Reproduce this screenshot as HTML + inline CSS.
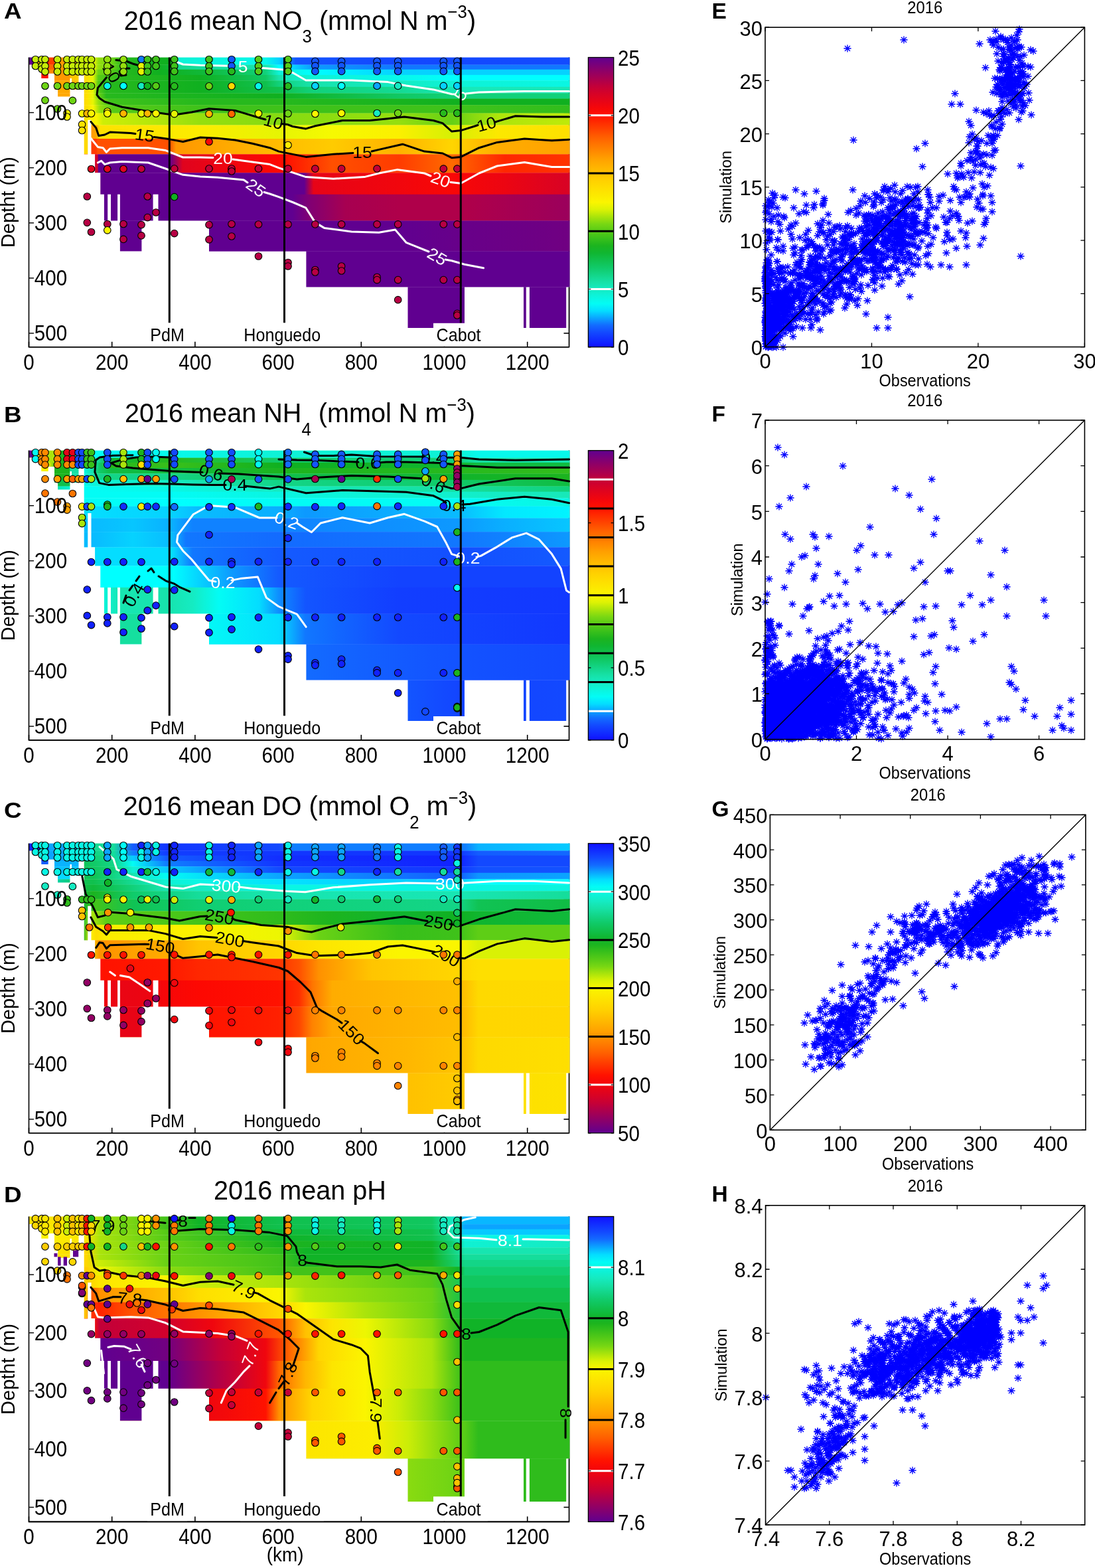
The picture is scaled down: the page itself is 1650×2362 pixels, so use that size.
<!DOCTYPE html>
<html><head><meta charset="utf-8"><style>html,body{margin:0;padding:0;background:#fff;} svg{display:block}</style></head>
<body><svg width="1650" height="2362" viewBox="0 0 1650 2362" font-family="'Liberation Sans', Arial, Helvetica, sans-serif">
<defs><linearGradient id="gA0" x1="0" x2="1" y1="0" y2="0"><stop offset="0.0000" stop-color="#600090"/><stop offset="0.0077" stop-color="#600090"/><stop offset="0.0079" stop-color="#ffa800"/><stop offset="0.0230" stop-color="#ffa800"/><stop offset="0.0231" stop-color="#f90706"/><stop offset="0.0359" stop-color="#f90706"/><stop offset="0.0360" stop-color="#ff3b00"/><stop offset="0.0473" stop-color="#ff3b00"/><stop offset="0.0474" stop-color="#ff9700"/><stop offset="0.1014" stop-color="#ffa800"/><stop offset="0.1087" stop-color="#fcec00"/><stop offset="0.1186" stop-color="#fbf500"/><stop offset="0.1284" stop-color="#96df0e"/><stop offset="0.1529" stop-color="#6ed414"/><stop offset="0.1738" stop-color="#27b91d"/><stop offset="0.2414" stop-color="#10b020"/><stop offset="0.2635" stop-color="#10b020"/><stop offset="0.2758" stop-color="#0ef2d6"/><stop offset="0.4380" stop-color="#07f8eb"/><stop offset="0.4625" stop-color="#06d2ff"/><stop offset="0.4932" stop-color="#1355ff"/><stop offset="0.6837" stop-color="#1347ff"/><stop offset="0.9994" stop-color="#134bff"/><stop offset="1.0000" stop-color="#134bff"/></linearGradient><linearGradient id="gA1" x1="0" x2="1" y1="0" y2="0"><stop offset="0.0000" stop-color="#ff1200"/><stop offset="0.0230" stop-color="#ff1200"/><stop offset="0.0231" stop-color="#f90706"/><stop offset="0.0359" stop-color="#f90706"/><stop offset="0.0360" stop-color="#ff6400"/><stop offset="0.0473" stop-color="#ff6400"/><stop offset="0.0474" stop-color="#ff9700"/><stop offset="0.0756" stop-color="#ff9700"/><stop offset="0.0768" stop-color="#ffc100"/><stop offset="0.1014" stop-color="#ffc100"/><stop offset="0.1087" stop-color="#fcec00"/><stop offset="0.1186" stop-color="#fbf500"/><stop offset="0.1284" stop-color="#96df0e"/><stop offset="0.1529" stop-color="#6ed414"/><stop offset="0.1738" stop-color="#27b91d"/><stop offset="0.2414" stop-color="#10b020"/><stop offset="0.2635" stop-color="#10b836"/><stop offset="0.2758" stop-color="#14da93"/><stop offset="0.4380" stop-color="#17e3ac"/><stop offset="0.4625" stop-color="#00ffff"/><stop offset="0.5240" stop-color="#0d9bff"/><stop offset="0.6837" stop-color="#1177ff"/><stop offset="0.9994" stop-color="#1177ff"/><stop offset="1.0000" stop-color="#1177ff"/></linearGradient><linearGradient id="gA2" x1="0" x2="1" y1="0" y2="0"><stop offset="0.0000" stop-color="#ff1200"/><stop offset="0.0359" stop-color="#ff1200"/><stop offset="0.0360" stop-color="#ff8600"/><stop offset="0.0473" stop-color="#ff8600"/><stop offset="0.0474" stop-color="#ff9700"/><stop offset="0.0756" stop-color="#ff9700"/><stop offset="0.0768" stop-color="#ffc100"/><stop offset="0.1014" stop-color="#fed900"/><stop offset="0.1087" stop-color="#fcec00"/><stop offset="0.1186" stop-color="#e6f503"/><stop offset="0.1284" stop-color="#6ed414"/><stop offset="0.1529" stop-color="#57cb17"/><stop offset="0.1738" stop-color="#27b91d"/><stop offset="0.2414" stop-color="#10b020"/><stop offset="0.3151" stop-color="#10b836"/><stop offset="0.4380" stop-color="#11d17a"/><stop offset="0.4625" stop-color="#0ef2d6"/><stop offset="0.5240" stop-color="#00ffff"/><stop offset="0.6837" stop-color="#06d2ff"/><stop offset="0.9994" stop-color="#06d2ff"/><stop offset="1.0000" stop-color="#06d2ff"/></linearGradient><linearGradient id="gA3" x1="0" x2="1" y1="0" y2="0"><stop offset="0.0000" stop-color="#ff1200"/><stop offset="0.0359" stop-color="#ff1200"/><stop offset="0.0360" stop-color="#ff9700"/><stop offset="0.0756" stop-color="#ff9700"/><stop offset="0.0768" stop-color="#ffc100"/><stop offset="0.1014" stop-color="#fed900"/><stop offset="0.1087" stop-color="#fde200"/><stop offset="0.1186" stop-color="#e6f503"/><stop offset="0.1284" stop-color="#57cb17"/><stop offset="0.1529" stop-color="#3fc21a"/><stop offset="0.1738" stop-color="#27b91d"/><stop offset="0.3151" stop-color="#10b020"/><stop offset="0.4380" stop-color="#10c863"/><stop offset="0.4625" stop-color="#17e3ac"/><stop offset="0.5240" stop-color="#0ef2d6"/><stop offset="0.6837" stop-color="#07f8eb"/><stop offset="0.8065" stop-color="#00ffff"/><stop offset="0.9994" stop-color="#00ffff"/><stop offset="1.0000" stop-color="#00ffff"/></linearGradient><linearGradient id="gA4" x1="0" x2="1" y1="0" y2="0"><stop offset="0.0000" stop-color="#ffa800"/><stop offset="0.0756" stop-color="#ffa800"/><stop offset="0.1014" stop-color="#fed900"/><stop offset="0.1087" stop-color="#fde200"/><stop offset="0.1186" stop-color="#e6f503"/><stop offset="0.1284" stop-color="#57cb17"/><stop offset="0.1431" stop-color="#27b91d"/><stop offset="0.3151" stop-color="#10b020"/><stop offset="0.4380" stop-color="#10c04d"/><stop offset="0.4625" stop-color="#11d17a"/><stop offset="0.5240" stop-color="#17e3ac"/><stop offset="0.6837" stop-color="#15ebc2"/><stop offset="0.7819" stop-color="#0ef2d6"/><stop offset="0.9994" stop-color="#0af6e3"/><stop offset="1.0000" stop-color="#0af6e3"/></linearGradient><linearGradient id="gA5" x1="0" x2="1" y1="0" y2="0"><stop offset="0.0000" stop-color="#ffa800"/><stop offset="0.0756" stop-color="#ffa800"/><stop offset="0.1014" stop-color="#fed900"/><stop offset="0.1087" stop-color="#fde200"/><stop offset="0.1186" stop-color="#e6f503"/><stop offset="0.1284" stop-color="#57cb17"/><stop offset="0.1431" stop-color="#27b91d"/><stop offset="0.3151" stop-color="#10b020"/><stop offset="0.4625" stop-color="#10c04d"/><stop offset="0.5240" stop-color="#11d17a"/><stop offset="0.6837" stop-color="#14da93"/><stop offset="0.8065" stop-color="#17e9ba"/><stop offset="0.9994" stop-color="#18e7b6"/><stop offset="1.0000" stop-color="#18e7b6"/></linearGradient><linearGradient id="gA6" x1="0" x2="1" y1="0" y2="0"><stop offset="0.0000" stop-color="#ffa800"/><stop offset="0.0756" stop-color="#ffa800"/><stop offset="0.1014" stop-color="#fed900"/><stop offset="0.1087" stop-color="#fde200"/><stop offset="0.1186" stop-color="#e6f503"/><stop offset="0.1284" stop-color="#6ed414"/><stop offset="0.1431" stop-color="#27b91d"/><stop offset="0.3151" stop-color="#19b41f"/><stop offset="0.4625" stop-color="#10b020"/><stop offset="0.6837" stop-color="#10c863"/><stop offset="0.8065" stop-color="#11d17a"/><stop offset="0.9994" stop-color="#11d17a"/><stop offset="1.0000" stop-color="#11d17a"/></linearGradient><linearGradient id="gA7" x1="0" x2="1" y1="0" y2="0"><stop offset="0.0000" stop-color="#ffa800"/><stop offset="0.0756" stop-color="#ffa800"/><stop offset="0.1014" stop-color="#fed900"/><stop offset="0.1087" stop-color="#fde200"/><stop offset="0.1186" stop-color="#e6f503"/><stop offset="0.1284" stop-color="#96df0e"/><stop offset="0.1493" stop-color="#3fc21a"/><stop offset="0.3151" stop-color="#27b91d"/><stop offset="0.4625" stop-color="#27b91d"/><stop offset="0.8065" stop-color="#10b020"/><stop offset="0.9994" stop-color="#10b020"/><stop offset="1.0000" stop-color="#10b020"/></linearGradient><linearGradient id="gA8" x1="0" x2="1" y1="0" y2="0"><stop offset="0.0000" stop-color="#ffa800"/><stop offset="0.1014" stop-color="#fed900"/><stop offset="0.1087" stop-color="#fde200"/><stop offset="0.1186" stop-color="#fbf500"/><stop offset="0.1308" stop-color="#96df0e"/><stop offset="0.1554" stop-color="#57cb17"/><stop offset="0.3151" stop-color="#3fc21a"/><stop offset="0.4625" stop-color="#3fc21a"/><stop offset="0.6837" stop-color="#3fc21a"/><stop offset="0.8065" stop-color="#3fc21a"/><stop offset="0.9994" stop-color="#31bd1c"/><stop offset="1.0000" stop-color="#31bd1c"/></linearGradient><linearGradient id="gA9" x1="0" x2="1" y1="0" y2="0"><stop offset="0.0000" stop-color="#ffa800"/><stop offset="0.1014" stop-color="#fed900"/><stop offset="0.1087" stop-color="#fcec00"/><stop offset="0.1247" stop-color="#fbf500"/><stop offset="0.1370" stop-color="#ceee06"/><stop offset="0.2537" stop-color="#aee50b"/><stop offset="0.3151" stop-color="#96df0e"/><stop offset="0.4625" stop-color="#86db11"/><stop offset="0.6837" stop-color="#96df0e"/><stop offset="0.7819" stop-color="#65d015"/><stop offset="0.8679" stop-color="#aee50b"/><stop offset="0.9994" stop-color="#beea09"/><stop offset="1.0000" stop-color="#beea09"/></linearGradient><linearGradient id="gA10" x1="0" x2="1" y1="0" y2="0"><stop offset="0.0000" stop-color="#ffa800"/><stop offset="0.1014" stop-color="#fed900"/><stop offset="0.1124" stop-color="#fed900"/><stop offset="0.1149" stop-color="#ff9700"/><stop offset="0.1247" stop-color="#ffa800"/><stop offset="0.1308" stop-color="#fde200"/><stop offset="0.3151" stop-color="#fcec00"/><stop offset="0.4625" stop-color="#e6f503"/><stop offset="0.5608" stop-color="#f6f901"/><stop offset="0.6837" stop-color="#fbf000"/><stop offset="0.7819" stop-color="#d6f005"/><stop offset="0.8679" stop-color="#fce800"/><stop offset="0.9994" stop-color="#fde000"/><stop offset="1.0000" stop-color="#fde000"/></linearGradient><linearGradient id="gA11" x1="0" x2="1" y1="0" y2="0"><stop offset="0.0000" stop-color="#ffa800"/><stop offset="0.1014" stop-color="#fed900"/><stop offset="0.1124" stop-color="#fed900"/><stop offset="0.1149" stop-color="#ff3b00"/><stop offset="0.1247" stop-color="#ff3b00"/><stop offset="0.1271" stop-color="#ff5000"/><stop offset="0.2598" stop-color="#ff5000"/><stop offset="0.2721" stop-color="#ff9700"/><stop offset="0.4625" stop-color="#ffbc00"/><stop offset="0.5608" stop-color="#ffcb00"/><stop offset="0.6837" stop-color="#ffb200"/><stop offset="0.7819" stop-color="#ffd500"/><stop offset="0.8679" stop-color="#ffad00"/><stop offset="0.9994" stop-color="#ffa100"/><stop offset="1.0000" stop-color="#ffa100"/></linearGradient><linearGradient id="gA12" x1="0" x2="1" y1="0" y2="0"><stop offset="0.0000" stop-color="#ffa700"/><stop offset="0.1186" stop-color="#ff1200"/><stop offset="0.1222" stop-color="#d3012a"/><stop offset="0.1271" stop-color="#d3012a"/><stop offset="0.1284" stop-color="#600090"/><stop offset="0.2598" stop-color="#600090"/><stop offset="0.2844" stop-color="#e0031e"/><stop offset="0.4625" stop-color="#fe0801"/><stop offset="0.5608" stop-color="#ff5000"/><stop offset="0.6837" stop-color="#ff3b00"/><stop offset="0.7819" stop-color="#ff6b00"/><stop offset="0.8802" stop-color="#ff2700"/><stop offset="0.9994" stop-color="#ff3300"/><stop offset="1.0000" stop-color="#ff3300"/></linearGradient><linearGradient id="gA13" x1="0" x2="1" y1="0" y2="0"><stop offset="0.0000" stop-color="#d3012a"/><stop offset="0.1308" stop-color="#88006d"/><stop offset="0.1333" stop-color="#600090"/><stop offset="0.3151" stop-color="#600090"/><stop offset="0.4625" stop-color="#600090"/><stop offset="0.5092" stop-color="#600090"/><stop offset="0.5264" stop-color="#e70417"/><stop offset="0.6837" stop-color="#f1060d"/><stop offset="0.7819" stop-color="#f90706"/><stop offset="0.8802" stop-color="#ec0512"/><stop offset="0.9994" stop-color="#d80225"/><stop offset="1.0000" stop-color="#d80225"/></linearGradient><linearGradient id="gA14" x1="0" x2="1" y1="0" y2="0"><stop offset="0.0000" stop-color="#600090"/><stop offset="0.3151" stop-color="#600090"/><stop offset="0.4871" stop-color="#600090"/><stop offset="0.5178" stop-color="#800074"/><stop offset="0.5854" stop-color="#a70051"/><stop offset="0.6837" stop-color="#af004a"/><stop offset="0.8065" stop-color="#af004a"/><stop offset="0.9994" stop-color="#9b005c"/><stop offset="1.0000" stop-color="#9b005c"/></linearGradient><linearGradient id="gA15" x1="0" x2="1" y1="0" y2="0"><stop offset="0.0000" stop-color="#600090"/><stop offset="0.4625" stop-color="#600090"/><stop offset="0.6837" stop-color="#600090"/><stop offset="0.8065" stop-color="#680089"/><stop offset="0.9994" stop-color="#700082"/><stop offset="1.0000" stop-color="#700082"/></linearGradient><linearGradient id="gA16" x1="0" x2="1" y1="0" y2="0"><stop offset="0.0000" stop-color="#600090"/><stop offset="0.6837" stop-color="#600090"/><stop offset="0.9994" stop-color="#600090"/><stop offset="1.0000" stop-color="#600090"/></linearGradient><linearGradient id="gA17" x1="0" x2="1" y1="0" y2="0"><stop offset="0.0000" stop-color="#600090"/><stop offset="0.9994" stop-color="#600090"/><stop offset="1.0000" stop-color="#600090"/></linearGradient><linearGradient id="gB0" x1="0" x2="1" y1="0" y2="0"><stop offset="0.0000" stop-color="#600090"/><stop offset="0.0077" stop-color="#600090"/><stop offset="0.0079" stop-color="#fbf500"/><stop offset="0.0227" stop-color="#fbf500"/><stop offset="0.0231" stop-color="#aae40b"/><stop offset="0.0473" stop-color="#aae40b"/><stop offset="0.0474" stop-color="#1cb41f"/><stop offset="0.0756" stop-color="#1cb41f"/><stop offset="0.0762" stop-color="#16e1a6"/><stop offset="0.0977" stop-color="#16e1a6"/><stop offset="0.0985" stop-color="#03fcf5"/><stop offset="0.1186" stop-color="#03fcf5"/><stop offset="0.2660" stop-color="#07f8eb"/><stop offset="0.4625" stop-color="#0ef2d6"/><stop offset="0.7942" stop-color="#0ef2d6"/><stop offset="0.8311" stop-color="#07f8eb"/><stop offset="0.9994" stop-color="#07f8eb"/><stop offset="1.0000" stop-color="#07f8eb"/></linearGradient><linearGradient id="gB1" x1="0" x2="1" y1="0" y2="0"><stop offset="0.0000" stop-color="#fbf500"/><stop offset="0.0227" stop-color="#fbf500"/><stop offset="0.0231" stop-color="#aae40b"/><stop offset="0.0473" stop-color="#aae40b"/><stop offset="0.0474" stop-color="#1cb41f"/><stop offset="0.0756" stop-color="#1cb41f"/><stop offset="0.0762" stop-color="#16e1a6"/><stop offset="0.0977" stop-color="#16e1a6"/><stop offset="0.0985" stop-color="#03fcf5"/><stop offset="0.1186" stop-color="#0cf4dc"/><stop offset="0.1308" stop-color="#13d587"/><stop offset="0.1517" stop-color="#10b631"/><stop offset="0.2660" stop-color="#27b91d"/><stop offset="0.4625" stop-color="#10ca68"/><stop offset="0.7942" stop-color="#11d17a"/><stop offset="0.8311" stop-color="#16e1a6"/><stop offset="0.9994" stop-color="#17e6b2"/><stop offset="1.0000" stop-color="#17e6b2"/></linearGradient><linearGradient id="gB2" x1="0" x2="1" y1="0" y2="0"><stop offset="0.0000" stop-color="#fbf500"/><stop offset="0.0362" stop-color="#fbf500"/><stop offset="0.0473" stop-color="#57cb17"/><stop offset="0.0474" stop-color="#1cb41f"/><stop offset="0.0756" stop-color="#1cb41f"/><stop offset="0.0762" stop-color="#16e1a6"/><stop offset="0.0977" stop-color="#16e1a6"/><stop offset="0.0985" stop-color="#03fcf5"/><stop offset="0.1186" stop-color="#15ebc2"/><stop offset="0.1308" stop-color="#10ca68"/><stop offset="0.1517" stop-color="#27b91d"/><stop offset="0.2660" stop-color="#39c01b"/><stop offset="0.4625" stop-color="#10b020"/><stop offset="0.7942" stop-color="#10b631"/><stop offset="0.8311" stop-color="#10bc41"/><stop offset="0.9994" stop-color="#10bc41"/><stop offset="1.0000" stop-color="#10bc41"/></linearGradient><linearGradient id="gB3" x1="0" x2="1" y1="0" y2="0"><stop offset="0.0000" stop-color="#fbf500"/><stop offset="0.0362" stop-color="#fbf500"/><stop offset="0.0473" stop-color="#39c01b"/><stop offset="0.0474" stop-color="#1cb41f"/><stop offset="0.0756" stop-color="#1cb41f"/><stop offset="0.0762" stop-color="#16e1a6"/><stop offset="0.0977" stop-color="#16e1a6"/><stop offset="0.0985" stop-color="#03fcf5"/><stop offset="0.1186" stop-color="#16e1a6"/><stop offset="0.1308" stop-color="#10ca68"/><stop offset="0.1517" stop-color="#10bc41"/><stop offset="0.2660" stop-color="#10bc41"/><stop offset="0.4625" stop-color="#1cb41f"/><stop offset="0.7942" stop-color="#27b91d"/><stop offset="0.9994" stop-color="#33be1c"/><stop offset="1.0000" stop-color="#33be1c"/></linearGradient><linearGradient id="gB4" x1="0" x2="1" y1="0" y2="0"><stop offset="0.0000" stop-color="#1cb41f"/><stop offset="0.0756" stop-color="#1cb41f"/><stop offset="0.0762" stop-color="#16e1a6"/><stop offset="0.0977" stop-color="#16e1a6"/><stop offset="0.0985" stop-color="#03fcf5"/><stop offset="0.1186" stop-color="#16e1a6"/><stop offset="0.1308" stop-color="#13d587"/><stop offset="0.2660" stop-color="#13d587"/><stop offset="0.4625" stop-color="#10c04d"/><stop offset="0.7942" stop-color="#10b42b"/><stop offset="0.9994" stop-color="#1cb41f"/><stop offset="1.0000" stop-color="#1cb41f"/></linearGradient><linearGradient id="gB5" x1="0" x2="1" y1="0" y2="0"><stop offset="0.0000" stop-color="#10c04d"/><stop offset="0.0756" stop-color="#10c04d"/><stop offset="0.0985" stop-color="#03fcf5"/><stop offset="0.1186" stop-color="#0cf4dc"/><stop offset="0.1308" stop-color="#0ef2d6"/><stop offset="0.2660" stop-color="#15ebc2"/><stop offset="0.4625" stop-color="#13d587"/><stop offset="0.7942" stop-color="#10ca68"/><stop offset="0.9994" stop-color="#10bc41"/><stop offset="1.0000" stop-color="#10bc41"/></linearGradient><linearGradient id="gB6" x1="0" x2="1" y1="0" y2="0"><stop offset="0.0000" stop-color="#10ca69"/><stop offset="0.0985" stop-color="#03fcf5"/><stop offset="0.1186" stop-color="#03fcf5"/><stop offset="0.2660" stop-color="#09f7e6"/><stop offset="0.4625" stop-color="#15ebc2"/><stop offset="0.7942" stop-color="#15df9f"/><stop offset="0.9994" stop-color="#11d17a"/><stop offset="1.0000" stop-color="#11d17a"/></linearGradient><linearGradient id="gB7" x1="0" x2="1" y1="0" y2="0"><stop offset="0.0000" stop-color="#13d687"/><stop offset="0.0985" stop-color="#03fcf5"/><stop offset="0.1186" stop-color="#03fcf5"/><stop offset="0.2660" stop-color="#03fcf5"/><stop offset="0.4625" stop-color="#0af5e1"/><stop offset="0.7942" stop-color="#11efcc"/><stop offset="0.9994" stop-color="#18e8b8"/><stop offset="1.0000" stop-color="#18e8b8"/></linearGradient><linearGradient id="gB8" x1="0" x2="1" y1="0" y2="0"><stop offset="0.0000" stop-color="#03fcf5"/><stop offset="0.1186" stop-color="#03fcf5"/><stop offset="0.2660" stop-color="#00ffff"/><stop offset="0.4625" stop-color="#03fcf5"/><stop offset="0.7942" stop-color="#03fcf5"/><stop offset="0.9994" stop-color="#0af5e1"/><stop offset="1.0000" stop-color="#0af5e1"/></linearGradient><linearGradient id="gB9" x1="0" x2="1" y1="0" y2="0"><stop offset="0.0000" stop-color="#03e8ff"/><stop offset="0.1186" stop-color="#04ddff"/><stop offset="0.2660" stop-color="#06d2ff"/><stop offset="0.3151" stop-color="#09bbff"/><stop offset="0.4625" stop-color="#0aafff"/><stop offset="0.5117" stop-color="#0d99ff"/><stop offset="0.7942" stop-color="#09bbff"/><stop offset="0.8802" stop-color="#03e8ff"/><stop offset="0.9994" stop-color="#01f4ff"/><stop offset="1.0000" stop-color="#01f4ff"/></linearGradient><linearGradient id="gB10" x1="0" x2="1" y1="0" y2="0"><stop offset="0.0000" stop-color="#06d1ff"/><stop offset="0.1186" stop-color="#09bbff"/><stop offset="0.1923" stop-color="#07c6ff"/><stop offset="0.2660" stop-color="#0aafff"/><stop offset="0.3028" stop-color="#1082ff"/><stop offset="0.4625" stop-color="#1082ff"/><stop offset="0.7942" stop-color="#0d99ff"/><stop offset="0.8802" stop-color="#0aafff"/><stop offset="0.9994" stop-color="#07c6ff"/><stop offset="1.0000" stop-color="#07c6ff"/></linearGradient><linearGradient id="gB11" x1="0" x2="1" y1="0" y2="0"><stop offset="0.0000" stop-color="#07c6ff"/><stop offset="0.1186" stop-color="#09bbff"/><stop offset="0.1923" stop-color="#06d2ff"/><stop offset="0.2660" stop-color="#09bbff"/><stop offset="0.2905" stop-color="#1177ff"/><stop offset="0.4625" stop-color="#136bff"/><stop offset="0.7942" stop-color="#1177ff"/><stop offset="0.8802" stop-color="#1082ff"/><stop offset="0.9994" stop-color="#0d99ff"/><stop offset="1.0000" stop-color="#0d99ff"/></linearGradient><linearGradient id="gB12" x1="0" x2="1" y1="0" y2="0"><stop offset="0.0000" stop-color="#04ddff"/><stop offset="0.1186" stop-color="#04ddff"/><stop offset="0.2660" stop-color="#04ddff"/><stop offset="0.3028" stop-color="#1177ff"/><stop offset="0.4625" stop-color="#145aff"/><stop offset="0.7942" stop-color="#134fff"/><stop offset="0.9994" stop-color="#145aff"/><stop offset="1.0000" stop-color="#145aff"/></linearGradient><linearGradient id="gB13" x1="0" x2="1" y1="0" y2="0"><stop offset="0.0000" stop-color="#00ffff"/><stop offset="0.1186" stop-color="#00ffff"/><stop offset="0.2660" stop-color="#00ffff"/><stop offset="0.3151" stop-color="#06d2ff"/><stop offset="0.3765" stop-color="#0d99ff"/><stop offset="0.4625" stop-color="#145aff"/><stop offset="0.6837" stop-color="#1343ff"/><stop offset="0.9994" stop-color="#1343ff"/><stop offset="1.0000" stop-color="#1343ff"/></linearGradient><linearGradient id="gB14" x1="0" x2="1" y1="0" y2="0"><stop offset="0.0000" stop-color="#07f8eb"/><stop offset="0.1308" stop-color="#09f7e6"/><stop offset="0.1677" stop-color="#17e6b2"/><stop offset="0.2537" stop-color="#17e3ac"/><stop offset="0.3028" stop-color="#15ebc2"/><stop offset="0.3520" stop-color="#03fcf5"/><stop offset="0.4257" stop-color="#04ddff"/><stop offset="0.4625" stop-color="#0e8dff"/><stop offset="0.5117" stop-color="#1355ff"/><stop offset="0.6837" stop-color="#123eff"/><stop offset="0.9994" stop-color="#1238ff"/><stop offset="1.0000" stop-color="#1238ff"/></linearGradient><linearGradient id="gB15" x1="0" x2="1" y1="0" y2="0"><stop offset="0.0000" stop-color="#16e1a5"/><stop offset="0.1677" stop-color="#15df9f"/><stop offset="0.2537" stop-color="#15df9f"/><stop offset="0.3151" stop-color="#03fcf5"/><stop offset="0.4625" stop-color="#04ddff"/><stop offset="0.5117" stop-color="#1177ff"/><stop offset="0.6837" stop-color="#1349ff"/><stop offset="0.9994" stop-color="#1238ff"/><stop offset="1.0000" stop-color="#1238ff"/></linearGradient><linearGradient id="gB16" x1="0" x2="1" y1="0" y2="0"><stop offset="0.0000" stop-color="#03fcf5"/><stop offset="0.4625" stop-color="#06d2ff"/><stop offset="0.5117" stop-color="#136bff"/><stop offset="0.7451" stop-color="#1355ff"/><stop offset="0.9994" stop-color="#1349ff"/><stop offset="1.0000" stop-color="#1349ff"/></linearGradient><linearGradient id="gB17" x1="0" x2="1" y1="0" y2="0"><stop offset="0.0000" stop-color="#145aff"/><stop offset="0.7009" stop-color="#1355ff"/><stop offset="0.8065" stop-color="#1343ff"/><stop offset="0.9994" stop-color="#1349ff"/><stop offset="1.0000" stop-color="#1349ff"/></linearGradient><linearGradient id="gC0" x1="0" x2="1" y1="0" y2="0"><stop offset="0.0000" stop-color="#1123ff"/><stop offset="0.0362" stop-color="#1123ff"/><stop offset="0.0364" stop-color="#0ba4ff"/><stop offset="0.0977" stop-color="#0ba4ff"/><stop offset="0.0985" stop-color="#13d587"/><stop offset="0.1566" stop-color="#15dd9b"/><stop offset="0.1923" stop-color="#145cff"/><stop offset="0.2537" stop-color="#1236ff"/><stop offset="0.4625" stop-color="#1349ff"/><stop offset="0.4871" stop-color="#107eff"/><stop offset="0.8065" stop-color="#107eff"/><stop offset="0.8311" stop-color="#0ab3ff"/><stop offset="0.9994" stop-color="#07caff"/><stop offset="1.0000" stop-color="#07caff"/></linearGradient><linearGradient id="gC1" x1="0" x2="1" y1="0" y2="0"><stop offset="0.0000" stop-color="#1123ff"/><stop offset="0.0362" stop-color="#1123ff"/><stop offset="0.0364" stop-color="#0ba4ff"/><stop offset="0.0977" stop-color="#0ba4ff"/><stop offset="0.0985" stop-color="#10ce72"/><stop offset="0.1566" stop-color="#15dd9b"/><stop offset="0.1923" stop-color="#107eff"/><stop offset="0.2537" stop-color="#123eff"/><stop offset="0.4625" stop-color="#1236ff"/><stop offset="0.7942" stop-color="#1236ff"/><stop offset="0.8311" stop-color="#145cff"/><stop offset="0.9994" stop-color="#1368ff"/><stop offset="1.0000" stop-color="#1368ff"/></linearGradient><linearGradient id="gC2" x1="0" x2="1" y1="0" y2="0"><stop offset="0.0000" stop-color="#1123ff"/><stop offset="0.0362" stop-color="#1123ff"/><stop offset="0.0364" stop-color="#0ba4ff"/><stop offset="0.0977" stop-color="#0ba4ff"/><stop offset="0.0985" stop-color="#10c75f"/><stop offset="0.1566" stop-color="#14da93"/><stop offset="0.1923" stop-color="#07caff"/><stop offset="0.2537" stop-color="#145cff"/><stop offset="0.4625" stop-color="#122eff"/><stop offset="0.7942" stop-color="#1123ff"/><stop offset="0.8311" stop-color="#1349ff"/><stop offset="0.9994" stop-color="#1349ff"/><stop offset="1.0000" stop-color="#1349ff"/></linearGradient><linearGradient id="gC3" x1="0" x2="1" y1="0" y2="0"><stop offset="0.0000" stop-color="#145cff"/><stop offset="0.0362" stop-color="#145cff"/><stop offset="0.0364" stop-color="#0ab3ff"/><stop offset="0.0977" stop-color="#0ab3ff"/><stop offset="0.0985" stop-color="#10c354"/><stop offset="0.1566" stop-color="#13d587"/><stop offset="0.1923" stop-color="#03fcf5"/><stop offset="0.2537" stop-color="#107eff"/><stop offset="0.4625" stop-color="#1236ff"/><stop offset="0.7942" stop-color="#1123ff"/><stop offset="0.8311" stop-color="#1349ff"/><stop offset="0.9994" stop-color="#1349ff"/><stop offset="1.0000" stop-color="#1349ff"/></linearGradient><linearGradient id="gC4" x1="0" x2="1" y1="0" y2="0"><stop offset="0.0000" stop-color="#0ab3ff"/><stop offset="0.0977" stop-color="#07caff"/><stop offset="0.0985" stop-color="#10c354"/><stop offset="0.1186" stop-color="#10c75f"/><stop offset="0.1566" stop-color="#11d17a"/><stop offset="0.1923" stop-color="#0ff1d3"/><stop offset="0.2537" stop-color="#07caff"/><stop offset="0.4625" stop-color="#1349ff"/><stop offset="0.7942" stop-color="#1236ff"/><stop offset="0.8311" stop-color="#1351ff"/><stop offset="0.9994" stop-color="#1351ff"/><stop offset="1.0000" stop-color="#1351ff"/></linearGradient><linearGradient id="gC5" x1="0" x2="1" y1="0" y2="0"><stop offset="0.0000" stop-color="#07caff"/><stop offset="0.0977" stop-color="#04e1ff"/><stop offset="0.0985" stop-color="#10c354"/><stop offset="0.1186" stop-color="#10c354"/><stop offset="0.1923" stop-color="#17e5b0"/><stop offset="0.2537" stop-color="#03fcf5"/><stop offset="0.4625" stop-color="#0ba4ff"/><stop offset="0.7942" stop-color="#145cff"/><stop offset="0.8311" stop-color="#0d95ff"/><stop offset="0.9994" stop-color="#0ba4ff"/><stop offset="1.0000" stop-color="#0ba4ff"/></linearGradient><linearGradient id="gC6" x1="0" x2="1" y1="0" y2="0"><stop offset="0.0000" stop-color="#04e3ff"/><stop offset="0.0985" stop-color="#10c354"/><stop offset="0.1186" stop-color="#10c04d"/><stop offset="0.1923" stop-color="#14da93"/><stop offset="0.2537" stop-color="#0ff1d3"/><stop offset="0.3151" stop-color="#09f6e4"/><stop offset="0.4625" stop-color="#04e1ff"/><stop offset="0.7942" stop-color="#07caff"/><stop offset="0.8311" stop-color="#00ffff"/><stop offset="0.9994" stop-color="#00ffff"/><stop offset="1.0000" stop-color="#00ffff"/></linearGradient><linearGradient id="gC7" x1="0" x2="1" y1="0" y2="0"><stop offset="0.0000" stop-color="#02f2ff"/><stop offset="0.0985" stop-color="#10c04d"/><stop offset="0.1186" stop-color="#10b93a"/><stop offset="0.1923" stop-color="#11d17a"/><stop offset="0.2537" stop-color="#17e5b0"/><stop offset="0.3151" stop-color="#15ebc2"/><stop offset="0.4625" stop-color="#09f6e4"/><stop offset="0.7942" stop-color="#09f6e4"/><stop offset="0.9994" stop-color="#0bf4dd"/><stop offset="1.0000" stop-color="#0bf4dd"/></linearGradient><linearGradient id="gC8" x1="0" x2="1" y1="0" y2="0"><stop offset="0.0000" stop-color="#04fbf4"/><stop offset="0.0985" stop-color="#10bd45"/><stop offset="0.1186" stop-color="#1cb41f"/><stop offset="0.1923" stop-color="#10cb6a"/><stop offset="0.3151" stop-color="#15dd9b"/><stop offset="0.4625" stop-color="#17e5b0"/><stop offset="0.7942" stop-color="#18e6b4"/><stop offset="0.9994" stop-color="#15dd9b"/><stop offset="1.0000" stop-color="#15dd9b"/></linearGradient><linearGradient id="gC9" x1="0" x2="1" y1="0" y2="0"><stop offset="0.0000" stop-color="#09f6e3"/><stop offset="0.0985" stop-color="#10b93a"/><stop offset="0.1149" stop-color="#2fbc1c"/><stop offset="0.1247" stop-color="#43c41a"/><stop offset="0.1923" stop-color="#10c354"/><stop offset="0.3151" stop-color="#10ce72"/><stop offset="0.4625" stop-color="#11d17a"/><stop offset="0.7942" stop-color="#13d587"/><stop offset="0.8311" stop-color="#10c354"/><stop offset="0.9994" stop-color="#10bd45"/><stop offset="1.0000" stop-color="#10bd45"/></linearGradient><linearGradient id="gC10" x1="0" x2="1" y1="0" y2="0"><stop offset="0.0000" stop-color="#09f6e3"/><stop offset="0.0985" stop-color="#10b93a"/><stop offset="0.1149" stop-color="#aae40b"/><stop offset="0.1247" stop-color="#96df0e"/><stop offset="0.1431" stop-color="#5ece16"/><stop offset="0.3151" stop-color="#43c41a"/><stop offset="0.4625" stop-color="#2fbc1c"/><stop offset="0.5608" stop-color="#1cb41f"/><stop offset="0.6837" stop-color="#10b52f"/><stop offset="0.7942" stop-color="#10b020"/><stop offset="0.8311" stop-color="#10b52f"/><stop offset="0.9994" stop-color="#10b93a"/><stop offset="1.0000" stop-color="#10b93a"/></linearGradient><linearGradient id="gC11" x1="0" x2="1" y1="0" y2="0"><stop offset="0.0000" stop-color="#09f6e3"/><stop offset="0.0985" stop-color="#10b327"/><stop offset="0.1149" stop-color="#fced00"/><stop offset="0.1247" stop-color="#fedd00"/><stop offset="0.1431" stop-color="#fced00"/><stop offset="0.3151" stop-color="#fbf200"/><stop offset="0.4625" stop-color="#edf602"/><stop offset="0.5362" stop-color="#6ad215"/><stop offset="0.6837" stop-color="#37bf1b"/><stop offset="0.7942" stop-color="#3fc21a"/><stop offset="0.8311" stop-color="#5ece16"/><stop offset="0.9994" stop-color="#5ece16"/><stop offset="1.0000" stop-color="#5ece16"/></linearGradient><linearGradient id="gC12" x1="0" x2="1" y1="0" y2="0"><stop offset="0.0000" stop-color="#0af6e3"/><stop offset="0.0985" stop-color="#2fbc1c"/><stop offset="0.1149" stop-color="#ffcc00"/><stop offset="0.1247" stop-color="#ffac00"/><stop offset="0.1308" stop-color="#ff9100"/><stop offset="0.1923" stop-color="#ffa000"/><stop offset="0.2623" stop-color="#ffac00"/><stop offset="0.3151" stop-color="#ffc500"/><stop offset="0.4625" stop-color="#ffd600"/><stop offset="0.5362" stop-color="#fde500"/><stop offset="0.6837" stop-color="#fbf500"/><stop offset="0.7942" stop-color="#fbf500"/><stop offset="0.8311" stop-color="#d9f105"/><stop offset="0.9994" stop-color="#d9f105"/><stop offset="1.0000" stop-color="#d9f105"/></linearGradient><linearGradient id="gC13" x1="0" x2="1" y1="0" y2="0"><stop offset="0.0000" stop-color="#ff9100"/><stop offset="0.1247" stop-color="#ff0b00"/><stop offset="0.1308" stop-color="#ff1200"/><stop offset="0.2537" stop-color="#ff1900"/><stop offset="0.3151" stop-color="#ff2700"/><stop offset="0.4625" stop-color="#ff3400"/><stop offset="0.4994" stop-color="#ff5000"/><stop offset="0.5362" stop-color="#ff9100"/><stop offset="0.6345" stop-color="#ffc500"/><stop offset="0.7942" stop-color="#ffd600"/><stop offset="0.8311" stop-color="#fedf00"/><stop offset="0.9994" stop-color="#fedf00"/><stop offset="1.0000" stop-color="#fedf00"/></linearGradient><linearGradient id="gC14" x1="0" x2="1" y1="0" y2="0"><stop offset="0.0000" stop-color="#ff3400"/><stop offset="0.1308" stop-color="#f0060e"/><stop offset="0.1677" stop-color="#ea0514"/><stop offset="0.2291" stop-color="#ec0512"/><stop offset="0.2537" stop-color="#f70708"/><stop offset="0.3151" stop-color="#fd0802"/><stop offset="0.4625" stop-color="#ff1200"/><stop offset="0.4994" stop-color="#ff2d00"/><stop offset="0.5240" stop-color="#ff7500"/><stop offset="0.5608" stop-color="#ffac00"/><stop offset="0.8065" stop-color="#ffc100"/><stop offset="0.8311" stop-color="#fed900"/><stop offset="0.9994" stop-color="#feda00"/><stop offset="1.0000" stop-color="#feda00"/></linearGradient><linearGradient id="gC15" x1="0" x2="1" y1="0" y2="0"><stop offset="0.0000" stop-color="#ff1200"/><stop offset="0.1308" stop-color="#ec0512"/><stop offset="0.1677" stop-color="#e80416"/><stop offset="0.2082" stop-color="#e80416"/><stop offset="0.3151" stop-color="#ff1200"/><stop offset="0.4625" stop-color="#ff2000"/><stop offset="0.4994" stop-color="#ff4500"/><stop offset="0.5240" stop-color="#ff8300"/><stop offset="0.5608" stop-color="#ffa800"/><stop offset="0.8065" stop-color="#ffbd00"/><stop offset="0.8311" stop-color="#ffd600"/><stop offset="0.9994" stop-color="#ffd700"/><stop offset="1.0000" stop-color="#ffd700"/></linearGradient><linearGradient id="gC16" x1="0" x2="1" y1="0" y2="0"><stop offset="0.0000" stop-color="#ff5600"/><stop offset="0.4625" stop-color="#ff8c00"/><stop offset="0.5240" stop-color="#ffa800"/><stop offset="0.7009" stop-color="#ffb700"/><stop offset="0.8065" stop-color="#ffc500"/><stop offset="0.8311" stop-color="#fed900"/><stop offset="0.9994" stop-color="#fedf00"/><stop offset="1.0000" stop-color="#fedf00"/></linearGradient><linearGradient id="gC17" x1="0" x2="1" y1="0" y2="0"><stop offset="0.0000" stop-color="#ffc100"/><stop offset="0.7009" stop-color="#ffc100"/><stop offset="0.8065" stop-color="#ffcc00"/><stop offset="0.8311" stop-color="#fedf00"/><stop offset="0.9994" stop-color="#fde200"/><stop offset="1.0000" stop-color="#fde200"/></linearGradient><linearGradient id="gD0" x1="0" x2="1" y1="0" y2="0"><stop offset="0.0000" stop-color="#fde500"/><stop offset="0.1063" stop-color="#fde500"/><stop offset="0.1308" stop-color="#aae40b"/><stop offset="0.2537" stop-color="#43c31a"/><stop offset="0.3151" stop-color="#10b327"/><stop offset="0.4625" stop-color="#10c04d"/><stop offset="0.7451" stop-color="#10c75f"/><stop offset="0.7819" stop-color="#15ebc2"/><stop offset="0.8065" stop-color="#09b7ff"/><stop offset="0.9994" stop-color="#09b7ff"/><stop offset="1.0000" stop-color="#09b7ff"/></linearGradient><linearGradient id="gD1" x1="0" x2="1" y1="0" y2="0"><stop offset="0.0000" stop-color="#fde500"/><stop offset="0.1063" stop-color="#fde500"/><stop offset="0.1308" stop-color="#aae40b"/><stop offset="0.2537" stop-color="#43c31a"/><stop offset="0.3151" stop-color="#10b327"/><stop offset="0.4625" stop-color="#10c04d"/><stop offset="0.7451" stop-color="#10c75f"/><stop offset="0.7819" stop-color="#15ebc2"/><stop offset="0.8065" stop-color="#0ba4ff"/><stop offset="0.9994" stop-color="#0ba4ff"/><stop offset="1.0000" stop-color="#0ba4ff"/></linearGradient><linearGradient id="gD2" x1="0" x2="1" y1="0" y2="0"><stop offset="0.0000" stop-color="#fbf500"/><stop offset="0.1063" stop-color="#fced00"/><stop offset="0.1308" stop-color="#aae40b"/><stop offset="0.2537" stop-color="#56cb17"/><stop offset="0.4625" stop-color="#10b93a"/><stop offset="0.7451" stop-color="#10c04d"/><stop offset="0.7819" stop-color="#17e5b0"/><stop offset="0.8065" stop-color="#07caff"/><stop offset="0.9994" stop-color="#07caff"/><stop offset="1.0000" stop-color="#07caff"/></linearGradient><linearGradient id="gD3" x1="0" x2="1" y1="0" y2="0"><stop offset="0.0000" stop-color="#fbf500"/><stop offset="0.1063" stop-color="#fde500"/><stop offset="0.1308" stop-color="#aae40b"/><stop offset="0.2537" stop-color="#56cb17"/><stop offset="0.4625" stop-color="#10b327"/><stop offset="0.7451" stop-color="#10c04d"/><stop offset="0.7819" stop-color="#13d587"/><stop offset="0.8065" stop-color="#09f6e4"/><stop offset="0.9994" stop-color="#09f6e4"/><stop offset="1.0000" stop-color="#09f6e4"/></linearGradient><linearGradient id="gD4" x1="0" x2="1" y1="0" y2="0"><stop offset="0.0000" stop-color="#fbf500"/><stop offset="0.1063" stop-color="#fede00"/><stop offset="0.1308" stop-color="#aae40b"/><stop offset="0.2537" stop-color="#6ad215"/><stop offset="0.4625" stop-color="#1cb41f"/><stop offset="0.7451" stop-color="#10b327"/><stop offset="0.7819" stop-color="#10ce72"/><stop offset="0.8065" stop-color="#0ff1d3"/><stop offset="0.9994" stop-color="#15ebc2"/><stop offset="1.0000" stop-color="#15ebc2"/></linearGradient><linearGradient id="gD5" x1="0" x2="1" y1="0" y2="0"><stop offset="0.0000" stop-color="#fbf500"/><stop offset="0.1063" stop-color="#ffd600"/><stop offset="0.1308" stop-color="#aae40b"/><stop offset="0.2537" stop-color="#6ad215"/><stop offset="0.4625" stop-color="#2fbc1c"/><stop offset="0.5117" stop-color="#10b327"/><stop offset="0.7451" stop-color="#10b327"/><stop offset="0.8065" stop-color="#17e5b0"/><stop offset="0.9994" stop-color="#17e5b0"/><stop offset="1.0000" stop-color="#17e5b0"/></linearGradient><linearGradient id="gD6" x1="0" x2="1" y1="0" y2="0"><stop offset="0.0000" stop-color="#fbf500"/><stop offset="0.1063" stop-color="#ffd600"/><stop offset="0.1308" stop-color="#aae40b"/><stop offset="0.2537" stop-color="#6ad215"/><stop offset="0.4625" stop-color="#43c31a"/><stop offset="0.5117" stop-color="#10b327"/><stop offset="0.7451" stop-color="#10b327"/><stop offset="0.8065" stop-color="#15dd9b"/><stop offset="0.9994" stop-color="#15dd9b"/><stop offset="1.0000" stop-color="#15dd9b"/></linearGradient><linearGradient id="gD7" x1="0" x2="1" y1="0" y2="0"><stop offset="0.0000" stop-color="#fbf500"/><stop offset="0.1063" stop-color="#ffd600"/><stop offset="0.1308" stop-color="#cbed07"/><stop offset="0.2537" stop-color="#6ad215"/><stop offset="0.4625" stop-color="#43c31a"/><stop offset="0.5117" stop-color="#1cb41f"/><stop offset="0.7451" stop-color="#1cb41f"/><stop offset="0.8065" stop-color="#13d587"/><stop offset="0.9994" stop-color="#13d587"/><stop offset="1.0000" stop-color="#13d587"/></linearGradient><linearGradient id="gD8" x1="0" x2="1" y1="0" y2="0"><stop offset="0.0000" stop-color="#fbf500"/><stop offset="0.1063" stop-color="#ffcc00"/><stop offset="0.1308" stop-color="#edf602"/><stop offset="0.2537" stop-color="#89db10"/><stop offset="0.4625" stop-color="#43c31a"/><stop offset="0.7451" stop-color="#43c31a"/><stop offset="0.7942" stop-color="#10b327"/><stop offset="0.8065" stop-color="#10ce72"/><stop offset="0.9994" stop-color="#10ce72"/><stop offset="1.0000" stop-color="#10ce72"/></linearGradient><linearGradient id="gD9" x1="0" x2="1" y1="0" y2="0"><stop offset="0.0000" stop-color="#ffcc00"/><stop offset="0.1063" stop-color="#ffcc00"/><stop offset="0.1308" stop-color="#fde500"/><stop offset="0.2537" stop-color="#fbf500"/><stop offset="0.3151" stop-color="#cbed07"/><stop offset="0.4625" stop-color="#aae40b"/><stop offset="0.7451" stop-color="#56cb17"/><stop offset="0.8065" stop-color="#10c75f"/><stop offset="0.9994" stop-color="#10c75f"/><stop offset="1.0000" stop-color="#10c75f"/></linearGradient><linearGradient id="gD10" x1="0" x2="1" y1="0" y2="0"><stop offset="0.0000" stop-color="#ffcc00"/><stop offset="0.1063" stop-color="#ffc100"/><stop offset="0.1149" stop-color="#ff5600"/><stop offset="0.1308" stop-color="#ff9100"/><stop offset="0.2537" stop-color="#ffc100"/><stop offset="0.3151" stop-color="#fede00"/><stop offset="0.4625" stop-color="#fbf500"/><stop offset="0.5117" stop-color="#aae40b"/><stop offset="0.7451" stop-color="#6ad215"/><stop offset="0.8065" stop-color="#10c04d"/><stop offset="0.9994" stop-color="#10c04d"/><stop offset="1.0000" stop-color="#10c04d"/></linearGradient><linearGradient id="gD11" x1="0" x2="1" y1="0" y2="0"><stop offset="0.0000" stop-color="#ffcc00"/><stop offset="0.1063" stop-color="#ffc100"/><stop offset="0.1149" stop-color="#ff3400"/><stop offset="0.1308" stop-color="#ff2300"/><stop offset="0.1923" stop-color="#ff5600"/><stop offset="0.3151" stop-color="#ff9100"/><stop offset="0.4625" stop-color="#ffd600"/><stop offset="0.5117" stop-color="#fbf500"/><stop offset="0.6222" stop-color="#aae40b"/><stop offset="0.7451" stop-color="#6ad215"/><stop offset="0.8065" stop-color="#10b93a"/><stop offset="0.9994" stop-color="#10b93a"/><stop offset="1.0000" stop-color="#10b93a"/></linearGradient><linearGradient id="gD12" x1="0" x2="1" y1="0" y2="0"><stop offset="0.0000" stop-color="#ffcb00"/><stop offset="0.1186" stop-color="#ff1200"/><stop offset="0.1308" stop-color="#c30039"/><stop offset="0.2537" stop-color="#d1012c"/><stop offset="0.3397" stop-color="#f0060e"/><stop offset="0.4625" stop-color="#ff5600"/><stop offset="0.5117" stop-color="#ffc100"/><stop offset="0.5608" stop-color="#fde500"/><stop offset="0.6222" stop-color="#edf602"/><stop offset="0.7451" stop-color="#89db10"/><stop offset="0.8065" stop-color="#10b327"/><stop offset="0.9994" stop-color="#10b327"/><stop offset="1.0000" stop-color="#10b327"/></linearGradient><linearGradient id="gD13" x1="0" x2="1" y1="0" y2="0"><stop offset="0.0000" stop-color="#600090"/><stop offset="0.1308" stop-color="#600090"/><stop offset="0.2537" stop-color="#710081"/><stop offset="0.3520" stop-color="#c30039"/><stop offset="0.4380" stop-color="#f0060e"/><stop offset="0.4748" stop-color="#ff5600"/><stop offset="0.5362" stop-color="#ffd600"/><stop offset="0.6222" stop-color="#fbf500"/><stop offset="0.7451" stop-color="#aae40b"/><stop offset="0.8065" stop-color="#1cb41f"/><stop offset="0.9994" stop-color="#1cb41f"/><stop offset="1.0000" stop-color="#1cb41f"/></linearGradient><linearGradient id="gD14" x1="0" x2="1" y1="0" y2="0"><stop offset="0.0000" stop-color="#600090"/><stop offset="0.2537" stop-color="#600090"/><stop offset="0.3520" stop-color="#b30047"/><stop offset="0.4380" stop-color="#f0060e"/><stop offset="0.4625" stop-color="#ff6700"/><stop offset="0.5117" stop-color="#ffb700"/><stop offset="0.5608" stop-color="#fde500"/><stop offset="0.6222" stop-color="#fbf500"/><stop offset="0.7451" stop-color="#aae40b"/><stop offset="0.8065" stop-color="#2fbc1c"/><stop offset="0.9994" stop-color="#2fbc1c"/><stop offset="1.0000" stop-color="#2fbc1c"/></linearGradient><linearGradient id="gD15" x1="0" x2="1" y1="0" y2="0"><stop offset="0.0000" stop-color="#600090"/><stop offset="0.2082" stop-color="#600090"/><stop offset="0.3335" stop-color="#f0060e"/><stop offset="0.4380" stop-color="#ff1200"/><stop offset="0.4625" stop-color="#ff9100"/><stop offset="0.5240" stop-color="#ffd600"/><stop offset="0.6222" stop-color="#fbf500"/><stop offset="0.6837" stop-color="#cbed07"/><stop offset="0.7451" stop-color="#89db10"/><stop offset="0.8065" stop-color="#2fbc1c"/><stop offset="0.9994" stop-color="#2fbc1c"/><stop offset="1.0000" stop-color="#2fbc1c"/></linearGradient><linearGradient id="gD16" x1="0" x2="1" y1="0" y2="0"><stop offset="0.0000" stop-color="#f1060e"/><stop offset="0.5129" stop-color="#fde500"/><stop offset="0.6345" stop-color="#fced00"/><stop offset="0.7009" stop-color="#cbed07"/><stop offset="0.8065" stop-color="#56cb17"/><stop offset="0.8311" stop-color="#2fbc1c"/><stop offset="0.9994" stop-color="#2fbc1c"/><stop offset="1.0000" stop-color="#2fbc1c"/></linearGradient><linearGradient id="gD17" x1="0" x2="1" y1="0" y2="0"><stop offset="0.0000" stop-color="#89db10"/><stop offset="0.7009" stop-color="#89db10"/><stop offset="0.8065" stop-color="#6ad215"/><stop offset="0.8311" stop-color="#2fbc1c"/><stop offset="0.9994" stop-color="#2fbc1c"/><stop offset="1.0000" stop-color="#2fbc1c"/></linearGradient><linearGradient id="cbA" x1="0" y1="0" x2="0" y2="1"><stop offset="0.000" stop-color="#600090"/><stop offset="0.025" stop-color="#79007a"/><stop offset="0.050" stop-color="#920064"/><stop offset="0.075" stop-color="#aa004f"/><stop offset="0.100" stop-color="#c30039"/><stop offset="0.125" stop-color="#d60227"/><stop offset="0.150" stop-color="#e60418"/><stop offset="0.175" stop-color="#f60709"/><stop offset="0.200" stop-color="#ff1200"/><stop offset="0.225" stop-color="#ff2c00"/><stop offset="0.250" stop-color="#ff4500"/><stop offset="0.275" stop-color="#ff5f00"/><stop offset="0.300" stop-color="#ff7500"/><stop offset="0.325" stop-color="#ff8a00"/><stop offset="0.350" stop-color="#ffa000"/><stop offset="0.375" stop-color="#ffb100"/><stop offset="0.400" stop-color="#ffc100"/><stop offset="0.425" stop-color="#ffd100"/><stop offset="0.450" stop-color="#fedd00"/><stop offset="0.475" stop-color="#fce900"/><stop offset="0.500" stop-color="#fbf500"/><stop offset="0.525" stop-color="#dcf204"/><stop offset="0.550" stop-color="#aae40b"/><stop offset="0.575" stop-color="#78d713"/><stop offset="0.600" stop-color="#57cb17"/><stop offset="0.625" stop-color="#39c01b"/><stop offset="0.650" stop-color="#1cb41f"/><stop offset="0.675" stop-color="#10b631"/><stop offset="0.700" stop-color="#10c04d"/><stop offset="0.725" stop-color="#10ca68"/><stop offset="0.750" stop-color="#13d587"/><stop offset="0.775" stop-color="#16e1a6"/><stop offset="0.800" stop-color="#15ebc2"/><stop offset="0.825" stop-color="#0cf4dc"/><stop offset="0.850" stop-color="#03fcf5"/><stop offset="0.875" stop-color="#04ddff"/><stop offset="0.900" stop-color="#0ba4ff"/><stop offset="0.925" stop-color="#136bff"/><stop offset="0.950" stop-color="#1349ff"/><stop offset="0.975" stop-color="#112dff"/><stop offset="1.000" stop-color="#1010ff"/></linearGradient><linearGradient id="cbB" x1="0" y1="0" x2="0" y2="1"><stop offset="0.000" stop-color="#600090"/><stop offset="0.025" stop-color="#79007a"/><stop offset="0.050" stop-color="#920064"/><stop offset="0.075" stop-color="#aa004f"/><stop offset="0.100" stop-color="#c30039"/><stop offset="0.125" stop-color="#d60227"/><stop offset="0.150" stop-color="#e60418"/><stop offset="0.175" stop-color="#f60709"/><stop offset="0.200" stop-color="#ff1200"/><stop offset="0.225" stop-color="#ff2c00"/><stop offset="0.250" stop-color="#ff4500"/><stop offset="0.275" stop-color="#ff5f00"/><stop offset="0.300" stop-color="#ff7500"/><stop offset="0.325" stop-color="#ff8a00"/><stop offset="0.350" stop-color="#ffa000"/><stop offset="0.375" stop-color="#ffb100"/><stop offset="0.400" stop-color="#ffc100"/><stop offset="0.425" stop-color="#ffd100"/><stop offset="0.450" stop-color="#fedd00"/><stop offset="0.475" stop-color="#fce900"/><stop offset="0.500" stop-color="#fbf500"/><stop offset="0.525" stop-color="#dcf204"/><stop offset="0.550" stop-color="#aae40b"/><stop offset="0.575" stop-color="#78d713"/><stop offset="0.600" stop-color="#57cb17"/><stop offset="0.625" stop-color="#39c01b"/><stop offset="0.650" stop-color="#1cb41f"/><stop offset="0.675" stop-color="#10b631"/><stop offset="0.700" stop-color="#10c04d"/><stop offset="0.725" stop-color="#10ca68"/><stop offset="0.750" stop-color="#13d587"/><stop offset="0.775" stop-color="#16e1a6"/><stop offset="0.800" stop-color="#15ebc2"/><stop offset="0.825" stop-color="#0cf4db"/><stop offset="0.850" stop-color="#03fcf5"/><stop offset="0.875" stop-color="#04ddff"/><stop offset="0.900" stop-color="#0ba4ff"/><stop offset="0.925" stop-color="#136bff"/><stop offset="0.950" stop-color="#1349ff"/><stop offset="0.975" stop-color="#112dff"/><stop offset="1.000" stop-color="#1010ff"/></linearGradient><linearGradient id="cbC" x1="0" y1="0" x2="0" y2="1"><stop offset="0.000" stop-color="#1010ff"/><stop offset="0.025" stop-color="#112dff"/><stop offset="0.050" stop-color="#1349ff"/><stop offset="0.075" stop-color="#136bff"/><stop offset="0.100" stop-color="#0ba4ff"/><stop offset="0.125" stop-color="#04ddff"/><stop offset="0.150" stop-color="#03fcf5"/><stop offset="0.175" stop-color="#0cf4db"/><stop offset="0.200" stop-color="#15ebc2"/><stop offset="0.225" stop-color="#16e1a6"/><stop offset="0.250" stop-color="#13d587"/><stop offset="0.275" stop-color="#10ca68"/><stop offset="0.300" stop-color="#10c04d"/><stop offset="0.325" stop-color="#10b631"/><stop offset="0.350" stop-color="#1cb41f"/><stop offset="0.375" stop-color="#39c01b"/><stop offset="0.400" stop-color="#57cb17"/><stop offset="0.425" stop-color="#78d713"/><stop offset="0.450" stop-color="#aae40b"/><stop offset="0.475" stop-color="#dcf204"/><stop offset="0.500" stop-color="#fbf500"/><stop offset="0.525" stop-color="#fce900"/><stop offset="0.550" stop-color="#fedd00"/><stop offset="0.575" stop-color="#ffd100"/><stop offset="0.600" stop-color="#ffc100"/><stop offset="0.625" stop-color="#ffb100"/><stop offset="0.650" stop-color="#ffa000"/><stop offset="0.675" stop-color="#ff8a00"/><stop offset="0.700" stop-color="#ff7500"/><stop offset="0.725" stop-color="#ff5f00"/><stop offset="0.750" stop-color="#ff4500"/><stop offset="0.775" stop-color="#ff2c00"/><stop offset="0.800" stop-color="#ff1200"/><stop offset="0.825" stop-color="#f60709"/><stop offset="0.850" stop-color="#e60418"/><stop offset="0.875" stop-color="#d60227"/><stop offset="0.900" stop-color="#c30039"/><stop offset="0.925" stop-color="#aa004f"/><stop offset="0.950" stop-color="#920064"/><stop offset="0.975" stop-color="#79007a"/><stop offset="1.000" stop-color="#600090"/></linearGradient><linearGradient id="cbD" x1="0" y1="0" x2="0" y2="1"><stop offset="0.000" stop-color="#1010ff"/><stop offset="0.025" stop-color="#112dff"/><stop offset="0.050" stop-color="#1349ff"/><stop offset="0.075" stop-color="#136bff"/><stop offset="0.100" stop-color="#0ba4ff"/><stop offset="0.125" stop-color="#04ddff"/><stop offset="0.150" stop-color="#03fcf5"/><stop offset="0.175" stop-color="#0cf3db"/><stop offset="0.200" stop-color="#15ebc2"/><stop offset="0.225" stop-color="#16e1a6"/><stop offset="0.250" stop-color="#13d587"/><stop offset="0.275" stop-color="#10ca68"/><stop offset="0.300" stop-color="#10c04d"/><stop offset="0.325" stop-color="#10b631"/><stop offset="0.350" stop-color="#1cb51e"/><stop offset="0.375" stop-color="#39c01b"/><stop offset="0.400" stop-color="#57cb17"/><stop offset="0.425" stop-color="#78d713"/><stop offset="0.450" stop-color="#aae40b"/><stop offset="0.475" stop-color="#dcf204"/><stop offset="0.500" stop-color="#fbf500"/><stop offset="0.525" stop-color="#fce900"/><stop offset="0.550" stop-color="#fedd00"/><stop offset="0.575" stop-color="#ffd100"/><stop offset="0.600" stop-color="#ffc100"/><stop offset="0.625" stop-color="#ffb100"/><stop offset="0.650" stop-color="#ffa000"/><stop offset="0.675" stop-color="#ff8a00"/><stop offset="0.700" stop-color="#ff7500"/><stop offset="0.725" stop-color="#ff5f00"/><stop offset="0.750" stop-color="#ff4500"/><stop offset="0.775" stop-color="#ff2c00"/><stop offset="0.800" stop-color="#ff1200"/><stop offset="0.825" stop-color="#f60709"/><stop offset="0.850" stop-color="#e60418"/><stop offset="0.875" stop-color="#d60227"/><stop offset="0.900" stop-color="#c30039"/><stop offset="0.925" stop-color="#aa004f"/><stop offset="0.950" stop-color="#920064"/><stop offset="0.975" stop-color="#79007a"/><stop offset="1.000" stop-color="#600090"/></linearGradient><marker id="ast" markerUnits="userSpaceOnUse" markerWidth="14" markerHeight="14" refX="7" refY="7" orient="0" overflow="visible"><path d="M1.4,7H12.6M7,1.4V12.6M3,3L11,11M3,11L11,3" stroke="#0000ff" stroke-width="1.35" fill="none"/></marker></defs>
<rect width="1650" height="2362" fill="#fff"/>
<path d="M857.5,86.5 V522.8" stroke="#000" stroke-width="1.6"/>
<path d="M857.5,169.6 h-8" stroke="#000" stroke-width="1.6"/>
<path d="M857.5,252.7 h-8" stroke="#000" stroke-width="1.6"/>
<path d="M857.5,335.8 h-8" stroke="#000" stroke-width="1.6"/>
<path d="M857.5,418.9 h-8" stroke="#000" stroke-width="1.6"/>
<path d="M857.5,502.0 h-8" stroke="#000" stroke-width="1.6"/>
<rect x="43.5" y="86.50" width="815.0" height="11.30" fill="url(#gA0)"/>
<rect x="43.5" y="97.50" width="815.0" height="7.50" fill="url(#gA1)"/>
<rect x="43.5" y="104.70" width="815.0" height="8.50" fill="url(#gA2)"/>
<rect x="43.5" y="112.90" width="815.0" height="8.60" fill="url(#gA3)"/>
<rect x="43.5" y="121.20" width="815.0" height="9.90" fill="url(#gA4)"/>
<rect x="43.5" y="130.80" width="815.0" height="9.90" fill="url(#gA5)"/>
<rect x="43.5" y="140.40" width="815.0" height="8.50" fill="url(#gA6)"/>
<rect x="43.5" y="148.60" width="815.0" height="9.90" fill="url(#gA7)"/>
<rect x="43.5" y="158.20" width="815.0" height="12.60" fill="url(#gA8)"/>
<rect x="43.5" y="170.50" width="815.0" height="18.20" fill="url(#gA9)"/>
<rect x="43.5" y="188.40" width="815.0" height="20.90" fill="url(#gA10)"/>
<rect x="43.5" y="209.00" width="815.0" height="23.60" fill="url(#gA11)"/>
<rect x="43.5" y="232.30" width="815.0" height="28.30" fill="url(#gA12)"/>
<rect x="43.5" y="260.30" width="815.0" height="32.80" fill="url(#gA13)"/>
<rect x="43.5" y="292.80" width="815.0" height="40.00" fill="url(#gA14)"/>
<rect x="43.5" y="332.50" width="815.0" height="46.30" fill="url(#gA15)"/>
<rect x="43.5" y="378.50" width="815.0" height="54.20" fill="url(#gA16)"/>
<rect x="43.5" y="432.40" width="815.0" height="61.90" fill="url(#gA17)"/>
<path d="M43.5,524.8 L43.3,97.50 L49.8,97.50 L49.8,97.50 L62.3,97.50 L62.3,118.00 L72.7,118.00 L72.7,110.80 L82.0,110.80 L82.0,135.00 L87.1,135.00 L87.1,145.50 L105.5,145.50 L105.5,118.00 L108.0,118.00 L108.0,135.00 L118.5,135.00 L118.5,113.00 L126.7,113.00 L126.7,232.50 L132.3,232.50 L132.3,180.80 L137.5,180.80 L137.5,232.20 L143.1,232.20 L143.1,260.30 L151.3,260.30 L151.3,292.80 L156.9,292.80 L156.9,332.50 L162.2,332.50 L162.2,292.80 L167.0,292.80 L167.0,332.50 L177.1,332.50 L177.1,292.80 L180.9,292.80 L180.9,378.50 L213.4,378.50 L213.4,332.50 L230.6,332.50 L230.6,292.80 L238.5,292.80 L238.5,332.50 L315.0,332.50 L315.0,378.70 L461.4,378.70 L461.4,432.50 L614.5,432.50 L614.5,494.00 L700.0,494.00 L700.0,432.60 L789.0,432.60 L789.0,494.00 L792.8,494.00 L792.8,432.60 L797.9,432.60 L797.9,494.00 L853.2,494.00 L853.2,432.60 L857.5,432.60 L858.5,432.60 L858.5,524.8 Z" fill="#fff"/>
<rect x="653" y="486.88" width="82" height="34.9" fill="#fff"/>
<path d="M260.0,90.5 L275.7,97.0 L301.8,98.3 L345.0,99.2" fill="none" stroke="#fff" stroke-width="3" stroke-linejoin="round" stroke-linecap="round"/>
<path d="M386.0,101.5 L393.5,102.3 L427.5,104.9 L442.0,110.0 L461.0,121.0 L530.0,121.0 L584.6,123.6 L612.0,129.0 L653.0,134.9 L680.6,141.7 L686.0,142.0" fill="none" stroke="#fff" stroke-width="3" stroke-linejoin="round" stroke-linecap="round"/>
<path d="M702.0,141.0 L721.8,139.0 L749.2,138.3 L790.0,137.6 L857.6,137.6" fill="none" stroke="#fff" stroke-width="3" stroke-linejoin="round" stroke-linecap="round"/>
<text x="0" y="0" transform="translate(366.0,100.0) rotate(0) scale(1.08,1)" dy="8.5" text-anchor="middle" font-size="24.5" fill="#fff">5</text>
<text x="0" y="0" transform="translate(694.0,143.0) rotate(-60) scale(1.08,1)" dy="8.5" text-anchor="middle" font-size="24.5" fill="#fff">5</text>
<path d="M174.9,90.5 L190.0,92.0 L200.0,96.0 L214.0,100.0 L222.0,103.0" fill="none" stroke="#000" stroke-width="3" stroke-linejoin="round" stroke-linecap="round"/>
<path d="M195.0,103.0 L186.0,103.0 L180.0,108.0 L182.0,114.0 L190.0,113.0" fill="none" stroke="#000" stroke-width="3" stroke-linejoin="round" stroke-linecap="round"/>
<path d="M160.4,116.7 L147.4,132.4 L146.0,142.8 L150.0,148.0 L157.8,153.3 L184.0,161.2 L223.3,167.7 L249.5,171.6 L262.6,173.0 L288.8,169.0 L315.0,163.8 L354.2,166.4 L393.5,178.2 L400.0,180.0" fill="none" stroke="#000" stroke-width="3" stroke-linejoin="round" stroke-linecap="round"/>
<path d="M424.0,186.5 L432.8,187.4 L441.0,190.5 L461.0,193.9 L474.9,189.7 L516.0,181.5 L557.0,181.5 L584.6,178.8 L609.3,176.0 L653.0,181.5 L667.0,185.6 L680.6,198.0 L694.3,196.6 L716.3,189.7 L720.0,188.5" fill="none" stroke="#000" stroke-width="3" stroke-linejoin="round" stroke-linecap="round"/>
<path d="M746.0,184.0 L749.2,182.9 L776.7,174.7 L817.8,176.0 L857.6,176.0" fill="none" stroke="#000" stroke-width="3" stroke-linejoin="round" stroke-linecap="round"/>
<text x="0" y="0" transform="translate(168.0,110.0) rotate(60) scale(1.08,1)" dy="8.5" text-anchor="middle" font-size="24.5" fill="#000">10</text>
<text x="0" y="0" transform="translate(412.0,183.5) rotate(15) scale(1.08,1)" dy="8.5" text-anchor="middle" font-size="24.5" fill="#000">10</text>
<text x="0" y="0" transform="translate(733.0,187.0) rotate(-15) scale(1.08,1)" dy="8.5" text-anchor="middle" font-size="24.5" fill="#000">10</text>
<path d="M136.9,183.4 L144.7,192.6 L148.7,204.4 L157.8,203.0 L165.7,199.1 L197.0,200.4 L204.0,201.5" fill="none" stroke="#000" stroke-width="3" stroke-linejoin="round" stroke-linecap="round"/>
<path d="M232.0,206.5 L236.4,207.0 L254.7,209.6 L275.7,213.5 L301.8,207.0 L328.0,208.3 L354.2,211.0 L380.4,216.2 L406.6,222.7 L420.0,228.1 L461.0,236.4 L502.3,232.3 L532.0,230.5" fill="none" stroke="#000" stroke-width="3" stroke-linejoin="round" stroke-linecap="round"/>
<path d="M560.0,228.0 L571.0,225.4 L606.6,217.2 L639.5,228.1 L667.0,231.0 L680.6,237.7 L694.3,236.4 L721.8,222.7 L749.2,214.4 L790.4,209.0 L831.5,211.7 L857.6,210.3" fill="none" stroke="#000" stroke-width="3" stroke-linejoin="round" stroke-linecap="round"/>
<text x="0" y="0" transform="translate(218.0,203.5) rotate(8) scale(1.08,1)" dy="8.5" text-anchor="middle" font-size="24.5" fill="#000">15</text>
<text x="0" y="0" transform="translate(546.0,229.5) rotate(0) scale(1.08,1)" dy="8.5" text-anchor="middle" font-size="24.5" fill="#000">15</text>
<path d="M136.9,208.3 L147.4,221.4 L155.2,222.7 L160.4,229.3 L165.7,224.0 L184.0,222.7 L223.3,222.7 L249.5,226.6 L275.7,237.0 L301.8,237.0 L321.0,237.5" fill="none" stroke="#fff" stroke-width="3" stroke-linejoin="round" stroke-linecap="round"/>
<path d="M351.0,240.0 L367.3,242.3 L406.6,247.6 L420.0,252.8 L461.0,266.6 L502.3,269.3 L549.0,266.6 L571.0,261.0 L598.3,255.6 L639.5,261.0 L649.0,265.0" fill="none" stroke="#fff" stroke-width="3" stroke-linejoin="round" stroke-linecap="round"/>
<path d="M679.0,274.5 L694.3,276.2 L721.8,261.0 L749.2,250.0 L790.4,244.6 L831.5,251.5 L857.6,251.5" fill="none" stroke="#fff" stroke-width="3" stroke-linejoin="round" stroke-linecap="round"/>
<text x="0" y="0" transform="translate(336.0,238.5) rotate(0) scale(1.08,1)" dy="8.5" text-anchor="middle" font-size="24.5" fill="#fff">20</text>
<text x="0" y="0" transform="translate(664.0,270.5) rotate(20) scale(1.08,1)" dy="8.5" text-anchor="middle" font-size="24.5" fill="#fff">20</text>
<path d="M147.4,245.0 L152.6,242.3 L157.8,247.6 L165.7,245.0 L184.0,243.6 L223.3,245.0 L249.5,254.0 L275.7,263.3 L301.8,266.0 L328.0,267.2 L367.3,271.0 L373.0,275.0" fill="none" stroke="#fff" stroke-width="3" stroke-linejoin="round" stroke-linecap="round"/>
<path d="M398.0,289.5 L406.6,292.0 L420.0,296.7 L442.0,305.0 L461.0,313.2 L474.9,335.1 L488.6,343.4 L529.7,348.9 L570.9,350.2 L595.6,346.1 L612.0,365.3 L625.8,370.8 L646.0,379.0" fill="none" stroke="#fff" stroke-width="3" stroke-linejoin="round" stroke-linecap="round"/>
<path d="M671.0,391.0 L680.6,392.8 L699.8,398.2 L728.6,403.7" fill="none" stroke="#fff" stroke-width="3" stroke-linejoin="round" stroke-linecap="round"/>
<text x="0" y="0" transform="translate(385.6,283.0) rotate(35) scale(1.08,1)" dy="8.5" text-anchor="middle" font-size="24.5" fill="#fff">25</text>
<text x="0" y="0" transform="translate(658.7,386.5) rotate(30) scale(1.08,1)" dy="8.5" text-anchor="middle" font-size="24.5" fill="#fff">25</text>
<g stroke="#000" stroke-width="1.1"><circle cx="53.5" cy="89.5" r="5.3" fill="#c6ec07"/><circle cx="53.5" cy="99.5" r="5.3" fill="#c6ec07"/><circle cx="63" cy="89.5" r="5.3" fill="#c6ec07"/><circle cx="63" cy="99.5" r="5.3" fill="#c6ec07"/><circle cx="63" cy="104.0" r="5.3" fill="#c6ec07"/><circle cx="68" cy="89.5" r="5.3" fill="#c6ec07"/><circle cx="68" cy="99.5" r="5.3" fill="#c6ec07"/><circle cx="68" cy="108.0" r="5.3" fill="#c6ec07"/><circle cx="68" cy="129.5" r="5.3" fill="#6ed414"/><circle cx="68" cy="151.0" r="5.3" fill="#6ed414"/><circle cx="86.5" cy="89.5" r="5.3" fill="#c6ec07"/><circle cx="86.5" cy="99.5" r="5.3" fill="#c6ec07"/><circle cx="86.5" cy="108.0" r="5.3" fill="#c6ec07"/><circle cx="86.5" cy="129.5" r="5.3" fill="#6ed414"/><circle cx="86.5" cy="164.0" r="5.3" fill="#6ed414"/><circle cx="101" cy="89.5" r="5.3" fill="#c6ec07"/><circle cx="101" cy="99.5" r="5.3" fill="#c6ec07"/><circle cx="101" cy="108.0" r="5.3" fill="#c6ec07"/><circle cx="101" cy="129.5" r="5.3" fill="#6ed414"/><circle cx="101" cy="170.5" r="5.3" fill="#fbf500"/><circle cx="101" cy="176.0" r="5.3" fill="#fbf500"/><circle cx="109.4" cy="89.5" r="5.3" fill="#c6ec07"/><circle cx="109.4" cy="99.5" r="5.3" fill="#c6ec07"/><circle cx="109.4" cy="108.0" r="5.3" fill="#c6ec07"/><circle cx="109.4" cy="129.5" r="5.3" fill="#6ed414"/><circle cx="109.4" cy="151.4" r="5.3" fill="#6ed414"/><circle cx="118" cy="89.5" r="5.3" fill="#c6ec07"/><circle cx="118" cy="99.5" r="5.3" fill="#c6ec07"/><circle cx="118" cy="108.0" r="5.3" fill="#c6ec07"/><circle cx="118" cy="129.5" r="5.3" fill="#6ed414"/><circle cx="123.6" cy="89.5" r="5.3" fill="#c6ec07"/><circle cx="123.6" cy="99.5" r="5.3" fill="#c6ec07"/><circle cx="123.6" cy="108.0" r="5.3" fill="#c6ec07"/><circle cx="123.6" cy="129.5" r="5.3" fill="#6ed414"/><circle cx="123.6" cy="171.0" r="5.3" fill="#fbf500"/><circle cx="123.6" cy="187.4" r="5.3" fill="#fde200"/><circle cx="123.6" cy="196.5" r="5.3" fill="#fde200"/><circle cx="131.3" cy="89.5" r="5.3" fill="#c6ec07"/><circle cx="131.3" cy="99.5" r="5.3" fill="#c6ec07"/><circle cx="131.3" cy="108.0" r="5.3" fill="#c6ec07"/><circle cx="131.3" cy="129.5" r="5.3" fill="#6ed414"/><circle cx="131.3" cy="171.0" r="5.3" fill="#ffb500"/><circle cx="131.3" cy="296.0" r="5.3" fill="#b70043"/><circle cx="131.3" cy="335.3" r="5.3" fill="#b70043"/><circle cx="137.5" cy="89.5" r="5.3" fill="#c6ec07"/><circle cx="137.5" cy="99.5" r="5.3" fill="#c6ec07"/><circle cx="137.5" cy="108.0" r="5.3" fill="#c6ec07"/><circle cx="137.5" cy="129.5" r="5.3" fill="#6ed414"/><circle cx="137.5" cy="171.0" r="5.3" fill="#fbf500"/><circle cx="137.5" cy="254.5" r="5.3" fill="#e0031e"/><circle cx="137.5" cy="349.5" r="5.3" fill="#b70043"/><circle cx="161.8" cy="89.5" r="5.3" fill="#96df0e"/><circle cx="161.8" cy="99.5" r="5.3" fill="#96df0e"/><circle cx="161.8" cy="108.0" r="5.3" fill="#96df0e"/><circle cx="161.8" cy="129.5" r="5.3" fill="#07f8eb"/><circle cx="161.8" cy="168.0" r="5.3" fill="#fbf500"/><circle cx="161.8" cy="171.0" r="5.3" fill="#fbf500"/><circle cx="161.8" cy="254.5" r="5.3" fill="#e0031e"/><circle cx="161.8" cy="337.5" r="5.3" fill="#b70043"/><circle cx="161.8" cy="346.8" r="5.3" fill="#fbf500"/><circle cx="186" cy="89.5" r="5.3" fill="#96df0e"/><circle cx="186" cy="99.5" r="5.3" fill="#96df0e"/><circle cx="186" cy="108.0" r="5.3" fill="#96df0e"/><circle cx="186" cy="129.5" r="5.3" fill="#00ffff"/><circle cx="186" cy="171.0" r="5.3" fill="#ffb500"/><circle cx="186" cy="254.5" r="5.3" fill="#e0031e"/><circle cx="186" cy="337.5" r="5.3" fill="#b70043"/><circle cx="186" cy="360.4" r="5.3" fill="#b70043"/><circle cx="213" cy="89.5" r="5.3" fill="#1177ff"/><circle cx="213" cy="99.5" r="5.3" fill="#e6f503"/><circle cx="213" cy="108.0" r="5.3" fill="#e6f503"/><circle cx="213" cy="129.5" r="5.3" fill="#15ebc2"/><circle cx="213" cy="171.0" r="5.3" fill="#e6f503"/><circle cx="213" cy="254.5" r="5.3" fill="#c30039"/><circle cx="213" cy="338.6" r="5.3" fill="#b70043"/><circle cx="213" cy="354.9" r="5.3" fill="#b70043"/><circle cx="222.3" cy="89.5" r="5.3" fill="#3fc21a"/><circle cx="222.3" cy="99.5" r="5.3" fill="#3fc21a"/><circle cx="222.3" cy="108.0" r="5.3" fill="#3fc21a"/><circle cx="222.3" cy="129.5" r="5.3" fill="#10b020"/><circle cx="222.3" cy="171.0" r="5.3" fill="#ffb500"/><circle cx="222.3" cy="296.0" r="5.3" fill="#b70043"/><circle cx="222.3" cy="327.6" r="5.3" fill="#b70043"/><circle cx="235" cy="89.5" r="5.3" fill="#3fc21a"/><circle cx="235" cy="99.5" r="5.3" fill="#3fc21a"/><circle cx="235" cy="129.5" r="5.3" fill="#57cb17"/><circle cx="235" cy="171.0" r="5.3" fill="#fbf500"/><circle cx="235" cy="320.0" r="5.3" fill="#b70043"/><circle cx="262.7" cy="89.5" r="5.3" fill="#3fc21a"/><circle cx="262.7" cy="99.5" r="5.3" fill="#3fc21a"/><circle cx="262.7" cy="107.5" r="5.3" fill="#3fc21a"/><circle cx="262.7" cy="129.8" r="5.3" fill="#27b91d"/><circle cx="262.7" cy="171.6" r="5.3" fill="#e6f503"/><circle cx="262.7" cy="254.1" r="5.3" fill="#c30039"/><circle cx="262.7" cy="296.7" r="5.3" fill="#10b020"/><circle cx="262.7" cy="351.6" r="5.3" fill="#b70043"/><circle cx="315" cy="89.5" r="5.3" fill="#3fc21a"/><circle cx="315" cy="99.5" r="5.3" fill="#3fc21a"/><circle cx="315" cy="107.5" r="5.3" fill="#3fc21a"/><circle cx="315" cy="129.8" r="5.3" fill="#6ed414"/><circle cx="315" cy="171.6" r="5.3" fill="#ffb500"/><circle cx="315" cy="213.5" r="5.3" fill="#f90706"/><circle cx="315" cy="254.1" r="5.3" fill="#c30039"/><circle cx="315" cy="338.6" r="5.3" fill="#b70043"/><circle cx="315" cy="360.8" r="5.3" fill="#b70043"/><circle cx="349" cy="89.5" r="5.3" fill="#1355ff"/><circle cx="349" cy="99.5" r="5.3" fill="#1355ff"/><circle cx="349" cy="107.5" r="5.3" fill="#27b91d"/><circle cx="349" cy="129.8" r="5.3" fill="#fed900"/><circle cx="349" cy="171.6" r="5.3" fill="#ff6400"/><circle cx="349" cy="254.1" r="5.3" fill="#c30039"/><circle cx="349" cy="258.0" r="5.3" fill="#c30039"/><circle cx="349" cy="337.5" r="5.3" fill="#b70043"/><circle cx="349" cy="356.0" r="5.3" fill="#b70043"/><circle cx="389.5" cy="89.5" r="5.3" fill="#57cb17"/><circle cx="389.5" cy="99.5" r="5.3" fill="#57cb17"/><circle cx="389.5" cy="107.5" r="5.3" fill="#57cb17"/><circle cx="389.5" cy="129.8" r="5.3" fill="#07f8eb"/><circle cx="389.5" cy="171.0" r="5.3" fill="#fbf500"/><circle cx="389.5" cy="254.1" r="5.3" fill="#c30039"/><circle cx="389.5" cy="338.0" r="5.3" fill="#b70043"/><circle cx="389.5" cy="386.0" r="5.3" fill="#b70043"/><circle cx="434" cy="89.5" r="5.3" fill="#57cb17"/><circle cx="434" cy="99.5" r="5.3" fill="#57cb17"/><circle cx="434" cy="107.5" r="5.3" fill="#57cb17"/><circle cx="434" cy="129.8" r="5.3" fill="#27b91d"/><circle cx="434" cy="171.0" r="5.3" fill="#6ed414"/><circle cx="434" cy="218.5" r="5.3" fill="#fcec00"/><circle cx="434" cy="254.2" r="5.3" fill="#c30039"/><circle cx="434" cy="338.0" r="5.3" fill="#b70043"/><circle cx="434" cy="395.5" r="5.3" fill="#b70043"/><circle cx="434" cy="401.0" r="5.3" fill="#b70043"/><circle cx="474.9" cy="92.3" r="5.3" fill="#1355ff"/><circle cx="474.9" cy="99.2" r="5.3" fill="#1355ff"/><circle cx="474.9" cy="107.4" r="5.3" fill="#1355ff"/><circle cx="474.9" cy="129.4" r="5.3" fill="#06d2ff"/><circle cx="474.9" cy="171.5" r="5.3" fill="#fbf500"/><circle cx="474.9" cy="254.2" r="5.3" fill="#c30039"/><circle cx="474.9" cy="337.9" r="5.3" fill="#b70043"/><circle cx="474.9" cy="406.5" r="5.3" fill="#b70043"/><circle cx="474.9" cy="410.0" r="5.3" fill="#b70043"/><circle cx="514.6" cy="92.3" r="5.3" fill="#1355ff"/><circle cx="514.6" cy="99.2" r="5.3" fill="#1355ff"/><circle cx="514.6" cy="107.4" r="5.3" fill="#1355ff"/><circle cx="514.6" cy="129.4" r="5.3" fill="#00ffff"/><circle cx="514.6" cy="170.5" r="5.3" fill="#fbf500"/><circle cx="514.6" cy="254.2" r="5.3" fill="#c30039"/><circle cx="514.6" cy="337.9" r="5.3" fill="#b70043"/><circle cx="514.6" cy="401.0" r="5.3" fill="#b70043"/><circle cx="514.6" cy="408.0" r="5.3" fill="#b70043"/><circle cx="568.1" cy="92.3" r="5.3" fill="#1355ff"/><circle cx="568.1" cy="99.2" r="5.3" fill="#1355ff"/><circle cx="568.1" cy="107.4" r="5.3" fill="#1355ff"/><circle cx="568.1" cy="129.4" r="5.3" fill="#0ba4ff"/><circle cx="568.1" cy="170.5" r="5.3" fill="#15ebc2"/><circle cx="568.1" cy="254.2" r="5.3" fill="#c30039"/><circle cx="568.1" cy="337.9" r="5.3" fill="#b70043"/><circle cx="568.1" cy="417.5" r="5.3" fill="#b70043"/><circle cx="568.1" cy="421.6" r="5.3" fill="#b70043"/><circle cx="599.7" cy="92.3" r="5.3" fill="#1355ff"/><circle cx="599.7" cy="99.2" r="5.3" fill="#1355ff"/><circle cx="599.7" cy="107.4" r="5.3" fill="#1355ff"/><circle cx="599.7" cy="129.4" r="5.3" fill="#15ebc2"/><circle cx="599.7" cy="170.5" r="5.3" fill="#6ed414"/><circle cx="599.7" cy="337.9" r="5.3" fill="#b70043"/><circle cx="599.7" cy="421.6" r="5.3" fill="#b70043"/><circle cx="599.7" cy="451.7" r="5.3" fill="#b70043"/><circle cx="668.3" cy="92.3" r="5.3" fill="#1355ff"/><circle cx="668.3" cy="99.2" r="5.3" fill="#1355ff"/><circle cx="668.3" cy="107.4" r="5.3" fill="#1355ff"/><circle cx="668.3" cy="129.4" r="5.3" fill="#06d2ff"/><circle cx="668.3" cy="170.5" r="5.3" fill="#27b91d"/><circle cx="668.3" cy="254.2" r="5.3" fill="#c30039"/><circle cx="668.3" cy="337.9" r="5.3" fill="#b70043"/><circle cx="668.3" cy="421.6" r="5.3" fill="#b70043"/><circle cx="688.9" cy="92.3" r="5.3" fill="#1355ff"/><circle cx="688.9" cy="99.2" r="5.3" fill="#1355ff"/><circle cx="688.9" cy="107.4" r="5.3" fill="#1355ff"/><circle cx="688.9" cy="129.4" r="5.3" fill="#06d2ff"/><circle cx="688.9" cy="170.5" r="5.3" fill="#27b91d"/><circle cx="688.9" cy="254.2" r="5.3" fill="#c30039"/><circle cx="688.9" cy="337.9" r="5.3" fill="#b70043"/><circle cx="688.9" cy="421.6" r="5.3" fill="#b70043"/><circle cx="688.9" cy="472.3" r="5.3" fill="#b70043"/><circle cx="688.9" cy="475.0" r="5.3" fill="#b70043"/></g>
<g stroke="#000" stroke-width="1.6" fill="none">
<path d="M43.5,86.5 V522.8 H857.5"/>
<path d="M43.5,522.8 v-8"/>
<path d="M168.7,522.8 v-8"/>
<path d="M293.9,522.8 v-8"/>
<path d="M419.1,522.8 v-8"/>
<path d="M544.3,522.8 v-8"/>
<path d="M669.5,522.8 v-8"/>
<path d="M794.7,522.8 v-8"/>
</g>
<rect x="222" y="486.9" width="60" height="34.9" fill="#fff"/>
<rect x="362" y="486.9" width="126" height="34.9" fill="#fff"/>
<rect x="653" y="486.9" width="82" height="34.9" fill="#fff"/>
<path d="M43.5,522.8 H857.5 V432.5" stroke="#000" stroke-width="1.6" fill="none"/>
<path d="M857.5,502.0 h-8" stroke="#000" stroke-width="1.6"/>
<g font-family="'Liberation Sans', Arial, Helvetica, sans-serif" font-size="28.5" fill="#000">
<text transform="translate(43.5,556.6) scale(0.91,1)" font-size="32.5" text-anchor="middle">0</text>
<text transform="translate(168.7,556.6) scale(0.91,1)" font-size="32.5" text-anchor="middle">200</text>
<text transform="translate(293.9,556.6) scale(0.91,1)" font-size="32.5" text-anchor="middle">400</text>
<text transform="translate(419.1,556.6) scale(0.91,1)" font-size="32.5" text-anchor="middle">600</text>
<text transform="translate(544.3,556.6) scale(0.91,1)" font-size="32.5" text-anchor="middle">800</text>
<text transform="translate(669.5,556.6) scale(0.91,1)" font-size="32.5" text-anchor="middle">1000</text>
<text transform="translate(794.7,556.6) scale(0.91,1)" font-size="32.5" text-anchor="middle">1200</text>
<path d="M43.5,169.6 h7.5" stroke="#000" stroke-width="1.4"/>
<text transform="translate(51.8,180.6) scale(0.91,1)" font-size="32.5">100</text>
<path d="M43.5,252.7 h7.5" stroke="#000" stroke-width="1.4"/>
<text transform="translate(51.8,263.7) scale(0.91,1)" font-size="32.5">200</text>
<path d="M43.5,335.8 h7.5" stroke="#000" stroke-width="1.4"/>
<text transform="translate(51.8,346.8) scale(0.91,1)" font-size="32.5">300</text>
<path d="M43.5,418.9 h7.5" stroke="#000" stroke-width="1.4"/>
<text transform="translate(51.8,429.9) scale(0.91,1)" font-size="32.5">400</text>
<path d="M43.5,502.0 h7.5" stroke="#000" stroke-width="1.4"/>
<text transform="translate(51.8,513.0) scale(0.91,1)" font-size="32.5">500</text>
</g>
<path d="M255.3,86.5 V486.2" stroke="#000" stroke-width="3"/>
<path d="M428.5,86.5 V486.2" stroke="#000" stroke-width="3"/>
<path d="M694.3,86.5 V486.2" stroke="#000" stroke-width="3"/>
<g font-family="'Liberation Sans', Arial, Helvetica, sans-serif" font-size="25" fill="#000" text-anchor="middle">
<text transform="translate(252.1,513.6) scale(0.92,1)" font-size="27.3" text-anchor="middle">PdM</text>
<text transform="translate(425.3,513.6) scale(0.92,1)" font-size="27.3" text-anchor="middle">Honguedo</text>
<text transform="translate(691.1,513.6) scale(0.92,1)" font-size="27.3" text-anchor="middle">Cabot</text>
</g>
<text transform="translate(22.0,304.6) rotate(-90)" font-size="29" text-anchor="middle">Deptht (m)</text>
<text transform="translate(452.0,44.8) scale(0.955,1)" font-size="41.5" text-anchor="middle">2016 mean NO<tspan baseline-shift="-19" font-size="27">3</tspan> (mmol N m<tspan baseline-shift="17" font-size="27">−3</tspan>)</text>
<text transform="translate(6.0,28.2) scale(1.1,1)" font-size="33.5" font-weight="bold">A</text>
<rect x="886.4" y="86.5" width="38.3" height="436.3" fill="url(#cbA)"/>
<path d="M886.4,435.5 H924.7" stroke="#fff" stroke-width="3"/>
<path d="M886.4,173.8 H924.7" stroke="#fff" stroke-width="3"/>
<path d="M886.4,348.3 H924.7" stroke="#000" stroke-width="3"/>
<path d="M886.4,261.0 H924.7" stroke="#000" stroke-width="3"/>
<rect x="886.4" y="86.5" width="38.3" height="436.3" fill="none" stroke="#000" stroke-width="1.3"/>
<g font-family="'Liberation Sans', Arial, Helvetica, sans-serif" font-size="28.5" fill="#000">
<path d="M886.4,522.8 h4 M924.7,522.8 h-4" stroke="#000" stroke-width="1.2"/>
<text transform="translate(931.0,535.1) scale(0.91,1)" font-size="32.5">0</text>
<path d="M886.4,435.5 h4 M924.7,435.5 h-4" stroke="#000" stroke-width="1.2"/>
<text transform="translate(931.0,447.8) scale(0.91,1)" font-size="32.5">5</text>
<path d="M886.4,348.3 h4 M924.7,348.3 h-4" stroke="#000" stroke-width="1.2"/>
<text transform="translate(931.0,360.6) scale(0.91,1)" font-size="32.5">10</text>
<path d="M886.4,261.0 h4 M924.7,261.0 h-4" stroke="#000" stroke-width="1.2"/>
<text transform="translate(931.0,273.3) scale(0.91,1)" font-size="32.5">15</text>
<path d="M886.4,173.8 h4 M924.7,173.8 h-4" stroke="#000" stroke-width="1.2"/>
<text transform="translate(931.0,186.1) scale(0.91,1)" font-size="32.5">20</text>
<path d="M886.4,86.5 h4 M924.7,86.5 h-4" stroke="#000" stroke-width="1.2"/>
<text transform="translate(931.0,98.8) scale(0.91,1)" font-size="32.5">25</text>
</g>
<path d="M857.5,678.6 V1114.9" stroke="#000" stroke-width="1.6"/>
<path d="M857.5,761.7 h-8" stroke="#000" stroke-width="1.6"/>
<path d="M857.5,844.8 h-8" stroke="#000" stroke-width="1.6"/>
<path d="M857.5,927.9 h-8" stroke="#000" stroke-width="1.6"/>
<path d="M857.5,1011.0 h-8" stroke="#000" stroke-width="1.6"/>
<path d="M857.5,1094.1 h-8" stroke="#000" stroke-width="1.6"/>
<rect x="43.5" y="678.60" width="815.0" height="11.30" fill="url(#gB0)"/>
<rect x="43.5" y="689.60" width="815.0" height="7.50" fill="url(#gB1)"/>
<rect x="43.5" y="696.80" width="815.0" height="8.50" fill="url(#gB2)"/>
<rect x="43.5" y="705.00" width="815.0" height="8.60" fill="url(#gB3)"/>
<rect x="43.5" y="713.30" width="815.0" height="9.90" fill="url(#gB4)"/>
<rect x="43.5" y="722.90" width="815.0" height="9.90" fill="url(#gB5)"/>
<rect x="43.5" y="732.50" width="815.0" height="8.50" fill="url(#gB6)"/>
<rect x="43.5" y="740.70" width="815.0" height="9.90" fill="url(#gB7)"/>
<rect x="43.5" y="750.30" width="815.0" height="12.60" fill="url(#gB8)"/>
<rect x="43.5" y="762.60" width="815.0" height="18.20" fill="url(#gB9)"/>
<rect x="43.5" y="780.50" width="815.0" height="20.90" fill="url(#gB10)"/>
<rect x="43.5" y="801.10" width="815.0" height="23.60" fill="url(#gB11)"/>
<rect x="43.5" y="824.40" width="815.0" height="28.30" fill="url(#gB12)"/>
<rect x="43.5" y="852.40" width="815.0" height="32.80" fill="url(#gB13)"/>
<rect x="43.5" y="884.90" width="815.0" height="40.00" fill="url(#gB14)"/>
<rect x="43.5" y="924.60" width="815.0" height="46.30" fill="url(#gB15)"/>
<rect x="43.5" y="970.60" width="815.0" height="54.20" fill="url(#gB16)"/>
<rect x="43.5" y="1024.50" width="815.0" height="61.90" fill="url(#gB17)"/>
<path d="M43.5,1116.9 L43.3,689.60 L49.8,689.60 L49.8,689.60 L62.3,689.60 L62.3,710.10 L72.7,710.10 L72.7,702.90 L82.0,702.90 L82.0,727.10 L87.1,727.10 L87.1,737.60 L105.5,737.60 L105.5,710.10 L108.0,710.10 L108.0,727.10 L118.5,727.10 L118.5,705.10 L126.7,705.10 L126.7,824.60 L132.3,824.60 L132.3,772.90 L137.5,772.90 L137.5,824.30 L143.1,824.30 L143.1,852.40 L151.3,852.40 L151.3,884.90 L156.9,884.90 L156.9,924.60 L162.2,924.60 L162.2,884.90 L167.0,884.90 L167.0,924.60 L177.1,924.60 L177.1,884.90 L180.9,884.90 L180.9,970.60 L213.4,970.60 L213.4,924.60 L230.6,924.60 L230.6,884.90 L238.5,884.90 L238.5,924.60 L315.0,924.60 L315.0,970.80 L461.4,970.80 L461.4,1024.60 L614.5,1024.60 L614.5,1086.10 L700.0,1086.10 L700.0,1024.70 L789.0,1024.70 L789.0,1086.10 L792.8,1086.10 L792.8,1024.70 L797.9,1024.70 L797.9,1086.10 L853.2,1086.10 L853.2,1024.70 L857.5,1024.70 L858.5,1024.70 L858.5,1116.9 Z" fill="#fff"/>
<rect x="653" y="1078.98" width="82" height="34.9" fill="#fff"/>
<path d="M417.0,780.0 L390.9,780.0 L354.2,764.3 L315.0,761.6 L291.4,774.7 L275.7,795.7 L267.8,806.2 L266.5,816.6 L275.7,829.7 L288.8,842.8 L301.8,858.5 L315.0,874.2 L325.0,876.1" fill="none" stroke="#fff" stroke-width="3" stroke-linejoin="round" stroke-linecap="round"/>
<path d="M349.0,874.1 L362.1,871.6 L388.3,869.0 L401.4,900.4 L419.7,913.5 L433.7,919.7 L447.4,925.1 L461.2,944.3" fill="none" stroke="#fff" stroke-width="3" stroke-linejoin="round" stroke-linecap="round"/>
<path d="M447.0,787.6 L455.7,793.5 L469.4,801.7 L483.1,788.0 L516.0,779.7 L557.2,788.0 L584.6,779.7 L609.3,774.3 L639.5,785.2 L658.7,793.5 L672.4,818.1 L680.6,834.6 L692.0,838.1" fill="none" stroke="#fff" stroke-width="3" stroke-linejoin="round" stroke-linecap="round"/>
<path d="M718.0,839.1 L724.5,837.4 L749.2,823.6 L771.2,809.9 L793.1,803.1 L812.3,812.7 L831.5,834.6 L845.2,856.6 L853.5,889.5 L857.6,892.2" fill="none" stroke="#fff" stroke-width="3" stroke-linejoin="round" stroke-linecap="round"/>
<text x="0" y="0" transform="translate(336.0,877.1) rotate(0) scale(1.08,1)" dy="8.5" text-anchor="middle" font-size="24.5" fill="#fff">0.2</text>
<text x="0" y="0" transform="translate(432.0,784.1) rotate(20) scale(1.08,1)" dy="8.5" text-anchor="middle" font-size="24.5" fill="#fff">0.2</text>
<text x="0" y="0" transform="translate(705.0,840.1) rotate(0) scale(1.08,1)" dy="8.5" text-anchor="middle" font-size="24.5" fill="#fff">0.2</text>
<path d="M458.4,681.0 L474.9,686.5 L502.3,686.5 L529.7,685.1 L570.9,687.8 L640.0,688.1" fill="none" stroke="#000" stroke-width="3" stroke-linejoin="round" stroke-linecap="round"/>
<path d="M668.0,689.2 L694.3,689.2 L721.8,691.9 L776.7,693.3 L857.6,691.9" fill="none" stroke="#000" stroke-width="3" stroke-linejoin="round" stroke-linecap="round"/>
<text x="0" y="0" transform="translate(653.0,689.1) rotate(0) scale(1.08,1)" dy="8.5" text-anchor="middle" font-size="24.5" fill="#000">0.4</text>
<path d="M167.6,697.4 L185.0,692.1 L205.0,689.1 L230.0,688.1 L260.0,689.1" fill="none" stroke="#000" stroke-width="3" stroke-linejoin="round" stroke-linecap="round"/>
<path d="M420.0,691.9 L447.4,693.1 L474.9,693.3 L502.3,694.6 L540.0,696.1" fill="none" stroke="#000" stroke-width="3" stroke-linejoin="round" stroke-linecap="round"/>
<path d="M570.0,697.1 L581.9,696.1 L612.0,696.1 L666.9,697.4 L694.3,701.6 L749.2,704.3 L857.6,704.3" fill="none" stroke="#000" stroke-width="3" stroke-linejoin="round" stroke-linecap="round"/>
<text x="0" y="0" transform="translate(554.0,697.4) rotate(0) scale(1.08,1)" dy="8.5" text-anchor="middle" font-size="24.5" fill="#000">0.6</text>
<path d="M167.6,697.4 L175.0,702.1 L200.0,705.1 L230.0,707.6 L259.5,709.8 L290.0,711.1 L305.0,711.6" fill="none" stroke="#000" stroke-width="3" stroke-linejoin="round" stroke-linecap="round"/>
<path d="M330.0,713.1 L360.0,714.1 L420.0,718.0 L447.4,722.1 L474.9,719.4 L529.7,716.6 L584.6,718.0 L640.0,721.1" fill="none" stroke="#000" stroke-width="3" stroke-linejoin="round" stroke-linecap="round"/>
<path d="M668.0,732.1 L680.6,735.8 L694.3,735.8 L721.8,729.0 L776.7,720.8 L831.5,720.8 L857.6,724.9" fill="none" stroke="#000" stroke-width="3" stroke-linejoin="round" stroke-linecap="round"/>
<text x="0" y="0" transform="translate(318.0,712.1) rotate(15) scale(1.08,1)" dy="8.5" text-anchor="middle" font-size="24.5" fill="#000">0.6</text>
<text x="0" y="0" transform="translate(653.0,728.6) rotate(25) scale(1.08,1)" dy="8.5" text-anchor="middle" font-size="24.5" fill="#000">0.6</text>
<path d="M200.0,685.8 L170.0,686.3 L150.0,689.1 L144.3,693.3 L142.9,711.1 L149.7,727.6 L163.5,730.4 L190.0,729.6 L230.0,728.6 L259.5,729.0 L290.0,730.1 L320.0,730.6 L340.0,730.6" fill="none" stroke="#000" stroke-width="3" stroke-linejoin="round" stroke-linecap="round"/>
<path d="M368.0,732.1 L406.6,736.1 L420.0,733.1 L461.2,742.7 L516.0,738.6 L570.9,740.0 L612.0,741.3 L653.2,746.8 L666.9,753.7 L672.0,757.1" fill="none" stroke="#000" stroke-width="3" stroke-linejoin="round" stroke-linecap="round"/>
<path d="M697.0,760.1 L708.1,759.2 L749.2,752.3 L790.4,748.2 L831.5,752.3 L857.6,757.8" fill="none" stroke="#000" stroke-width="3" stroke-linejoin="round" stroke-linecap="round"/>
<text x="0" y="0" transform="translate(354.0,730.6) rotate(0) scale(1.08,1)" dy="8.5" text-anchor="middle" font-size="24.5" fill="#000">0.4</text>
<text x="0" y="0" transform="translate(684.0,761.6) rotate(0) scale(1.08,1)" dy="8.5" text-anchor="middle" font-size="24.5" fill="#000">0.4</text>
<path d="M186.0,908.1 L190.0,897.1" fill="none" stroke="#000" stroke-width="3" stroke-linejoin="round" stroke-linecap="round"/>
<path d="M195.0,889.1 L200.0,882.1" fill="none" stroke="#000" stroke-width="3" stroke-linejoin="round" stroke-linecap="round"/>
<path d="M205.0,875.1 L210.0,868.1" fill="none" stroke="#000" stroke-width="3" stroke-linejoin="round" stroke-linecap="round"/>
<path d="M223.0,860.1 L228.0,856.1 L232.0,862.1" fill="none" stroke="#000" stroke-width="3" stroke-linejoin="round" stroke-linecap="round"/>
<path d="M239.0,868.1 L250.0,875.1 L262.0,879.1 L270.0,884.1 L286.0,891.1" fill="none" stroke="#000" stroke-width="3" stroke-linejoin="round" stroke-linecap="round"/>
<text x="0" y="0" transform="translate(202.0,896.1) rotate(-60) scale(1.08,1)" dy="8.5" text-anchor="middle" font-size="24.5" fill="#000">0.4</text>
<g stroke="#000" stroke-width="1.1"><circle cx="53.5" cy="681.6" r="5.3" fill="#03fcf5"/><circle cx="53.5" cy="691.6" r="5.3" fill="#03fcf5"/><circle cx="63" cy="681.6" r="5.3" fill="#ff8a00"/><circle cx="63" cy="691.6" r="5.3" fill="#ff8a00"/><circle cx="63" cy="696.1" r="5.3" fill="#ff8a00"/><circle cx="68" cy="681.6" r="5.3" fill="#ff8a00"/><circle cx="68" cy="691.6" r="5.3" fill="#ff8a00"/><circle cx="68" cy="700.1" r="5.3" fill="#ff8a00"/><circle cx="68" cy="721.6" r="5.3" fill="#ff8a00"/><circle cx="68" cy="743.1" r="5.3" fill="#ff7500"/><circle cx="86.5" cy="681.6" r="5.3" fill="#ff8a00"/><circle cx="86.5" cy="691.6" r="5.3" fill="#ff8a00"/><circle cx="86.5" cy="700.1" r="5.3" fill="#ff8a00"/><circle cx="86.5" cy="721.6" r="5.3" fill="#ffa000"/><circle cx="86.5" cy="756.1" r="5.3" fill="#ff7500"/><circle cx="101" cy="681.6" r="5.3" fill="#e60418"/><circle cx="101" cy="691.6" r="5.3" fill="#e60418"/><circle cx="101" cy="700.1" r="5.3" fill="#ff8a00"/><circle cx="101" cy="721.6" r="5.3" fill="#ffa000"/><circle cx="101" cy="762.6" r="5.3" fill="#ffa000"/><circle cx="101" cy="768.1" r="5.3" fill="#ffa000"/><circle cx="109.4" cy="681.6" r="5.3" fill="#e60418"/><circle cx="109.4" cy="691.6" r="5.3" fill="#e60418"/><circle cx="109.4" cy="700.1" r="5.3" fill="#ff8a00"/><circle cx="109.4" cy="721.6" r="5.3" fill="#ff5f00"/><circle cx="109.4" cy="743.5" r="5.3" fill="#ff7500"/><circle cx="118" cy="681.6" r="5.3" fill="#1349ff"/><circle cx="118" cy="691.6" r="5.3" fill="#1349ff"/><circle cx="118" cy="700.1" r="5.3" fill="#1349ff"/><circle cx="118" cy="721.6" r="5.3" fill="#ffa000"/><circle cx="123.6" cy="681.6" r="5.3" fill="#1349ff"/><circle cx="123.6" cy="691.6" r="5.3" fill="#1349ff"/><circle cx="123.6" cy="700.1" r="5.3" fill="#1349ff"/><circle cx="123.6" cy="721.6" r="5.3" fill="#ffa000"/><circle cx="123.6" cy="763.1" r="5.3" fill="#fce900"/><circle cx="123.6" cy="779.5" r="5.3" fill="#aae40b"/><circle cx="123.6" cy="788.6" r="5.3" fill="#aae40b"/><circle cx="131.3" cy="681.6" r="5.3" fill="#39c01b"/><circle cx="131.3" cy="691.6" r="5.3" fill="#39c01b"/><circle cx="131.3" cy="700.1" r="5.3" fill="#39c01b"/><circle cx="131.3" cy="721.6" r="5.3" fill="#1349ff"/><circle cx="131.3" cy="763.1" r="5.3" fill="#1349ff"/><circle cx="131.3" cy="888.1" r="5.3" fill="#1121ff"/><circle cx="131.3" cy="927.4" r="5.3" fill="#1121ff"/><circle cx="137.5" cy="681.6" r="5.3" fill="#39c01b"/><circle cx="137.5" cy="691.6" r="5.3" fill="#39c01b"/><circle cx="137.5" cy="700.1" r="5.3" fill="#39c01b"/><circle cx="137.5" cy="721.6" r="5.3" fill="#aae40b"/><circle cx="137.5" cy="763.1" r="5.3" fill="#aae40b"/><circle cx="137.5" cy="846.6" r="5.3" fill="#1121ff"/><circle cx="137.5" cy="941.6" r="5.3" fill="#1121ff"/><circle cx="161.8" cy="681.6" r="5.3" fill="#1349ff"/><circle cx="161.8" cy="691.6" r="5.3" fill="#1349ff"/><circle cx="161.8" cy="700.1" r="5.3" fill="#1349ff"/><circle cx="161.8" cy="721.6" r="5.3" fill="#1cb41f"/><circle cx="161.8" cy="760.1" r="5.3" fill="#1cb41f"/><circle cx="161.8" cy="763.1" r="5.3" fill="#1cb41f"/><circle cx="161.8" cy="846.6" r="5.3" fill="#1121ff"/><circle cx="161.8" cy="929.6" r="5.3" fill="#1121ff"/><circle cx="161.8" cy="938.9" r="5.3" fill="#1121ff"/><circle cx="186" cy="681.6" r="5.3" fill="#aae40b"/><circle cx="186" cy="691.6" r="5.3" fill="#aae40b"/><circle cx="186" cy="700.1" r="5.3" fill="#aae40b"/><circle cx="186" cy="721.6" r="5.3" fill="#ffc100"/><circle cx="186" cy="763.1" r="5.3" fill="#112dff"/><circle cx="186" cy="846.6" r="5.3" fill="#1121ff"/><circle cx="186" cy="929.6" r="5.3" fill="#1121ff"/><circle cx="186" cy="952.5" r="5.3" fill="#1121ff"/><circle cx="213" cy="681.6" r="5.3" fill="#1cb41f"/><circle cx="213" cy="691.6" r="5.3" fill="#1cb41f"/><circle cx="213" cy="700.1" r="5.3" fill="#fedd00"/><circle cx="213" cy="721.6" r="5.3" fill="#ffa000"/><circle cx="213" cy="763.1" r="5.3" fill="#fce900"/><circle cx="213" cy="846.6" r="5.3" fill="#1121ff"/><circle cx="213" cy="930.7" r="5.3" fill="#1121ff"/><circle cx="213" cy="947.0" r="5.3" fill="#1121ff"/><circle cx="222.3" cy="681.6" r="5.3" fill="#1349ff"/><circle cx="222.3" cy="691.6" r="5.3" fill="#1349ff"/><circle cx="222.3" cy="700.1" r="5.3" fill="#1349ff"/><circle cx="222.3" cy="721.6" r="5.3" fill="#600090"/><circle cx="222.3" cy="763.1" r="5.3" fill="#112dff"/><circle cx="222.3" cy="888.1" r="5.3" fill="#1121ff"/><circle cx="222.3" cy="919.7" r="5.3" fill="#1121ff"/><circle cx="235" cy="681.6" r="5.3" fill="#03fcf5"/><circle cx="235" cy="691.6" r="5.3" fill="#03fcf5"/><circle cx="235" cy="721.6" r="5.3" fill="#ffa000"/><circle cx="235" cy="763.1" r="5.3" fill="#112dff"/><circle cx="235" cy="912.1" r="5.3" fill="#1121ff"/><circle cx="262.7" cy="681.6" r="5.3" fill="#1349ff"/><circle cx="262.7" cy="691.6" r="5.3" fill="#1349ff"/><circle cx="262.7" cy="699.6" r="5.3" fill="#1349ff"/><circle cx="262.7" cy="721.9" r="5.3" fill="#1349ff"/><circle cx="262.7" cy="763.7" r="5.3" fill="#136bff"/><circle cx="262.7" cy="846.2" r="5.3" fill="#1121ff"/><circle cx="262.7" cy="888.8" r="5.3" fill="#1121ff"/><circle cx="262.7" cy="943.7" r="5.3" fill="#1121ff"/><circle cx="315" cy="681.6" r="5.3" fill="#1355ff"/><circle cx="315" cy="691.6" r="5.3" fill="#1355ff"/><circle cx="315" cy="699.6" r="5.3" fill="#1355ff"/><circle cx="315" cy="721.9" r="5.3" fill="#0ba4ff"/><circle cx="315" cy="763.7" r="5.3" fill="#112dff"/><circle cx="315" cy="805.6" r="5.3" fill="#1121ff"/><circle cx="315" cy="846.2" r="5.3" fill="#1121ff"/><circle cx="315" cy="930.7" r="5.3" fill="#1121ff"/><circle cx="315" cy="952.9" r="5.3" fill="#1121ff"/><circle cx="349" cy="681.6" r="5.3" fill="#1349ff"/><circle cx="349" cy="691.6" r="5.3" fill="#1349ff"/><circle cx="349" cy="699.6" r="5.3" fill="#1349ff"/><circle cx="349" cy="721.9" r="5.3" fill="#aa004f"/><circle cx="349" cy="763.7" r="5.3" fill="#112dff"/><circle cx="349" cy="846.2" r="5.3" fill="#1121ff"/><circle cx="349" cy="850.1" r="5.3" fill="#1121ff"/><circle cx="349" cy="929.6" r="5.3" fill="#1121ff"/><circle cx="349" cy="948.1" r="5.3" fill="#1121ff"/><circle cx="389.5" cy="681.6" r="5.3" fill="#03fcf5"/><circle cx="389.5" cy="691.6" r="5.3" fill="#03fcf5"/><circle cx="389.5" cy="699.6" r="5.3" fill="#03fcf5"/><circle cx="389.5" cy="721.9" r="5.3" fill="#1355ff"/><circle cx="389.5" cy="763.1" r="5.3" fill="#1cb41f"/><circle cx="389.5" cy="846.2" r="5.3" fill="#1121ff"/><circle cx="389.5" cy="930.1" r="5.3" fill="#1121ff"/><circle cx="389.5" cy="978.1" r="5.3" fill="#1121ff"/><circle cx="434" cy="681.6" r="5.3" fill="#136bff"/><circle cx="434" cy="691.6" r="5.3" fill="#136bff"/><circle cx="434" cy="699.6" r="5.3" fill="#136bff"/><circle cx="434" cy="721.9" r="5.3" fill="#1349ff"/><circle cx="434" cy="763.1" r="5.3" fill="#1127ff"/><circle cx="434" cy="810.6" r="5.3" fill="#1121ff"/><circle cx="434" cy="846.3" r="5.3" fill="#1121ff"/><circle cx="434" cy="930.1" r="5.3" fill="#1121ff"/><circle cx="434" cy="987.6" r="5.3" fill="#1121ff"/><circle cx="434" cy="993.1" r="5.3" fill="#1121ff"/><circle cx="474.9" cy="684.4" r="5.3" fill="#1355ff"/><circle cx="474.9" cy="691.3" r="5.3" fill="#1355ff"/><circle cx="474.9" cy="699.5" r="5.3" fill="#1355ff"/><circle cx="474.9" cy="721.5" r="5.3" fill="#aa004f"/><circle cx="474.9" cy="763.6" r="5.3" fill="#1127ff"/><circle cx="474.9" cy="846.3" r="5.3" fill="#1121ff"/><circle cx="474.9" cy="930.0" r="5.3" fill="#1121ff"/><circle cx="474.9" cy="998.6" r="5.3" fill="#1121ff"/><circle cx="474.9" cy="1002.1" r="5.3" fill="#1121ff"/><circle cx="514.6" cy="684.4" r="5.3" fill="#1355ff"/><circle cx="514.6" cy="691.3" r="5.3" fill="#1355ff"/><circle cx="514.6" cy="699.5" r="5.3" fill="#1355ff"/><circle cx="514.6" cy="721.5" r="5.3" fill="#600090"/><circle cx="514.6" cy="762.6" r="5.3" fill="#1127ff"/><circle cx="514.6" cy="846.3" r="5.3" fill="#1121ff"/><circle cx="514.6" cy="930.0" r="5.3" fill="#1121ff"/><circle cx="514.6" cy="993.1" r="5.3" fill="#1121ff"/><circle cx="514.6" cy="1000.1" r="5.3" fill="#1121ff"/><circle cx="568.1" cy="684.4" r="5.3" fill="#1355ff"/><circle cx="568.1" cy="691.3" r="5.3" fill="#1355ff"/><circle cx="568.1" cy="699.5" r="5.3" fill="#1355ff"/><circle cx="568.1" cy="721.5" r="5.3" fill="#ff2c00"/><circle cx="568.1" cy="762.6" r="5.3" fill="#ff7500"/><circle cx="568.1" cy="846.3" r="5.3" fill="#1121ff"/><circle cx="568.1" cy="930.0" r="5.3" fill="#1121ff"/><circle cx="568.1" cy="1009.6" r="5.3" fill="#1121ff"/><circle cx="568.1" cy="1013.7" r="5.3" fill="#1121ff"/><circle cx="599.7" cy="684.4" r="5.3" fill="#1355ff"/><circle cx="599.7" cy="691.3" r="5.3" fill="#1355ff"/><circle cx="599.7" cy="699.5" r="5.3" fill="#1355ff"/><circle cx="599.7" cy="721.5" r="5.3" fill="#1349ff"/><circle cx="599.7" cy="762.6" r="5.3" fill="#1127ff"/><circle cx="599.7" cy="930.0" r="5.3" fill="#1121ff"/><circle cx="599.7" cy="1013.7" r="5.3" fill="#1121ff"/><circle cx="599.7" cy="1043.8" r="5.3" fill="#1121ff"/><circle cx="668.3" cy="684.4" r="5.3" fill="#1355ff"/><circle cx="668.3" cy="691.3" r="5.3" fill="#1355ff"/><circle cx="668.3" cy="699.5" r="5.3" fill="#1355ff"/><circle cx="668.3" cy="721.5" r="5.3" fill="#ffa000"/><circle cx="668.3" cy="762.6" r="5.3" fill="#1127ff"/><circle cx="668.3" cy="846.3" r="5.3" fill="#1121ff"/><circle cx="668.3" cy="930.0" r="5.3" fill="#1121ff"/><circle cx="668.3" cy="1013.7" r="5.3" fill="#1121ff"/><circle cx="688.9" cy="684.4" r="5.3" fill="#ffa000"/><circle cx="688.9" cy="691.3" r="5.3" fill="#ffa000"/><circle cx="688.9" cy="699.5" r="5.3" fill="#ffa000"/><circle cx="688.9" cy="721.5" r="5.3" fill="#920064"/><circle cx="688.9" cy="762.6" r="5.3" fill="#aae40b"/><circle cx="688.9" cy="846.3" r="5.3" fill="#1cb41f"/><circle cx="688.9" cy="930.0" r="5.3" fill="#1cb41f"/><circle cx="688.9" cy="1013.7" r="5.3" fill="#1cb41f"/><circle cx="688.9" cy="1064.4" r="5.3" fill="#1cb41f"/><circle cx="688.9" cy="1067.1" r="5.3" fill="#1cb41f"/><circle cx="688.9" cy="706.0" r="5.3" fill="#920064"/><circle cx="688.9" cy="711.8" r="5.3" fill="#aa004f"/><circle cx="688.9" cy="716.8" r="5.3" fill="#920064"/><circle cx="688.9" cy="726.8" r="5.3" fill="#920064"/><circle cx="688.9" cy="733.4" r="5.3" fill="#aa004f"/><circle cx="688.9" cy="801.6" r="5.3" fill="#1cb41f"/><circle cx="688.9" cy="885.5" r="5.3" fill="#03fcf5"/><circle cx="688.9" cy="1065.8" r="5.3" fill="#1cb41f"/><circle cx="640.9" cy="681.0" r="5.3" fill="#1355ff"/><circle cx="640.9" cy="693.3" r="5.3" fill="#1349ff"/><circle cx="640.9" cy="709.8" r="5.3" fill="#0ba4ff"/><circle cx="640.9" cy="720.8" r="5.3" fill="#aae40b"/><circle cx="640.9" cy="1071.9" r="5.3" fill="#1349ff"/></g>
<g stroke="#000" stroke-width="1.6" fill="none">
<path d="M43.5,678.6 V1114.9 H857.5"/>
<path d="M43.5,1114.9 v-8"/>
<path d="M168.7,1114.9 v-8"/>
<path d="M293.9,1114.9 v-8"/>
<path d="M419.1,1114.9 v-8"/>
<path d="M544.3,1114.9 v-8"/>
<path d="M669.5,1114.9 v-8"/>
<path d="M794.7,1114.9 v-8"/>
</g>
<rect x="222" y="1079.0" width="60" height="34.9" fill="#fff"/>
<rect x="362" y="1079.0" width="126" height="34.9" fill="#fff"/>
<rect x="653" y="1079.0" width="82" height="34.9" fill="#fff"/>
<path d="M43.5,1114.9 H857.5 V1024.6" stroke="#000" stroke-width="1.6" fill="none"/>
<path d="M857.5,1094.1 h-8" stroke="#000" stroke-width="1.6"/>
<g font-family="'Liberation Sans', Arial, Helvetica, sans-serif" font-size="28.5" fill="#000">
<text transform="translate(43.5,1148.7) scale(0.91,1)" font-size="32.5" text-anchor="middle">0</text>
<text transform="translate(168.7,1148.7) scale(0.91,1)" font-size="32.5" text-anchor="middle">200</text>
<text transform="translate(293.9,1148.7) scale(0.91,1)" font-size="32.5" text-anchor="middle">400</text>
<text transform="translate(419.1,1148.7) scale(0.91,1)" font-size="32.5" text-anchor="middle">600</text>
<text transform="translate(544.3,1148.7) scale(0.91,1)" font-size="32.5" text-anchor="middle">800</text>
<text transform="translate(669.5,1148.7) scale(0.91,1)" font-size="32.5" text-anchor="middle">1000</text>
<text transform="translate(794.7,1148.7) scale(0.91,1)" font-size="32.5" text-anchor="middle">1200</text>
<path d="M43.5,761.7 h7.5" stroke="#000" stroke-width="1.4"/>
<text transform="translate(51.8,772.7) scale(0.91,1)" font-size="32.5">100</text>
<path d="M43.5,844.8 h7.5" stroke="#000" stroke-width="1.4"/>
<text transform="translate(51.8,855.8) scale(0.91,1)" font-size="32.5">200</text>
<path d="M43.5,927.9 h7.5" stroke="#000" stroke-width="1.4"/>
<text transform="translate(51.8,938.9) scale(0.91,1)" font-size="32.5">300</text>
<path d="M43.5,1011.0 h7.5" stroke="#000" stroke-width="1.4"/>
<text transform="translate(51.8,1022.0) scale(0.91,1)" font-size="32.5">400</text>
<path d="M43.5,1094.1 h7.5" stroke="#000" stroke-width="1.4"/>
<text transform="translate(51.8,1105.1) scale(0.91,1)" font-size="32.5">500</text>
</g>
<path d="M255.3,678.6 V1078.3" stroke="#000" stroke-width="3"/>
<path d="M428.5,678.6 V1078.3" stroke="#000" stroke-width="3"/>
<path d="M694.3,678.6 V1078.3" stroke="#000" stroke-width="3"/>
<g font-family="'Liberation Sans', Arial, Helvetica, sans-serif" font-size="25" fill="#000" text-anchor="middle">
<text transform="translate(252.1,1105.7) scale(0.92,1)" font-size="27.3" text-anchor="middle">PdM</text>
<text transform="translate(425.3,1105.7) scale(0.92,1)" font-size="27.3" text-anchor="middle">Honguedo</text>
<text transform="translate(691.1,1105.7) scale(0.92,1)" font-size="27.3" text-anchor="middle">Cabot</text>
</g>
<text transform="translate(22.0,896.7) rotate(-90)" font-size="29" text-anchor="middle">Deptht (m)</text>
<text transform="translate(452.0,636.3) scale(0.955,1)" font-size="41.5" text-anchor="middle">2016 mean NH<tspan baseline-shift="-19" font-size="27">4</tspan> (mmol N m<tspan baseline-shift="17" font-size="27">−3</tspan>)</text>
<text transform="translate(6.0,636.1) scale(1.1,1)" font-size="33.5" font-weight="bold">B</text>
<rect x="886.4" y="678.6" width="38.3" height="436.3" fill="url(#cbB)"/>
<path d="M886.4,1071.2 H924.7" stroke="#fff" stroke-width="3"/>
<path d="M886.4,722.2 H924.7" stroke="#fff" stroke-width="3"/>
<path d="M886.4,1027.6 H924.7" stroke="#000" stroke-width="3"/>
<path d="M886.4,984.0 H924.7" stroke="#000" stroke-width="3"/>
<path d="M886.4,940.4 H924.7" stroke="#000" stroke-width="3"/>
<path d="M886.4,896.7 H924.7" stroke="#000" stroke-width="3"/>
<path d="M886.4,853.1 H924.7" stroke="#000" stroke-width="3"/>
<path d="M886.4,809.5 H924.7" stroke="#000" stroke-width="3"/>
<path d="M886.4,765.9 H924.7" stroke="#000" stroke-width="3"/>
<rect x="886.4" y="678.6" width="38.3" height="436.3" fill="none" stroke="#000" stroke-width="1.3"/>
<g font-family="'Liberation Sans', Arial, Helvetica, sans-serif" font-size="28.5" fill="#000">
<path d="M886.4,1114.9 h4 M924.7,1114.9 h-4" stroke="#000" stroke-width="1.2"/>
<text transform="translate(931.0,1127.2) scale(0.91,1)" font-size="32.5">0</text>
<path d="M886.4,1005.8 h4 M924.7,1005.8 h-4" stroke="#000" stroke-width="1.2"/>
<text transform="translate(931.0,1018.1) scale(0.91,1)" font-size="32.5">0.5</text>
<path d="M886.4,896.7 h4 M924.7,896.7 h-4" stroke="#000" stroke-width="1.2"/>
<text transform="translate(931.0,909.0) scale(0.91,1)" font-size="32.5">1</text>
<path d="M886.4,787.7 h4 M924.7,787.7 h-4" stroke="#000" stroke-width="1.2"/>
<text transform="translate(931.0,800.0) scale(0.91,1)" font-size="32.5">1.5</text>
<path d="M886.4,678.6 h4 M924.7,678.6 h-4" stroke="#000" stroke-width="1.2"/>
<text transform="translate(931.0,690.9) scale(0.91,1)" font-size="32.5">2</text>
</g>
<path d="M857.5,1270.5 V1706.8" stroke="#000" stroke-width="1.6"/>
<path d="M857.5,1353.6 h-8" stroke="#000" stroke-width="1.6"/>
<path d="M857.5,1436.7 h-8" stroke="#000" stroke-width="1.6"/>
<path d="M857.5,1519.8 h-8" stroke="#000" stroke-width="1.6"/>
<path d="M857.5,1602.9 h-8" stroke="#000" stroke-width="1.6"/>
<path d="M857.5,1686.0 h-8" stroke="#000" stroke-width="1.6"/>
<rect x="43.5" y="1270.50" width="815.0" height="11.30" fill="url(#gC0)"/>
<rect x="43.5" y="1281.50" width="815.0" height="7.50" fill="url(#gC1)"/>
<rect x="43.5" y="1288.70" width="815.0" height="8.50" fill="url(#gC2)"/>
<rect x="43.5" y="1296.90" width="815.0" height="8.60" fill="url(#gC3)"/>
<rect x="43.5" y="1305.20" width="815.0" height="9.90" fill="url(#gC4)"/>
<rect x="43.5" y="1314.80" width="815.0" height="9.90" fill="url(#gC5)"/>
<rect x="43.5" y="1324.40" width="815.0" height="8.50" fill="url(#gC6)"/>
<rect x="43.5" y="1332.60" width="815.0" height="9.90" fill="url(#gC7)"/>
<rect x="43.5" y="1342.20" width="815.0" height="12.60" fill="url(#gC8)"/>
<rect x="43.5" y="1354.50" width="815.0" height="18.20" fill="url(#gC9)"/>
<rect x="43.5" y="1372.40" width="815.0" height="20.90" fill="url(#gC10)"/>
<rect x="43.5" y="1393.00" width="815.0" height="23.60" fill="url(#gC11)"/>
<rect x="43.5" y="1416.30" width="815.0" height="28.30" fill="url(#gC12)"/>
<rect x="43.5" y="1444.30" width="815.0" height="32.80" fill="url(#gC13)"/>
<rect x="43.5" y="1476.80" width="815.0" height="40.00" fill="url(#gC14)"/>
<rect x="43.5" y="1516.50" width="815.0" height="46.30" fill="url(#gC15)"/>
<rect x="43.5" y="1562.50" width="815.0" height="54.20" fill="url(#gC16)"/>
<rect x="43.5" y="1616.40" width="815.0" height="61.90" fill="url(#gC17)"/>
<path d="M43.5,1708.8 L43.3,1281.50 L49.8,1281.50 L49.8,1281.50 L62.3,1281.50 L62.3,1302.00 L72.7,1302.00 L72.7,1294.80 L82.0,1294.80 L82.0,1319.00 L87.1,1319.00 L87.1,1329.50 L105.5,1329.50 L105.5,1302.00 L108.0,1302.00 L108.0,1319.00 L118.5,1319.00 L118.5,1297.00 L126.7,1297.00 L126.7,1416.50 L132.3,1416.50 L132.3,1364.80 L137.5,1364.80 L137.5,1416.20 L143.1,1416.20 L143.1,1444.30 L151.3,1444.30 L151.3,1476.80 L156.9,1476.80 L156.9,1516.50 L162.2,1516.50 L162.2,1476.80 L167.0,1476.80 L167.0,1516.50 L177.1,1516.50 L177.1,1476.80 L180.9,1476.80 L180.9,1562.50 L213.4,1562.50 L213.4,1516.50 L230.6,1516.50 L230.6,1476.80 L238.5,1476.80 L238.5,1516.50 L315.0,1516.50 L315.0,1562.70 L461.4,1562.70 L461.4,1616.50 L614.5,1616.50 L614.5,1678.00 L700.0,1678.00 L700.0,1616.60 L789.0,1616.60 L789.0,1678.00 L792.8,1678.00 L792.8,1616.60 L797.9,1616.60 L797.9,1678.00 L853.2,1678.00 L853.2,1616.60 L857.5,1616.60 L858.5,1616.60 L858.5,1708.8 Z" fill="#fff"/>
<rect x="653" y="1670.88" width="82" height="34.9" fill="#fff"/>
<path d="M150.0,1275.7 L171.0,1294.0 L176.0,1309.7 L197.0,1320.2 L223.0,1328.0 L249.5,1336.0 L275.7,1338.6 L301.8,1332.0 L322.0,1333.0" fill="none" stroke="#fff" stroke-width="3" stroke-linejoin="round" stroke-linecap="round"/>
<path d="M360.0,1336.0 L380.4,1338.6 L432.8,1342.5 L460.0,1343.8 L502.3,1336.8 L557.2,1332.7 L612.0,1330.0 L653.2,1330.8 L662.0,1331.0" fill="none" stroke="#fff" stroke-width="3" stroke-linejoin="round" stroke-linecap="round"/>
<path d="M694.0,1330.5 L702.6,1330.0 L749.2,1327.2 L804.1,1327.2 L857.6,1330.0" fill="none" stroke="#fff" stroke-width="3" stroke-linejoin="round" stroke-linecap="round"/>
<path d="M165.7,1464.0 L173.5,1469.5" fill="none" stroke="#fff" stroke-width="3" stroke-linejoin="round" stroke-linecap="round"/>
<path d="M181.4,1469.5 L195.0,1472.0 L210.0,1482.0 L226.0,1493.0" fill="none" stroke="#fff" stroke-width="3" stroke-linejoin="round" stroke-linecap="round"/>
<text x="0" y="0" transform="translate(341.0,1334.6) rotate(5) scale(1.08,1)" dy="8.5" text-anchor="middle" font-size="24.5" fill="#fff">300</text>
<text x="0" y="0" transform="translate(678.0,1331.9) rotate(0) scale(1.08,1)" dy="8.5" text-anchor="middle" font-size="24.5" fill="#fff">300</text>
<path d="M123.8,1320.2 L129.0,1346.4 L139.5,1364.7 L147.4,1381.8 L157.8,1379.1 L165.7,1373.9 L197.0,1376.5 L249.5,1383.0 L270.4,1387.0 L301.8,1380.5 L312.0,1380.0" fill="none" stroke="#000" stroke-width="3" stroke-linejoin="round" stroke-linecap="round"/>
<path d="M350.0,1383.5 L354.2,1385.7 L393.5,1393.5 L432.8,1396.2 L460.0,1402.7 L469.4,1404.0 L488.6,1398.5 L516.0,1391.7 L557.2,1387.6 L609.3,1380.7 L636.7,1386.2 L644.0,1387.5" fill="none" stroke="#000" stroke-width="3" stroke-linejoin="round" stroke-linecap="round"/>
<path d="M678.0,1392.0 L694.3,1394.4 L721.8,1384.8 L776.7,1369.7 L831.5,1372.5 L857.6,1369.7" fill="none" stroke="#000" stroke-width="3" stroke-linejoin="round" stroke-linecap="round"/>
<text x="0" y="0" transform="translate(330.7,1381.0) rotate(10) scale(1.08,1)" dy="8.5" text-anchor="middle" font-size="24.5" fill="#000">250</text>
<text x="0" y="0" transform="translate(661.0,1390.0) rotate(10) scale(1.08,1)" dy="8.5" text-anchor="middle" font-size="24.5" fill="#000">250</text>
<path d="M136.9,1381.8 L144.7,1396.2 L155.2,1402.7 L160.4,1408.0 L165.7,1401.4 L197.0,1401.4 L223.3,1401.4 L249.5,1406.6 L275.7,1414.5 L301.8,1410.6 L327.0,1412.5" fill="none" stroke="#000" stroke-width="3" stroke-linejoin="round" stroke-linecap="round"/>
<path d="M366.0,1417.5 L380.4,1419.7 L419.7,1425.0 L447.4,1435.6 L474.9,1439.7 L529.7,1438.3 L557.2,1435.6 L584.6,1426.0 L606.6,1424.0 L639.5,1430.6 L655.0,1434.0" fill="none" stroke="#000" stroke-width="3" stroke-linejoin="round" stroke-linecap="round"/>
<path d="M688.0,1443.0 L699.8,1443.8 L721.8,1432.8 L749.2,1421.9 L790.4,1413.6 L831.5,1418.6 L857.6,1415.8" fill="none" stroke="#000" stroke-width="3" stroke-linejoin="round" stroke-linecap="round"/>
<text x="0" y="0" transform="translate(346.4,1415.0) rotate(10) scale(1.08,1)" dy="8.5" text-anchor="middle" font-size="24.5" fill="#000">200</text>
<text x="0" y="0" transform="translate(672.0,1439.5) rotate(30) scale(1.08,1)" dy="8.5" text-anchor="middle" font-size="24.5" fill="#000">200</text>
<path d="M144.7,1427.6 L150.0,1419.7 L155.0,1420.5 L160.4,1428.9 L165.7,1423.7 L218.0,1422.3 L224.0,1422.5" fill="none" stroke="#000" stroke-width="3" stroke-linejoin="round" stroke-linecap="round"/>
<path d="M258.0,1435.4 L275.7,1443.3 L301.8,1440.7 L328.0,1438.0 L354.2,1443.3 L380.4,1448.5 L420.0,1457.5 L433.7,1463.0 L452.9,1479.5 L468.0,1494.6 L477.6,1517.9 L485.8,1523.4 L507.8,1535.7 L515.0,1541.0" fill="none" stroke="#000" stroke-width="3" stroke-linejoin="round" stroke-linecap="round"/>
<path d="M543.0,1568.0 L548.9,1571.4 L569.5,1586.5" fill="none" stroke="#000" stroke-width="3" stroke-linejoin="round" stroke-linecap="round"/>
<text x="0" y="0" transform="translate(241.6,1425.0) rotate(10) scale(1.08,1)" dy="8.5" text-anchor="middle" font-size="24.5" fill="#000">150</text>
<text x="0" y="0" transform="translate(529.7,1554.5) rotate(45) scale(1.08,1)" dy="8.5" text-anchor="middle" font-size="24.5" fill="#000">150</text>
<g stroke="#000" stroke-width="1.1"><circle cx="53.5" cy="1273.5" r="5.3" fill="#09f6e4"/><circle cx="53.5" cy="1283.5" r="5.3" fill="#09f6e4"/><circle cx="63" cy="1273.5" r="5.3" fill="#09f6e4"/><circle cx="63" cy="1283.5" r="5.3" fill="#09f6e4"/><circle cx="63" cy="1288.0" r="5.3" fill="#09f6e4"/><circle cx="68" cy="1273.5" r="5.3" fill="#09f6e4"/><circle cx="68" cy="1283.5" r="5.3" fill="#09f6e4"/><circle cx="68" cy="1292.0" r="5.3" fill="#09f6e4"/><circle cx="68" cy="1313.5" r="5.3" fill="#09f6e4"/><circle cx="68" cy="1335.0" r="5.3" fill="#15ebc2"/><circle cx="86.5" cy="1273.5" r="5.3" fill="#09f6e4"/><circle cx="86.5" cy="1283.5" r="5.3" fill="#09f6e4"/><circle cx="86.5" cy="1292.0" r="5.3" fill="#09f6e4"/><circle cx="86.5" cy="1313.5" r="5.3" fill="#09f6e4"/><circle cx="86.5" cy="1348.0" r="5.3" fill="#15ebc2"/><circle cx="101" cy="1273.5" r="5.3" fill="#09f6e4"/><circle cx="101" cy="1283.5" r="5.3" fill="#09f6e4"/><circle cx="101" cy="1292.0" r="5.3" fill="#09f6e4"/><circle cx="101" cy="1313.5" r="5.3" fill="#09f6e4"/><circle cx="101" cy="1354.5" r="5.3" fill="#2fbc1c"/><circle cx="101" cy="1360.0" r="5.3" fill="#2fbc1c"/><circle cx="109.4" cy="1273.5" r="5.3" fill="#09f6e4"/><circle cx="109.4" cy="1283.5" r="5.3" fill="#09f6e4"/><circle cx="109.4" cy="1292.0" r="5.3" fill="#09f6e4"/><circle cx="109.4" cy="1313.5" r="5.3" fill="#09f6e4"/><circle cx="109.4" cy="1335.4" r="5.3" fill="#15ebc2"/><circle cx="118" cy="1273.5" r="5.3" fill="#09f6e4"/><circle cx="118" cy="1283.5" r="5.3" fill="#09f6e4"/><circle cx="118" cy="1292.0" r="5.3" fill="#09f6e4"/><circle cx="118" cy="1313.5" r="5.3" fill="#09f6e4"/><circle cx="123.6" cy="1273.5" r="5.3" fill="#09f6e4"/><circle cx="123.6" cy="1283.5" r="5.3" fill="#09f6e4"/><circle cx="123.6" cy="1292.0" r="5.3" fill="#09f6e4"/><circle cx="123.6" cy="1313.5" r="5.3" fill="#09f6e4"/><circle cx="123.6" cy="1355.0" r="5.3" fill="#2fbc1c"/><circle cx="123.6" cy="1371.4" r="5.3" fill="#ffc100"/><circle cx="123.6" cy="1380.5" r="5.3" fill="#ffc100"/><circle cx="131.3" cy="1273.5" r="5.3" fill="#09f6e4"/><circle cx="131.3" cy="1283.5" r="5.3" fill="#09f6e4"/><circle cx="131.3" cy="1292.0" r="5.3" fill="#09f6e4"/><circle cx="131.3" cy="1313.5" r="5.3" fill="#09f6e4"/><circle cx="131.3" cy="1355.0" r="5.3" fill="#2fbc1c"/><circle cx="131.3" cy="1480.0" r="5.3" fill="#920064"/><circle cx="131.3" cy="1519.3" r="5.3" fill="#920064"/><circle cx="137.5" cy="1273.5" r="5.3" fill="#09f6e4"/><circle cx="137.5" cy="1283.5" r="5.3" fill="#09f6e4"/><circle cx="137.5" cy="1292.0" r="5.3" fill="#09f6e4"/><circle cx="137.5" cy="1313.5" r="5.3" fill="#09f6e4"/><circle cx="137.5" cy="1355.0" r="5.3" fill="#2fbc1c"/><circle cx="137.5" cy="1438.5" r="5.3" fill="#ff1200"/><circle cx="137.5" cy="1533.5" r="5.3" fill="#920064"/><circle cx="161.8" cy="1273.5" r="5.3" fill="#0ba4ff"/><circle cx="161.8" cy="1283.5" r="5.3" fill="#0ba4ff"/><circle cx="161.8" cy="1292.0" r="5.3" fill="#0ba4ff"/><circle cx="161.8" cy="1313.5" r="5.3" fill="#1123ff"/><circle cx="161.8" cy="1352.0" r="5.3" fill="#fbf500"/><circle cx="161.8" cy="1355.0" r="5.3" fill="#fbf500"/><circle cx="161.8" cy="1438.5" r="5.3" fill="#ff1200"/><circle cx="161.8" cy="1521.5" r="5.3" fill="#920064"/><circle cx="161.8" cy="1530.8" r="5.3" fill="#920064"/><circle cx="186" cy="1273.5" r="5.3" fill="#03fcf5"/><circle cx="186" cy="1283.5" r="5.3" fill="#03fcf5"/><circle cx="186" cy="1292.0" r="5.3" fill="#03fcf5"/><circle cx="186" cy="1313.5" r="5.3" fill="#1123ff"/><circle cx="186" cy="1355.0" r="5.3" fill="#fbf500"/><circle cx="186" cy="1438.5" r="5.3" fill="#ff1200"/><circle cx="186" cy="1521.5" r="5.3" fill="#920064"/><circle cx="186" cy="1544.4" r="5.3" fill="#920064"/><circle cx="213" cy="1273.5" r="5.3" fill="#1123ff"/><circle cx="213" cy="1283.5" r="5.3" fill="#09f6e4"/><circle cx="213" cy="1292.0" r="5.3" fill="#09f6e4"/><circle cx="213" cy="1313.5" r="5.3" fill="#1123ff"/><circle cx="213" cy="1355.0" r="5.3" fill="#10c04d"/><circle cx="213" cy="1438.5" r="5.3" fill="#ff1200"/><circle cx="213" cy="1522.6" r="5.3" fill="#920064"/><circle cx="213" cy="1538.9" r="5.3" fill="#920064"/><circle cx="222.3" cy="1273.5" r="5.3" fill="#0ba4ff"/><circle cx="222.3" cy="1283.5" r="5.3" fill="#0ba4ff"/><circle cx="222.3" cy="1292.0" r="5.3" fill="#0ba4ff"/><circle cx="222.3" cy="1313.5" r="5.3" fill="#10b93a"/><circle cx="222.3" cy="1355.0" r="5.3" fill="#edf602"/><circle cx="222.3" cy="1480.0" r="5.3" fill="#920064"/><circle cx="222.3" cy="1511.6" r="5.3" fill="#920064"/><circle cx="235" cy="1273.5" r="5.3" fill="#09f6e4"/><circle cx="235" cy="1283.5" r="5.3" fill="#09f6e4"/><circle cx="235" cy="1313.5" r="5.3" fill="#09f6e4"/><circle cx="235" cy="1355.0" r="5.3" fill="#10c04d"/><circle cx="235" cy="1504.0" r="5.3" fill="#920064"/><circle cx="262.7" cy="1273.5" r="5.3" fill="#1123ff"/><circle cx="262.7" cy="1283.5" r="5.3" fill="#1123ff"/><circle cx="262.7" cy="1291.5" r="5.3" fill="#1123ff"/><circle cx="262.7" cy="1313.8" r="5.3" fill="#1123ff"/><circle cx="262.7" cy="1355.6" r="5.3" fill="#cbed07"/><circle cx="262.7" cy="1438.1" r="5.3" fill="#ff1200"/><circle cx="262.7" cy="1480.7" r="5.3" fill="#f0060e"/><circle cx="262.7" cy="1535.6" r="5.3" fill="#f0060e"/><circle cx="315" cy="1273.5" r="5.3" fill="#09f6e4"/><circle cx="315" cy="1283.5" r="5.3" fill="#09f6e4"/><circle cx="315" cy="1291.5" r="5.3" fill="#09f6e4"/><circle cx="315" cy="1313.8" r="5.3" fill="#10b93a"/><circle cx="315" cy="1355.6" r="5.3" fill="#edf602"/><circle cx="315" cy="1397.5" r="5.3" fill="#ff9100"/><circle cx="315" cy="1438.1" r="5.3" fill="#ff1200"/><circle cx="315" cy="1522.6" r="5.3" fill="#f0060e"/><circle cx="315" cy="1544.8" r="5.3" fill="#f0060e"/><circle cx="349" cy="1273.5" r="5.3" fill="#1123ff"/><circle cx="349" cy="1283.5" r="5.3" fill="#1123ff"/><circle cx="349" cy="1291.5" r="5.3" fill="#1123ff"/><circle cx="349" cy="1313.8" r="5.3" fill="#10b93a"/><circle cx="349" cy="1355.6" r="5.3" fill="#ffac00"/><circle cx="349" cy="1438.1" r="5.3" fill="#ff1200"/><circle cx="349" cy="1442.0" r="5.3" fill="#ff1200"/><circle cx="349" cy="1521.5" r="5.3" fill="#f0060e"/><circle cx="349" cy="1540.0" r="5.3" fill="#f0060e"/><circle cx="389.5" cy="1273.5" r="5.3" fill="#0ba4ff"/><circle cx="389.5" cy="1283.5" r="5.3" fill="#0ba4ff"/><circle cx="389.5" cy="1291.5" r="5.3" fill="#0ba4ff"/><circle cx="389.5" cy="1313.8" r="5.3" fill="#1123ff"/><circle cx="389.5" cy="1355.0" r="5.3" fill="#10ce72"/><circle cx="389.5" cy="1438.1" r="5.3" fill="#ff1200"/><circle cx="389.5" cy="1522.0" r="5.3" fill="#f0060e"/><circle cx="389.5" cy="1570.0" r="5.3" fill="#f0060e"/><circle cx="434" cy="1273.5" r="5.3" fill="#09f6e4"/><circle cx="434" cy="1283.5" r="5.3" fill="#09f6e4"/><circle cx="434" cy="1291.5" r="5.3" fill="#09f6e4"/><circle cx="434" cy="1313.8" r="5.3" fill="#09f6e4"/><circle cx="434" cy="1355.0" r="5.3" fill="#15ebc2"/><circle cx="434" cy="1402.5" r="5.3" fill="#ff9100"/><circle cx="434" cy="1438.2" r="5.3" fill="#ff1200"/><circle cx="434" cy="1522.0" r="5.3" fill="#f0060e"/><circle cx="434" cy="1579.5" r="5.3" fill="#f0060e"/><circle cx="434" cy="1585.0" r="5.3" fill="#f0060e"/><circle cx="474.9" cy="1276.3" r="5.3" fill="#0ba4ff"/><circle cx="474.9" cy="1283.2" r="5.3" fill="#0ba4ff"/><circle cx="474.9" cy="1291.4" r="5.3" fill="#0ba4ff"/><circle cx="474.9" cy="1313.4" r="5.3" fill="#09f6e4"/><circle cx="474.9" cy="1355.5" r="5.3" fill="#10b327"/><circle cx="474.9" cy="1438.2" r="5.3" fill="#ff7500"/><circle cx="474.9" cy="1521.9" r="5.3" fill="#ff8300"/><circle cx="474.9" cy="1590.5" r="5.3" fill="#ff8300"/><circle cx="474.9" cy="1594.0" r="5.3" fill="#ff8300"/><circle cx="514.6" cy="1276.3" r="5.3" fill="#0ba4ff"/><circle cx="514.6" cy="1283.2" r="5.3" fill="#0ba4ff"/><circle cx="514.6" cy="1291.4" r="5.3" fill="#0ba4ff"/><circle cx="514.6" cy="1313.4" r="5.3" fill="#13d587"/><circle cx="514.6" cy="1354.5" r="5.3" fill="#10ce72"/><circle cx="514.6" cy="1438.2" r="5.3" fill="#ff7500"/><circle cx="514.6" cy="1521.9" r="5.3" fill="#ff8300"/><circle cx="514.6" cy="1585.0" r="5.3" fill="#ff8300"/><circle cx="514.6" cy="1592.0" r="5.3" fill="#ff8300"/><circle cx="568.1" cy="1276.3" r="5.3" fill="#107eff"/><circle cx="568.1" cy="1283.2" r="5.3" fill="#107eff"/><circle cx="568.1" cy="1291.4" r="5.3" fill="#107eff"/><circle cx="568.1" cy="1313.4" r="5.3" fill="#1123ff"/><circle cx="568.1" cy="1354.5" r="5.3" fill="#10b93a"/><circle cx="568.1" cy="1438.2" r="5.3" fill="#ff7500"/><circle cx="568.1" cy="1521.9" r="5.3" fill="#ff8300"/><circle cx="568.1" cy="1601.5" r="5.3" fill="#ff8300"/><circle cx="568.1" cy="1605.6" r="5.3" fill="#ff8300"/><circle cx="599.7" cy="1276.3" r="5.3" fill="#09f6e4"/><circle cx="599.7" cy="1283.2" r="5.3" fill="#09f6e4"/><circle cx="599.7" cy="1291.4" r="5.3" fill="#09f6e4"/><circle cx="599.7" cy="1313.4" r="5.3" fill="#15dd9b"/><circle cx="599.7" cy="1354.5" r="5.3" fill="#10ce72"/><circle cx="599.7" cy="1521.9" r="5.3" fill="#ff8300"/><circle cx="599.7" cy="1605.6" r="5.3" fill="#ff8300"/><circle cx="599.7" cy="1635.7" r="5.3" fill="#ff8300"/><circle cx="668.3" cy="1276.3" r="5.3" fill="#145cff"/><circle cx="668.3" cy="1283.2" r="5.3" fill="#145cff"/><circle cx="668.3" cy="1291.4" r="5.3" fill="#145cff"/><circle cx="668.3" cy="1313.4" r="5.3" fill="#15dd9b"/><circle cx="668.3" cy="1354.5" r="5.3" fill="#15ebc2"/><circle cx="668.3" cy="1438.2" r="5.3" fill="#ff7500"/><circle cx="668.3" cy="1521.9" r="5.3" fill="#ff8300"/><circle cx="668.3" cy="1605.6" r="5.3" fill="#ff8300"/><circle cx="688.9" cy="1276.3" r="5.3" fill="#1236ff"/><circle cx="688.9" cy="1283.2" r="5.3" fill="#1236ff"/><circle cx="688.9" cy="1291.4" r="5.3" fill="#1236ff"/><circle cx="688.9" cy="1313.4" r="5.3" fill="#15dd9b"/><circle cx="688.9" cy="1354.5" r="5.3" fill="#15ebc2"/><circle cx="688.9" cy="1438.2" r="5.3" fill="#ff7500"/><circle cx="688.9" cy="1521.9" r="5.3" fill="#ff8300"/><circle cx="688.9" cy="1605.6" r="5.3" fill="#ff8300"/><circle cx="688.9" cy="1656.3" r="5.3" fill="#ff8300"/><circle cx="688.9" cy="1659.0" r="5.3" fill="#ff8300"/><circle cx="688.9" cy="1300.4" r="5.3" fill="#09f6e4"/><circle cx="688.9" cy="1325.3" r="5.3" fill="#15ebc2"/><circle cx="688.9" cy="1375.2" r="5.3" fill="#10c75f"/><circle cx="688.9" cy="1391.0" r="5.3" fill="#10b327"/><circle cx="688.9" cy="1478.2" r="5.3" fill="#ffac00"/><circle cx="688.9" cy="1562.2" r="5.3" fill="#ffb700"/><circle cx="688.9" cy="1624.5" r="5.3" fill="#ffc100"/><circle cx="688.9" cy="1642.8" r="5.3" fill="#ffc100"/><circle cx="688.9" cy="1658.6" r="5.3" fill="#ffbd00"/><circle cx="688.9" cy="1677.7" r="5.3" fill="#ffc100"/><circle cx="162.7" cy="1374.7" r="5.3" fill="#ff9100"/><circle cx="196.4" cy="1374.7" r="5.3" fill="#fced00"/><circle cx="348" cy="1374.7" r="5.3" fill="#ff1200"/><circle cx="134.7" cy="1397.0" r="5.3" fill="#ff7500"/><circle cx="162.7" cy="1397.0" r="5.3" fill="#ff3400"/><circle cx="196.4" cy="1397.0" r="5.3" fill="#ff9100"/><circle cx="224.5" cy="1397.0" r="5.3" fill="#ffa000"/><circle cx="513.5" cy="1397.0" r="5.3" fill="#fde500"/><circle cx="162.7" cy="1329.8" r="5.3" fill="#10b327"/><circle cx="196.4" cy="1458.8" r="5.3" fill="#e60418"/></g>
<g stroke="#000" stroke-width="1.6" fill="none">
<path d="M43.5,1270.5 V1706.8 H857.5"/>
<path d="M43.5,1706.8 v-8"/>
<path d="M168.7,1706.8 v-8"/>
<path d="M293.9,1706.8 v-8"/>
<path d="M419.1,1706.8 v-8"/>
<path d="M544.3,1706.8 v-8"/>
<path d="M669.5,1706.8 v-8"/>
<path d="M794.7,1706.8 v-8"/>
</g>
<rect x="222" y="1670.9" width="60" height="34.9" fill="#fff"/>
<rect x="362" y="1670.9" width="126" height="34.9" fill="#fff"/>
<rect x="653" y="1670.9" width="82" height="34.9" fill="#fff"/>
<path d="M43.5,1706.8 H857.5 V1616.5" stroke="#000" stroke-width="1.6" fill="none"/>
<path d="M857.5,1686.0 h-8" stroke="#000" stroke-width="1.6"/>
<g font-family="'Liberation Sans', Arial, Helvetica, sans-serif" font-size="28.5" fill="#000">
<text transform="translate(43.5,1740.6) scale(0.91,1)" font-size="32.5" text-anchor="middle">0</text>
<text transform="translate(168.7,1740.6) scale(0.91,1)" font-size="32.5" text-anchor="middle">200</text>
<text transform="translate(293.9,1740.6) scale(0.91,1)" font-size="32.5" text-anchor="middle">400</text>
<text transform="translate(419.1,1740.6) scale(0.91,1)" font-size="32.5" text-anchor="middle">600</text>
<text transform="translate(544.3,1740.6) scale(0.91,1)" font-size="32.5" text-anchor="middle">800</text>
<text transform="translate(669.5,1740.6) scale(0.91,1)" font-size="32.5" text-anchor="middle">1000</text>
<text transform="translate(794.7,1740.6) scale(0.91,1)" font-size="32.5" text-anchor="middle">1200</text>
<path d="M43.5,1353.6 h7.5" stroke="#000" stroke-width="1.4"/>
<text transform="translate(51.8,1364.6) scale(0.91,1)" font-size="32.5">100</text>
<path d="M43.5,1436.7 h7.5" stroke="#000" stroke-width="1.4"/>
<text transform="translate(51.8,1447.7) scale(0.91,1)" font-size="32.5">200</text>
<path d="M43.5,1519.8 h7.5" stroke="#000" stroke-width="1.4"/>
<text transform="translate(51.8,1530.8) scale(0.91,1)" font-size="32.5">300</text>
<path d="M43.5,1602.9 h7.5" stroke="#000" stroke-width="1.4"/>
<text transform="translate(51.8,1613.9) scale(0.91,1)" font-size="32.5">400</text>
<path d="M43.5,1686.0 h7.5" stroke="#000" stroke-width="1.4"/>
<text transform="translate(51.8,1697.0) scale(0.91,1)" font-size="32.5">500</text>
</g>
<path d="M255.3,1270.5 V1670.2" stroke="#000" stroke-width="3"/>
<path d="M428.5,1270.5 V1670.2" stroke="#000" stroke-width="3"/>
<path d="M694.3,1270.5 V1670.2" stroke="#000" stroke-width="3"/>
<g font-family="'Liberation Sans', Arial, Helvetica, sans-serif" font-size="25" fill="#000" text-anchor="middle">
<text transform="translate(252.1,1697.6) scale(0.92,1)" font-size="27.3" text-anchor="middle">PdM</text>
<text transform="translate(425.3,1697.6) scale(0.92,1)" font-size="27.3" text-anchor="middle">Honguedo</text>
<text transform="translate(691.1,1697.6) scale(0.92,1)" font-size="27.3" text-anchor="middle">Cabot</text>
</g>
<text transform="translate(22.0,1488.6) rotate(-90)" font-size="29" text-anchor="middle">Deptht (m)</text>
<text transform="translate(452.0,1228.3) scale(0.955,1)" font-size="41.5" text-anchor="middle">2016 mean DO (mmol O<tspan baseline-shift="-19" font-size="27">2</tspan> m<tspan baseline-shift="17" font-size="27">−3</tspan>)</text>
<text transform="translate(6.0,1232.2) scale(1.1,1)" font-size="33.5" font-weight="bold">C</text>
<rect x="886.4" y="1270.5" width="38.3" height="436.3" fill="url(#cbC)"/>
<path d="M886.4,1634.1 H924.7" stroke="#fff" stroke-width="3"/>
<path d="M886.4,1343.2 H924.7" stroke="#fff" stroke-width="3"/>
<path d="M886.4,1561.4 H924.7" stroke="#000" stroke-width="3"/>
<path d="M886.4,1488.6 H924.7" stroke="#000" stroke-width="3"/>
<path d="M886.4,1415.9 H924.7" stroke="#000" stroke-width="3"/>
<rect x="886.4" y="1270.5" width="38.3" height="436.3" fill="none" stroke="#000" stroke-width="1.3"/>
<g font-family="'Liberation Sans', Arial, Helvetica, sans-serif" font-size="28.5" fill="#000">
<path d="M886.4,1706.8 h4 M924.7,1706.8 h-4" stroke="#000" stroke-width="1.2"/>
<text transform="translate(931.0,1719.1) scale(0.91,1)" font-size="32.5">50</text>
<path d="M886.4,1634.1 h4 M924.7,1634.1 h-4" stroke="#000" stroke-width="1.2"/>
<text transform="translate(931.0,1646.4) scale(0.91,1)" font-size="32.5">100</text>
<path d="M886.4,1561.4 h4 M924.7,1561.4 h-4" stroke="#000" stroke-width="1.2"/>
<text transform="translate(931.0,1573.7) scale(0.91,1)" font-size="32.5">150</text>
<path d="M886.4,1488.6 h4 M924.7,1488.6 h-4" stroke="#000" stroke-width="1.2"/>
<text transform="translate(931.0,1500.9) scale(0.91,1)" font-size="32.5">200</text>
<path d="M886.4,1415.9 h4 M924.7,1415.9 h-4" stroke="#000" stroke-width="1.2"/>
<text transform="translate(931.0,1428.2) scale(0.91,1)" font-size="32.5">250</text>
<path d="M886.4,1343.2 h4 M924.7,1343.2 h-4" stroke="#000" stroke-width="1.2"/>
<text transform="translate(931.0,1355.5) scale(0.91,1)" font-size="32.5">300</text>
<path d="M886.4,1270.5 h4 M924.7,1270.5 h-4" stroke="#000" stroke-width="1.2"/>
<text transform="translate(931.0,1282.8) scale(0.91,1)" font-size="32.5">350</text>
</g>
<path d="M857.5,1832.5 V2292.4" stroke="#000" stroke-width="1.6"/>
<path d="M857.5,1920.1 h-8" stroke="#000" stroke-width="1.6"/>
<path d="M857.5,2007.7 h-8" stroke="#000" stroke-width="1.6"/>
<path d="M857.5,2095.3 h-8" stroke="#000" stroke-width="1.6"/>
<path d="M857.5,2182.9 h-8" stroke="#000" stroke-width="1.6"/>
<path d="M857.5,2270.5 h-8" stroke="#000" stroke-width="1.6"/>
<rect x="43.5" y="1832.50" width="815.0" height="11.90" fill="url(#gD0)"/>
<rect x="43.5" y="1844.10" width="815.0" height="7.89" fill="url(#gD1)"/>
<rect x="43.5" y="1851.69" width="815.0" height="8.94" fill="url(#gD2)"/>
<rect x="43.5" y="1860.33" width="815.0" height="9.05" fill="url(#gD3)"/>
<rect x="43.5" y="1869.08" width="815.0" height="10.42" fill="url(#gD4)"/>
<rect x="43.5" y="1879.20" width="815.0" height="10.42" fill="url(#gD5)"/>
<rect x="43.5" y="1889.32" width="815.0" height="8.94" fill="url(#gD6)"/>
<rect x="43.5" y="1897.96" width="815.0" height="10.42" fill="url(#gD7)"/>
<rect x="43.5" y="1908.08" width="815.0" height="13.27" fill="url(#gD8)"/>
<rect x="43.5" y="1921.05" width="815.0" height="19.17" fill="url(#gD9)"/>
<rect x="43.5" y="1939.92" width="815.0" height="22.02" fill="url(#gD10)"/>
<rect x="43.5" y="1961.63" width="815.0" height="24.86" fill="url(#gD11)"/>
<rect x="43.5" y="1986.20" width="815.0" height="29.82" fill="url(#gD12)"/>
<rect x="43.5" y="2015.71" width="815.0" height="34.56" fill="url(#gD13)"/>
<rect x="43.5" y="2049.97" width="815.0" height="42.15" fill="url(#gD14)"/>
<rect x="43.5" y="2091.82" width="815.0" height="48.79" fill="url(#gD15)"/>
<rect x="43.5" y="2140.31" width="815.0" height="57.12" fill="url(#gD16)"/>
<rect x="43.5" y="2197.13" width="815.0" height="65.24" fill="url(#gD17)"/>
<path d="M43.5,2294.4 L43.3,1844.10 L49.8,1844.10 L49.8,1844.10 L62.3,1844.10 L62.3,1865.71 L72.7,1865.71 L72.7,1858.12 L82.0,1858.12 L82.0,1883.63 L87.1,1883.63 L87.1,1894.69 L105.5,1894.69 L105.5,1865.71 L108.0,1865.71 L108.0,1883.63 L118.5,1883.63 L118.5,1860.44 L126.7,1860.44 L126.7,1986.41 L132.3,1986.41 L132.3,1931.91 L137.5,1931.91 L137.5,1986.09 L143.1,1986.09 L143.1,2015.71 L151.3,2015.71 L151.3,2049.97 L156.9,2049.97 L156.9,2091.82 L162.2,2091.82 L162.2,2049.97 L167.0,2049.97 L167.0,2091.82 L177.1,2091.82 L177.1,2049.97 L180.9,2049.97 L180.9,2140.31 L213.4,2140.31 L213.4,2091.82 L230.6,2091.82 L230.6,2049.97 L238.5,2049.97 L238.5,2091.82 L315.0,2091.82 L315.0,2140.52 L461.4,2140.52 L461.4,2197.24 L614.5,2197.24 L614.5,2262.07 L700.0,2262.07 L700.0,2197.34 L789.0,2197.34 L789.0,2262.07 L792.8,2262.07 L792.8,2197.34 L797.9,2197.34 L797.9,2262.07 L853.2,2262.07 L853.2,2197.34 L857.5,2197.34 L858.5,2197.34 L858.5,2294.4 Z" fill="#fff"/>
<rect x="81.5" y="1887.84" width="4.90" height="5.48" fill="#600090"/>
<rect x="87.1" y="1893.32" width="4.50" height="13.18" fill="#600090"/>
<rect x="95.7" y="1893.32" width="5.30" height="13.18" fill="#600090"/>
<rect x="110" y="1883.63" width="8.20" height="9.70" fill="#600090"/>
<rect x="113.5" y="1872.87" width="4.70" height="10.75" fill="#600090"/>
<rect x="653" y="2254.56" width="82" height="36.8" fill="#fff"/>
<path d="M716.3,1833.7 L700.0,1837.2 L677.9,1847.5 L675.1,1855.7 L683.4,1863.9 L721.8,1865.3 L748.0,1867.8" fill="none" stroke="#fff" stroke-width="3" stroke-linejoin="round" stroke-linecap="round"/>
<path d="M788.0,1866.8 L795.9,1866.7 L857.6,1868.0" fill="none" stroke="#fff" stroke-width="3" stroke-linejoin="round" stroke-linecap="round"/>
<text x="0" y="0" transform="translate(768.4,1868.0) rotate(0) scale(1.08,1)" dy="8.5" text-anchor="middle" font-size="24.5" fill="#fff">8.1</text>
<path d="M223.0,1839.4 L249.0,1842.3" fill="none" stroke="#000" stroke-width="3" stroke-linejoin="round" stroke-linecap="round"/>
<path d="M265.0,1838.3 L270.0,1838.3" fill="none" stroke="#000" stroke-width="3" stroke-linejoin="round" stroke-linecap="round"/>
<path d="M285.0,1834.4 L294.0,1834.4" fill="none" stroke="#000" stroke-width="3" stroke-linejoin="round" stroke-linecap="round"/>
<path d="M267.8,1854.1 L301.8,1851.4 L354.2,1852.7 L406.6,1856.6 L432.8,1861.9 L445.9,1877.6 L447.4,1885.8 L450.0,1891.0" fill="none" stroke="#000" stroke-width="3" stroke-linejoin="round" stroke-linecap="round"/>
<path d="M461.0,1901.5 L463.9,1902.3 L507.8,1907.8 L543.5,1907.8 L573.6,1909.1 L598.3,1905.0 L617.5,1913.2 L658.7,1918.7 L666.9,1935.2 L672.4,1957.2 L680.6,1984.6 L694.3,2003.8 L696.0,2004.9" fill="none" stroke="#000" stroke-width="3" stroke-linejoin="round" stroke-linecap="round"/>
<path d="M710.0,2008.0 L721.8,2006.5 L749.2,1995.6 L776.7,1981.9 L812.3,1969.5 L845.2,1973.7 L856.2,2006.5 L856.2,2118.7" fill="none" stroke="#000" stroke-width="3" stroke-linejoin="round" stroke-linecap="round"/>
<path d="M852.1,2138.7 L852.1,2165.7" fill="none" stroke="#000" stroke-width="3" stroke-linejoin="round" stroke-linecap="round"/>
<text x="0" y="0" transform="translate(455.7,1898.4) rotate(0) scale(1.08,1)" dy="8.5" text-anchor="middle" font-size="24.5" fill="#000">8</text>
<text x="0" y="0" transform="translate(702.6,2009.3) rotate(0) scale(1.08,1)" dy="8.5" text-anchor="middle" font-size="24.5" fill="#000">8</text>
<text x="0" y="0" transform="translate(852.1,2128.6) rotate(90) scale(1.08,1)" dy="8.5" text-anchor="middle" font-size="24.5" fill="#000">8</text>
<text x="0" y="0" transform="translate(275.7,1839.7) rotate(0) scale(1.08,1)" dy="8.5" text-anchor="middle" font-size="24.5" fill="#000">8</text>
<path d="M134.3,1854.1 L136.9,1885.4 L142.1,1909.0 L150.0,1914.3 L157.8,1912.9 L165.7,1916.8 L184.0,1920.8 L223.3,1924.7 L249.5,1930.0 L275.7,1936.5 L301.8,1931.3 L328.0,1930.0 L352.0,1935.3" fill="none" stroke="#000" stroke-width="3" stroke-linejoin="round" stroke-linecap="round"/>
<path d="M382.0,1946.9 L388.3,1948.4 L406.6,1958.8 L427.5,1969.2 L447.4,1979.1 L474.9,1998.3 L502.3,2017.5 L529.7,2025.7 L543.5,2031.2 L554.4,2042.2 L557.2,2066.9 L562.7,2097.1 L565.0,2108.2" fill="none" stroke="#000" stroke-width="3" stroke-linejoin="round" stroke-linecap="round"/>
<path d="M569.0,2141.9 L572.3,2167.1" fill="none" stroke="#000" stroke-width="3" stroke-linejoin="round" stroke-linecap="round"/>
<text x="0" y="0" transform="translate(367.3,1942.7) rotate(25) scale(1.08,1)" dy="8.5" text-anchor="middle" font-size="24.5" fill="#000">7.9</text>
<text x="0" y="0" transform="translate(567.0,2124.5) rotate(90) scale(1.08,1)" dy="8.5" text-anchor="middle" font-size="24.5" fill="#000">7.9</text>
<text x="0" y="0" transform="translate(155.2,1846.2) rotate(0) scale(1.08,1)" dy="8.5" text-anchor="middle" font-size="24.5" fill="#000">7.9</text>
<path d="M136.9,1939.2 L144.7,1948.4 L148.7,1960.1 L157.8,1957.4 L170.9,1953.5 L182.0,1953.7" fill="none" stroke="#000" stroke-width="3" stroke-linejoin="round" stroke-linecap="round"/>
<path d="M210.0,1957.4 L220.7,1958.8 L249.5,1965.3 L275.7,1974.5 L301.8,1970.6 L328.0,1971.9 L367.3,1977.1 L393.5,1990.2 L419.7,2003.3 L436.5,2017.5 L450.2,2031.2 L442.0,2056.0 L438.0,2060.7" fill="none" stroke="#000" stroke-width="3" stroke-linejoin="round" stroke-linecap="round"/>
<path d="M428.0,2080.8 L420.0,2091.6" fill="none" stroke="#000" stroke-width="3" stroke-linejoin="round" stroke-linecap="round"/>
<path d="M416.0,2097.6 L406.6,2113.2" fill="none" stroke="#000" stroke-width="3" stroke-linejoin="round" stroke-linecap="round"/>
<text x="0" y="0" transform="translate(195.8,1956.2) rotate(5) scale(1.08,1)" dy="8.5" text-anchor="middle" font-size="24.5" fill="#000">7.8</text>
<text x="0" y="0" transform="translate(433.7,2069.7) rotate(-65) scale(1.08,1)" dy="8.5" text-anchor="middle" font-size="24.5" fill="#000">7.8</text>
<path d="M142.1,1971.9 L147.4,1983.7 L157.8,1984.9 L197.0,1983.7 L223.3,1984.9 L249.5,1992.8 L275.7,2005.9 L301.8,2007.2 L328.0,2008.5 L354.2,2012.4 L372.0,2019.6" fill="none" stroke="#fff" stroke-width="3" stroke-linejoin="round" stroke-linecap="round"/>
<path d="M376.0,2057.6 L367.3,2066.1 L354.2,2081.8 L341.1,2095.0 L333.3,2113.2" fill="none" stroke="#fff" stroke-width="3" stroke-linejoin="round" stroke-linecap="round"/>
<text x="0" y="0" transform="translate(377.8,2039.6) rotate(-70) scale(1.08,1)" dy="8.5" text-anchor="middle" font-size="24.5" fill="#fff">7.7</text>
<path d="M163.0,2029.5 L172.0,2027.5 L186.6,2028.2 L197.0,2032.3" fill="none" stroke="#fff" stroke-width="3" stroke-linejoin="round" stroke-linecap="round"/>
<path d="M213.0,2055.5 L218.0,2066.1" fill="none" stroke="#fff" stroke-width="3" stroke-linejoin="round" stroke-linecap="round"/>
<path d="M152.6,2034.4 L156.5,2068.7" fill="none" stroke="#fff" stroke-width="3" stroke-linejoin="round" stroke-linecap="round"/>
<text x="0" y="0" transform="translate(207.6,2042.8) rotate(60) scale(1.08,1)" dy="8.5" text-anchor="middle" font-size="24.5" fill="#fff">7.6</text>
<g stroke="#000" stroke-width="1.1"><circle cx="53.5" cy="1835.7" r="5.3" fill="#ffd600"/><circle cx="53.5" cy="1846.2" r="5.3" fill="#ffd600"/><circle cx="63" cy="1835.7" r="5.3" fill="#fde500"/><circle cx="63" cy="1846.2" r="5.3" fill="#fde500"/><circle cx="63" cy="1850.9" r="5.3" fill="#fde500"/><circle cx="68" cy="1835.7" r="5.3" fill="#fde500"/><circle cx="68" cy="1846.2" r="5.3" fill="#fde500"/><circle cx="68" cy="1855.2" r="5.3" fill="#fde500"/><circle cx="68" cy="1877.8" r="5.3" fill="#ffcc00"/><circle cx="68" cy="1900.5" r="5.3" fill="#ffd600"/><circle cx="86.5" cy="1835.7" r="5.3" fill="#ffc100"/><circle cx="86.5" cy="1846.2" r="5.3" fill="#ffc100"/><circle cx="86.5" cy="1855.2" r="5.3" fill="#ffc100"/><circle cx="86.5" cy="1877.8" r="5.3" fill="#ffcc00"/><circle cx="86.5" cy="1914.2" r="5.3" fill="#ffd600"/><circle cx="101" cy="1835.7" r="5.3" fill="#cbed07"/><circle cx="101" cy="1846.2" r="5.3" fill="#cbed07"/><circle cx="101" cy="1855.2" r="5.3" fill="#cbed07"/><circle cx="101" cy="1877.8" r="5.3" fill="#ffcc00"/><circle cx="101" cy="1921.0" r="5.3" fill="#ff7500"/><circle cx="101" cy="1926.8" r="5.3" fill="#ff7500"/><circle cx="109.4" cy="1835.7" r="5.3" fill="#ffc100"/><circle cx="109.4" cy="1846.2" r="5.3" fill="#ffc100"/><circle cx="109.4" cy="1855.2" r="5.3" fill="#ffc100"/><circle cx="109.4" cy="1877.8" r="5.3" fill="#ffcc00"/><circle cx="109.4" cy="1900.9" r="5.3" fill="#ffd600"/><circle cx="118" cy="1835.7" r="5.3" fill="#fde500"/><circle cx="118" cy="1846.2" r="5.3" fill="#fde500"/><circle cx="118" cy="1855.2" r="5.3" fill="#fde500"/><circle cx="118" cy="1877.8" r="5.3" fill="#ffcc00"/><circle cx="123.6" cy="1835.7" r="5.3" fill="#ffc100"/><circle cx="123.6" cy="1846.2" r="5.3" fill="#ffc100"/><circle cx="123.6" cy="1855.2" r="5.3" fill="#ffc100"/><circle cx="123.6" cy="1877.8" r="5.3" fill="#ffcc00"/><circle cx="123.6" cy="1921.6" r="5.3" fill="#ff9100"/><circle cx="123.6" cy="1938.9" r="5.3" fill="#810073"/><circle cx="123.6" cy="1948.5" r="5.3" fill="#810073"/><circle cx="131.3" cy="1835.7" r="5.3" fill="#ff1200"/><circle cx="131.3" cy="1846.2" r="5.3" fill="#ff1200"/><circle cx="131.3" cy="1855.2" r="5.3" fill="#ff1200"/><circle cx="131.3" cy="1877.8" r="5.3" fill="#ff1200"/><circle cx="131.3" cy="1921.6" r="5.3" fill="#600090"/><circle cx="131.3" cy="2053.3" r="5.3" fill="#710081"/><circle cx="131.3" cy="2094.8" r="5.3" fill="#710081"/><circle cx="137.5" cy="1835.7" r="5.3" fill="#10b327"/><circle cx="137.5" cy="1846.2" r="5.3" fill="#ffd600"/><circle cx="137.5" cy="1855.2" r="5.3" fill="#ffd600"/><circle cx="137.5" cy="1877.8" r="5.3" fill="#10b327"/><circle cx="137.5" cy="1921.6" r="5.3" fill="#ff9100"/><circle cx="137.5" cy="2009.6" r="5.3" fill="#920064"/><circle cx="137.5" cy="2109.7" r="5.3" fill="#710081"/><circle cx="161.8" cy="1835.7" r="5.3" fill="#10b327"/><circle cx="161.8" cy="1846.2" r="5.3" fill="#10b327"/><circle cx="161.8" cy="1855.2" r="5.3" fill="#10b327"/><circle cx="161.8" cy="1877.8" r="5.3" fill="#10b327"/><circle cx="161.8" cy="1918.4" r="5.3" fill="#ff4500"/><circle cx="161.8" cy="1921.6" r="5.3" fill="#ff4500"/><circle cx="161.8" cy="2009.6" r="5.3" fill="#920064"/><circle cx="161.8" cy="2097.1" r="5.3" fill="#710081"/><circle cx="161.8" cy="2106.9" r="5.3" fill="#710081"/><circle cx="186" cy="1835.7" r="5.3" fill="#6ad215"/><circle cx="186" cy="1846.2" r="5.3" fill="#6ad215"/><circle cx="186" cy="1855.2" r="5.3" fill="#6ad215"/><circle cx="186" cy="1877.8" r="5.3" fill="#13d587"/><circle cx="186" cy="1921.6" r="5.3" fill="#ff3400"/><circle cx="186" cy="2009.6" r="5.3" fill="#920064"/><circle cx="186" cy="2097.1" r="5.3" fill="#710081"/><circle cx="186" cy="2121.2" r="5.3" fill="#710081"/><circle cx="213" cy="1835.7" r="5.3" fill="#fbf500"/><circle cx="213" cy="1846.2" r="5.3" fill="#fbf500"/><circle cx="213" cy="1855.2" r="5.3" fill="#fbf500"/><circle cx="213" cy="1877.8" r="5.3" fill="#ffc100"/><circle cx="213" cy="1921.6" r="5.3" fill="#ff9100"/><circle cx="213" cy="2009.6" r="5.3" fill="#920064"/><circle cx="213" cy="2098.3" r="5.3" fill="#710081"/><circle cx="213" cy="2115.4" r="5.3" fill="#710081"/><circle cx="222.3" cy="1835.7" r="5.3" fill="#fbf500"/><circle cx="222.3" cy="1846.2" r="5.3" fill="#fbf500"/><circle cx="222.3" cy="1855.2" r="5.3" fill="#fbf500"/><circle cx="222.3" cy="1877.8" r="5.3" fill="#10b327"/><circle cx="222.3" cy="1921.6" r="5.3" fill="#810073"/><circle cx="222.3" cy="2053.3" r="5.3" fill="#710081"/><circle cx="222.3" cy="2086.7" r="5.3" fill="#710081"/><circle cx="235" cy="1835.7" r="5.3" fill="#ff9100"/><circle cx="235" cy="1846.2" r="5.3" fill="#ff9100"/><circle cx="235" cy="1877.8" r="5.3" fill="#ff1200"/><circle cx="235" cy="1921.6" r="5.3" fill="#f0060e"/><circle cx="235" cy="2078.6" r="5.3" fill="#710081"/><circle cx="262.7" cy="1835.7" r="5.3" fill="#1010ff"/><circle cx="262.7" cy="1846.2" r="5.3" fill="#ff7500"/><circle cx="262.7" cy="1854.6" r="5.3" fill="#ff7500"/><circle cx="262.7" cy="1878.1" r="5.3" fill="#ff9100"/><circle cx="262.7" cy="1922.2" r="5.3" fill="#ff1200"/><circle cx="262.7" cy="2009.2" r="5.3" fill="#920064"/><circle cx="262.7" cy="2054.1" r="5.3" fill="#710081"/><circle cx="262.7" cy="2112.0" r="5.3" fill="#710081"/><circle cx="315" cy="1835.7" r="5.3" fill="#ff7500"/><circle cx="315" cy="1846.2" r="5.3" fill="#ff7500"/><circle cx="315" cy="1854.6" r="5.3" fill="#ff7500"/><circle cx="315" cy="1878.1" r="5.3" fill="#ff1200"/><circle cx="315" cy="1922.2" r="5.3" fill="#810073"/><circle cx="315" cy="1966.4" r="5.3" fill="#ff4500"/><circle cx="315" cy="2009.2" r="5.3" fill="#920064"/><circle cx="315" cy="2098.3" r="5.3" fill="#c30039"/><circle cx="315" cy="2121.7" r="5.3" fill="#c30039"/><circle cx="349" cy="1835.7" r="5.3" fill="#1010ff"/><circle cx="349" cy="1846.2" r="5.3" fill="#09f6e4"/><circle cx="349" cy="1854.6" r="5.3" fill="#09f6e4"/><circle cx="349" cy="1878.1" r="5.3" fill="#ff7500"/><circle cx="349" cy="1922.2" r="5.3" fill="#f0060e"/><circle cx="349" cy="2009.2" r="5.3" fill="#920064"/><circle cx="349" cy="2013.3" r="5.3" fill="#920064"/><circle cx="349" cy="2097.1" r="5.3" fill="#c30039"/><circle cx="349" cy="2116.6" r="5.3" fill="#c30039"/><circle cx="389.5" cy="1835.7" r="5.3" fill="#ff7500"/><circle cx="389.5" cy="1846.2" r="5.3" fill="#ff7500"/><circle cx="389.5" cy="1854.6" r="5.3" fill="#ff7500"/><circle cx="389.5" cy="1878.1" r="5.3" fill="#2fbc1c"/><circle cx="389.5" cy="1921.6" r="5.3" fill="#ff9100"/><circle cx="389.5" cy="2009.2" r="5.3" fill="#ff1200"/><circle cx="389.5" cy="2097.6" r="5.3" fill="#c30039"/><circle cx="389.5" cy="2148.2" r="5.3" fill="#c30039"/><circle cx="434" cy="1835.7" r="5.3" fill="#ff9100"/><circle cx="434" cy="1846.2" r="5.3" fill="#ff9100"/><circle cx="434" cy="1854.6" r="5.3" fill="#ff9100"/><circle cx="434" cy="1878.1" r="5.3" fill="#ff9100"/><circle cx="434" cy="1921.6" r="5.3" fill="#ff9100"/><circle cx="434" cy="1971.6" r="5.3" fill="#ff4500"/><circle cx="434" cy="2009.3" r="5.3" fill="#ff1200"/><circle cx="434" cy="2097.6" r="5.3" fill="#c30039"/><circle cx="434" cy="2158.2" r="5.3" fill="#c30039"/><circle cx="434" cy="2164.0" r="5.3" fill="#c30039"/><circle cx="474.9" cy="1838.6" r="5.3" fill="#09f6e4"/><circle cx="474.9" cy="1845.9" r="5.3" fill="#09f6e4"/><circle cx="474.9" cy="1854.5" r="5.3" fill="#09f6e4"/><circle cx="474.9" cy="1877.7" r="5.3" fill="#56cb17"/><circle cx="474.9" cy="1922.1" r="5.3" fill="#ff2300"/><circle cx="474.9" cy="2009.3" r="5.3" fill="#ff1200"/><circle cx="474.9" cy="2097.5" r="5.3" fill="#ff5600"/><circle cx="474.9" cy="2169.8" r="5.3" fill="#ff5600"/><circle cx="474.9" cy="2173.5" r="5.3" fill="#ff5600"/><circle cx="514.6" cy="1838.6" r="5.3" fill="#15ebc2"/><circle cx="514.6" cy="1845.9" r="5.3" fill="#15ebc2"/><circle cx="514.6" cy="1854.5" r="5.3" fill="#15ebc2"/><circle cx="514.6" cy="1877.7" r="5.3" fill="#56cb17"/><circle cx="514.6" cy="1921.0" r="5.3" fill="#ff1200"/><circle cx="514.6" cy="2009.3" r="5.3" fill="#ff1200"/><circle cx="514.6" cy="2097.5" r="5.3" fill="#ff5600"/><circle cx="514.6" cy="2164.0" r="5.3" fill="#ff5600"/><circle cx="514.6" cy="2171.4" r="5.3" fill="#ff5600"/><circle cx="568.1" cy="1838.6" r="5.3" fill="#09f6e4"/><circle cx="568.1" cy="1845.9" r="5.3" fill="#09f6e4"/><circle cx="568.1" cy="1854.5" r="5.3" fill="#09f6e4"/><circle cx="568.1" cy="1877.7" r="5.3" fill="#2fbc1c"/><circle cx="568.1" cy="1921.0" r="5.3" fill="#ff9100"/><circle cx="568.1" cy="2009.3" r="5.3" fill="#ff1200"/><circle cx="568.1" cy="2097.5" r="5.3" fill="#ff5600"/><circle cx="568.1" cy="2181.4" r="5.3" fill="#ff5600"/><circle cx="568.1" cy="2185.7" r="5.3" fill="#ff5600"/><circle cx="599.7" cy="1838.6" r="5.3" fill="#aae40b"/><circle cx="599.7" cy="1845.9" r="5.3" fill="#aae40b"/><circle cx="599.7" cy="1854.5" r="5.3" fill="#aae40b"/><circle cx="599.7" cy="1877.7" r="5.3" fill="#fde500"/><circle cx="599.7" cy="1921.0" r="5.3" fill="#ff5600"/><circle cx="599.7" cy="2097.5" r="5.3" fill="#ff5600"/><circle cx="599.7" cy="2185.7" r="5.3" fill="#ff5600"/><circle cx="599.7" cy="2217.5" r="5.3" fill="#ff5600"/><circle cx="668.3" cy="1838.6" r="5.3" fill="#15ebc2"/><circle cx="668.3" cy="1845.9" r="5.3" fill="#15ebc2"/><circle cx="668.3" cy="1854.5" r="5.3" fill="#15ebc2"/><circle cx="668.3" cy="1877.7" r="5.3" fill="#43c31a"/><circle cx="668.3" cy="1921.0" r="5.3" fill="#ffac00"/><circle cx="668.3" cy="2009.3" r="5.3" fill="#ff1200"/><circle cx="668.3" cy="2097.5" r="5.3" fill="#ff5600"/><circle cx="668.3" cy="2185.7" r="5.3" fill="#ff5600"/><circle cx="688.9" cy="1838.6" r="5.3" fill="#15dd9b"/><circle cx="688.9" cy="1845.9" r="5.3" fill="#15dd9b"/><circle cx="688.9" cy="1854.5" r="5.3" fill="#15dd9b"/><circle cx="688.9" cy="1877.7" r="5.3" fill="#43c31a"/><circle cx="688.9" cy="1921.0" r="5.3" fill="#fde500"/><circle cx="688.9" cy="2009.3" r="5.3" fill="#ff1200"/><circle cx="688.9" cy="2097.5" r="5.3" fill="#ff5600"/><circle cx="688.9" cy="2185.7" r="5.3" fill="#ff5600"/><circle cx="688.9" cy="2239.2" r="5.3" fill="#ff5600"/><circle cx="688.9" cy="2242.0" r="5.3" fill="#ff5600"/><circle cx="688.9" cy="1941.1" r="5.3" fill="#ffd600"/><circle cx="688.9" cy="1965.7" r="5.3" fill="#fede00"/><circle cx="688.9" cy="2051.5" r="5.3" fill="#ffc100"/><circle cx="688.9" cy="2139.1" r="5.3" fill="#ffc100"/><circle cx="688.9" cy="2209.2" r="5.3" fill="#ffc100"/><circle cx="688.9" cy="2226.7" r="5.3" fill="#ffb700"/><circle cx="688.9" cy="2233.7" r="5.3" fill="#ffc100"/><circle cx="161.8" cy="1941.1" r="5.3" fill="#600090"/><circle cx="195.3" cy="1941.1" r="5.3" fill="#f0060e"/><circle cx="123.6" cy="1936.7" r="5.3" fill="#ff5600"/><circle cx="123.6" cy="1947.3" r="5.3" fill="#810073"/><circle cx="131.3" cy="1964.8" r="5.3" fill="#600090"/><circle cx="137.5" cy="1964.8" r="5.3" fill="#600090"/><circle cx="161.8" cy="1964.8" r="5.3" fill="#600090"/><circle cx="195.3" cy="1964.8" r="5.3" fill="#f0060e"/><circle cx="206.5" cy="1963.0" r="5.3" fill="#ff7500"/><circle cx="213" cy="1973.5" r="5.3" fill="#f0060e"/><circle cx="222.3" cy="1964.8" r="5.3" fill="#600090"/><circle cx="262.7" cy="1964.8" r="5.3" fill="#600090"/><circle cx="259" cy="1972.7" r="5.3" fill="#ff3400"/><circle cx="161.8" cy="1986.7" r="5.3" fill="#600090"/><circle cx="137.5" cy="1970.0" r="5.3" fill="#ff7500"/></g>
<g stroke="#000" stroke-width="1.6" fill="none">
<path d="M43.5,1832.5 V2292.4 H857.5"/>
<path d="M43.5,2292.4 v-8"/>
<path d="M168.7,2292.4 v-8"/>
<path d="M293.9,2292.4 v-8"/>
<path d="M419.1,2292.4 v-8"/>
<path d="M544.3,2292.4 v-8"/>
<path d="M669.5,2292.4 v-8"/>
<path d="M794.7,2292.4 v-8"/>
</g>
<rect x="222" y="2254.6" width="60" height="36.8" fill="#fff"/>
<rect x="362" y="2254.6" width="126" height="36.8" fill="#fff"/>
<rect x="653" y="2254.6" width="82" height="36.8" fill="#fff"/>
<path d="M43.5,2292.4 H857.5 V2197.3" stroke="#000" stroke-width="1.6" fill="none"/>
<path d="M857.5,2270.5 h-8" stroke="#000" stroke-width="1.6"/>
<g font-family="'Liberation Sans', Arial, Helvetica, sans-serif" font-size="28.5" fill="#000">
<text transform="translate(43.5,2326.2) scale(0.91,1)" font-size="32.5" text-anchor="middle">0</text>
<text transform="translate(168.7,2326.2) scale(0.91,1)" font-size="32.5" text-anchor="middle">200</text>
<text transform="translate(293.9,2326.2) scale(0.91,1)" font-size="32.5" text-anchor="middle">400</text>
<text transform="translate(419.1,2326.2) scale(0.91,1)" font-size="32.5" text-anchor="middle">600</text>
<text transform="translate(544.3,2326.2) scale(0.91,1)" font-size="32.5" text-anchor="middle">800</text>
<text transform="translate(669.5,2326.2) scale(0.91,1)" font-size="32.5" text-anchor="middle">1000</text>
<text transform="translate(794.7,2326.2) scale(0.91,1)" font-size="32.5" text-anchor="middle">1200</text>
<path d="M43.5,1920.1 h7.5" stroke="#000" stroke-width="1.4"/>
<text transform="translate(51.8,1931.1) scale(0.91,1)" font-size="32.5">100</text>
<path d="M43.5,2007.7 h7.5" stroke="#000" stroke-width="1.4"/>
<text transform="translate(51.8,2018.7) scale(0.91,1)" font-size="32.5">200</text>
<path d="M43.5,2095.3 h7.5" stroke="#000" stroke-width="1.4"/>
<text transform="translate(51.8,2106.3) scale(0.91,1)" font-size="32.5">300</text>
<path d="M43.5,2182.9 h7.5" stroke="#000" stroke-width="1.4"/>
<text transform="translate(51.8,2193.9) scale(0.91,1)" font-size="32.5">400</text>
<path d="M43.5,2270.5 h7.5" stroke="#000" stroke-width="1.4"/>
<text transform="translate(51.8,2281.5) scale(0.91,1)" font-size="32.5">500</text>
</g>
<path d="M255.3,1832.5 V2253.9" stroke="#000" stroke-width="3"/>
<path d="M428.5,1832.5 V2253.9" stroke="#000" stroke-width="3"/>
<path d="M694.3,1832.5 V2253.9" stroke="#000" stroke-width="3"/>
<g font-family="'Liberation Sans', Arial, Helvetica, sans-serif" font-size="25" fill="#000" text-anchor="middle">
<text transform="translate(252.1,2282.8) scale(0.92,1)" font-size="27.3" text-anchor="middle">PdM</text>
<text transform="translate(425.3,2282.8) scale(0.92,1)" font-size="27.3" text-anchor="middle">Honguedo</text>
<text transform="translate(691.1,2282.8) scale(0.92,1)" font-size="27.3" text-anchor="middle">Cabot</text>
</g>
<text transform="translate(22.0,2062.4) rotate(-90)" font-size="29" text-anchor="middle">Deptht (m)</text>
<text transform="translate(452.0,1806.9) scale(0.955,1)" font-size="41.5" text-anchor="middle">2016 mean pH</text>
<text transform="translate(6.0,1811.4) scale(1.1,1)" font-size="33.5" font-weight="bold">D</text>
<rect x="886.4" y="1832.5" width="38.3" height="459.9" fill="url(#cbD)"/>
<path d="M886.4,2215.7 H924.7" stroke="#fff" stroke-width="3"/>
<path d="M886.4,1909.1 H924.7" stroke="#fff" stroke-width="3"/>
<path d="M886.4,2139.1 H924.7" stroke="#000" stroke-width="3"/>
<path d="M886.4,2062.4 H924.7" stroke="#000" stroke-width="3"/>
<path d="M886.4,1985.8 H924.7" stroke="#000" stroke-width="3"/>
<rect x="886.4" y="1832.5" width="38.3" height="459.9" fill="none" stroke="#000" stroke-width="1.3"/>
<g font-family="'Liberation Sans', Arial, Helvetica, sans-serif" font-size="28.5" fill="#000">
<path d="M886.4,2292.4 h4 M924.7,2292.4 h-4" stroke="#000" stroke-width="1.2"/>
<text transform="translate(931.0,2304.7) scale(0.91,1)" font-size="32.5">7.6</text>
<path d="M886.4,2215.7 h4 M924.7,2215.7 h-4" stroke="#000" stroke-width="1.2"/>
<text transform="translate(931.0,2228.0) scale(0.91,1)" font-size="32.5">7.7</text>
<path d="M886.4,2139.1 h4 M924.7,2139.1 h-4" stroke="#000" stroke-width="1.2"/>
<text transform="translate(931.0,2151.4) scale(0.91,1)" font-size="32.5">7.8</text>
<path d="M886.4,2062.4 h4 M924.7,2062.4 h-4" stroke="#000" stroke-width="1.2"/>
<text transform="translate(931.0,2074.7) scale(0.91,1)" font-size="32.5">7.9</text>
<path d="M886.4,1985.8 h4 M924.7,1985.8 h-4" stroke="#000" stroke-width="1.2"/>
<text transform="translate(931.0,1998.1) scale(0.91,1)" font-size="32.5">8</text>
<path d="M886.4,1909.1 h4 M924.7,1909.1 h-4" stroke="#000" stroke-width="1.2"/>
<text transform="translate(931.0,1921.4) scale(0.91,1)" font-size="32.5">8.1</text>
</g>
<path d="M1153,417 1153,484 1155,450 1155,502 1156,450 1156,500 1157,400 1154,511 1157,458 1154,504 1154,479 1156,520 1159,397 1162,427 1163,411 1153,424 1154,469 1155,409 1159,493 1156,455 1155,419 1160,493 1155,420 1155,451 1155,456 1158,400 1155,396 1154,416 1155,453 1155,502 1154,431 1154,513 1162,421 1153,423 1157,425 1157,461 1158,481 1155,444 1162,497 1158,424 1155,512 1158,501 1156,502 1154,486 1158,522 1154,522 1156,445 1153,420 1157,470 1156,421 1157,491 1154,410 1157,472 1154,500 1155,491 1157,470 1154,514 1156,463 1155,497 1158,505 1156,485 1155,454 1155,420 1159,489 1156,456 1155,449 1154,475 1154,432 1159,435 1154,471 1156,428 1154,461 1153,478 1154,404 1156,403 1158,519 1155,472 1155,499 1158,429 1160,414 1156,422 1155,517 1154,418 1155,493 1154,508 1153,457 1154,482 1157,517 1155,496 1154,449 1160,486 1162,413 1157,452 1156,438 1157,423 1156,503 1158,422 1154,502 1154,438 1153,411 1157,438 1159,520 1154,482 1153,420 1157,515 1157,509 1155,500 1154,402 1154,510 1156,459 1156,494 1154,427 1156,492 1158,395 1162,407 1154,452 1158,502 1155,429 1153,498 1154,422 1154,507 1158,489 1154,494 1164,475 1155,450 1158,439 1159,509 1160,519 1161,475 1158,471 1155,508 1157,491 1155,501 1158,429 1157,449 1154,441 1155,456 1158,430 1162,407 1154,434 1156,391 1163,350 1155,366 1162,384 1154,331 1158,392 1165,306 1158,357 1160,360 1160,362 1155,318 1160,349 1160,303 1162,330 1162,334 1154,320 1164,291 1155,376 1163,312 1158,301 1154,348 1159,350 1159,322 1157,311 1154,310 1182,485 1155,502 1156,486 1170,463 1180,461 1171,446 1164,441 1164,486 1180,466 1155,500 1158,468 1154,482 1181,481 1172,489 1158,493 1162,488 1160,478 1155,486 1173,495 1163,486 1178,493 1183,447 1175,461 1168,492 1170,442 1188,486 1155,447 1160,477 1210,462 1157,521 1178,473 1192,456 1155,483 1189,440 1177,485 1157,457 1162,493 1156,511 1159,497 1161,491 1184,474 1154,504 1189,439 1158,467 1158,523 1154,489 1154,490 1167,497 1177,442 1170,508 1177,454 1207,404 1171,480 1160,492 1170,485 1164,507 1154,507 1181,462 1164,477 1154,522 1163,523 1165,489 1182,473 1164,469 1153,507 1158,509 1169,444 1182,449 1191,498 1200,441 1167,479 1185,455 1172,445 1159,483 1207,394 1157,492 1164,517 1173,441 1158,500 1157,466 1155,497 1183,444 1162,465 1177,440 1156,500 1180,468 1174,462 1153,486 1157,481 1160,491 1171,492 1170,523 1161,462 1156,505 1166,453 1157,501 1160,469 1165,500 1173,462 1178,444 1162,464 1156,500 1156,493 1180,403 1189,464 1174,474 1177,449 1180,460 1163,507 1168,510 1159,501 1160,485 1177,484 1167,516 1169,474 1156,460 1162,512 1179,455 1167,507 1171,454 1186,454 1165,484 1181,478 1185,433 1172,462 1197,437 1180,523 1157,492 1175,492 1165,450 1164,475 1170,455 1172,489 1165,489 1185,462 1167,490 1170,450 1160,480 1190,470 1168,464 1180,488 1187,469 1166,484 1167,482 1162,495 1166,518 1166,459 1165,447 1196,483 1160,470 1181,421 1176,481 1160,483 1172,433 1168,509 1169,456 1163,486 1232,399 1157,443 1160,497 1157,523 1188,463 1165,523 1167,483 1188,494 1156,471 1164,492 1178,448 1183,471 1156,465 1155,498 1196,448 1168,480 1156,500 1192,437 1165,462 1191,450 1181,463 1155,481 1158,490 1182,420 1183,454 1158,457 1171,471 1166,479 1172,476 1162,495 1163,475 1168,460 1183,424 1159,508 1170,444 1172,453 1166,463 1170,465 1173,429 1178,466 1183,439 1191,435 1156,518 1155,476 1182,445 1197,466 1191,411 1158,506 1172,469 1174,464 1165,472 1159,463 1170,489 1166,518 1165,484 1177,498 1162,508 1165,498 1154,518 1158,471 1168,456 1167,513 1164,488 1161,516 1156,474 1155,484 1171,491 1165,476 1163,476 1171,455 1156,482 1174,485 1166,477 1183,461 1194,477 1172,458 1155,491 1155,494 1156,485 1176,463 1182,470 1162,488 1163,497 1184,434 1245,462 1239,400 1177,485 1162,414 1278,320 1205,431 1281,354 1339,333 1366,323 1342,284 1385,309 1322,419 1181,494 1355,326 1222,415 1315,404 1274,375 1330,325 1173,444 1329,355 1180,455 1315,376 1217,473 1308,430 1178,419 1365,339 1265,407 1345,313 1208,377 1256,349 1261,417 1355,324 1341,360 1367,281 1255,393 1349,356 1352,352 1222,399 1192,426 1338,416 1305,381 1219,415 1338,313 1233,417 1226,454 1199,399 1197,407 1242,470 1338,406 1261,431 1320,398 1277,340 1357,339 1270,384 1204,413 1350,356 1229,458 1331,326 1366,304 1343,303 1327,402 1358,351 1295,393 1165,450 1319,378 1230,405 1265,379 1190,485 1347,377 1363,388 1252,422 1317,364 1301,378 1254,412 1259,417 1344,351 1171,482 1256,435 1349,340 1221,386 1298,439 1182,469 1303,389 1379,348 1352,334 1273,464 1367,307 1380,282 1287,367 1208,456 1322,344 1173,446 1288,419 1323,321 1194,454 1276,458 1204,462 1285,286 1166,429 1283,379 1251,385 1218,435 1273,366 1376,332 1171,438 1367,328 1260,429 1326,409 1205,398 1298,414 1293,393 1198,442 1269,357 1204,415 1315,421 1220,399 1189,487 1169,418 1333,410 1342,311 1331,286 1288,421 1174,497 1165,488 1232,401 1370,390 1331,341 1172,404 1356,377 1172,361 1328,305 1345,311 1276,422 1243,428 1194,463 1303,368 1272,422 1375,310 1374,302 1179,460 1198,422 1194,474 1376,329 1254,362 1192,495 1283,344 1354,333 1258,406 1305,406 1344,340 1353,364 1327,383 1298,391 1288,453 1247,369 1375,413 1229,419 1314,350 1378,334 1283,351 1255,446 1293,399 1381,326 1195,438 1334,336 1256,443 1214,353 1346,324 1242,423 1204,427 1260,342 1231,480 1233,427 1337,330 1365,338 1236,405 1348,300 1171,394 1245,396 1199,447 1367,326 1258,434 1278,397 1218,361 1322,398 1288,392 1242,434 1359,339 1247,447 1192,353 1202,441 1341,340 1283,355 1203,446 1162,445 1244,402 1258,431 1249,440 1172,463 1235,372 1263,412 1227,431 1299,405 1273,358 1237,402 1163,490 1185,444 1315,410 1319,384 1358,380 1361,311 1221,473 1242,405 1287,373 1225,422 1223,489 1261,406 1208,391 1177,458 1228,410 1235,455 1333,281 1220,395 1164,489 1266,377 1377,321 1280,353 1236,425 1213,434 1294,321 1354,428 1363,335 1178,464 1240,432 1190,463 1181,469 1326,400 1365,411 1321,355 1264,433 1284,427 1269,376 1277,376 1334,357 1355,345 1214,417 1273,362 1187,449 1317,392 1385,335 1175,446 1338,285 1290,376 1345,314 1186,439 1323,378 1165,443 1285,419 1349,347 1311,368 1222,433 1191,462 1232,452 1189,453 1186,461 1283,383 1168,496 1170,465 1166,516 1201,472 1289,352 1344,334 1221,412 1337,334 1335,347 1356,360 1236,383 1204,476 1290,324 1351,405 1286,417 1209,473 1212,433 1232,337 1378,384 1283,399 1228,390 1377,292 1278,448 1270,408 1374,397 1297,429 1284,374 1351,390 1219,370 1205,450 1315,378 1191,432 1258,381 1283,402 1260,379 1229,373 1171,422 1172,513 1263,429 1231,373 1318,292 1306,355 1251,386 1231,482 1181,480 1356,380 1195,410 1218,456 1270,422 1281,410 1225,416 1343,352 1317,390 1359,423 1293,450 1266,445 1310,348 1384,313 1362,318 1315,392 1175,412 1195,374 1192,430 1245,445 1177,404 1163,442 1240,375 1178,463 1324,339 1321,298 1185,443 1251,421 1185,448 1328,392 1379,399 1361,364 1309,324 1212,431 1337,375 1235,349 1229,474 1266,424 1348,353 1360,394 1232,355 1191,412 1233,470 1342,376 1280,433 1374,356 1260,412 1229,386 1251,423 1333,362 1314,390 1371,368 1371,356 1176,483 1286,390 1251,401 1265,414 1226,370 1307,332 1240,460 1174,467 1235,405 1352,348 1337,363 1359,341 1176,454 1290,314 1260,391 1368,300 1315,354 1351,406 1226,419 1280,451 1204,429 1190,489 1377,360 1206,439 1218,369 1169,493 1318,392 1328,330 1227,450 1348,359 1329,381 1372,282 1289,394 1266,427 1280,401 1214,481 1383,353 1350,351 1243,408 1332,367 1314,377 1274,409 1274,404 1299,368 1243,389 1249,416 1309,363 1181,438 1351,348 1224,447 1310,364 1203,436 1335,361 1198,381 1303,406 1200,492 1266,404 1236,388 1365,329 1337,325 1179,441 1369,406 1385,313 1317,345 1274,447 1379,298 1274,443 1170,451 1346,364 1318,426 1343,403 1215,414 1286,420 1205,480 1224,390 1291,379 1240,437 1267,436 1206,466 1211,442 1257,439 1212,471 1289,397 1188,476 1356,377 1271,359 1276,406 1318,352 1314,333 1352,369 1274,375 1228,428 1334,406 1360,324 1209,431 1300,380 1373,336 1257,363 1272,364 1292,460 1267,368 1229,449 1268,417 1328,390 1245,361 1360,325 1365,332 1380,337 1363,341 1312,379 1205,415 1174,477 1293,404 1253,455 1176,458 1291,393 1183,502 1216,419 1331,368 1249,336 1315,406 1182,444 1298,343 1252,398 1227,427 1359,303 1339,378 1303,333 1323,379 1193,457 1338,364 1173,409 1292,391 1164,453 1168,469 1275,425 1319,327 1180,454 1310,299 1199,480 1196,454 1252,467 1359,358 1223,393 1307,382 1250,469 1328,348 1176,422 1232,419 1261,376 1212,447 1258,428 1279,361 1186,449 1330,419 1260,378 1357,292 1361,350 1227,447 1316,343 1248,406 1340,329 1304,375 1162,488 1266,345 1328,365 1196,384 1302,378 1224,442 1235,411 1253,421 1177,404 1283,449 1225,410 1267,387 1362,363 1182,441 1282,370 1231,438 1229,423 1162,425 1286,352 1265,340 1183,443 1318,437 1183,410 1240,332 1299,360 1237,378 1241,350 1189,485 1345,349 1175,450 1314,385 1356,414 1266,434 1260,448 1191,494 1239,432 1325,333 1246,445 1275,400 1346,388 1309,393 1176,507 1306,341 1350,395 1374,322 1180,447 1218,405 1307,453 1313,329 1317,309 1167,505 1256,446 1364,395 1203,439 1171,482 1169,451 1250,450 1353,393 1224,442 1173,377 1295,344 1187,402 1349,377 1303,295 1334,346 1309,323 1251,457 1350,369 1385,313 1184,494 1303,355 1191,453 1204,402 1206,415 1360,287 1281,444 1262,426 1288,424 1175,505 1210,452 1384,301 1320,387 1369,311 1221,481 1224,464 1369,342 1354,389 1171,463 1256,405 1320,409 1198,413 1207,453 1321,345 1336,388 1240,351 1348,368 1334,406 1338,345 1238,339 1175,338 1310,383 1171,394 1316,368 1350,301 1344,370 1243,462 1230,395 1308,347 1361,375 1333,364 1232,409 1295,406 1315,385 1233,438 1321,358 1217,409 1236,343 1342,315 1306,363 1319,395 1283,388 1359,358 1310,339 1240,443 1198,477 1268,387 1258,402 1238,416 1239,432 1296,434 1291,412 1378,329 1178,411 1187,481 1282,398 1369,301 1213,409 1222,401 1334,370 1349,383 1214,413 1291,380 1335,367 1249,436 1345,400 1195,495 1341,354 1269,393 1306,409 1202,475 1288,392 1220,431 1247,426 1289,436 1341,298 1377,341 1306,371 1194,360 1316,311 1209,469 1374,333 1215,408 1268,367 1348,279 1238,421 1207,418 1222,453 1175,403 1287,381 1303,408 1220,395 1243,445 1368,380 1203,444 1186,455 1356,342 1363,322 1240,456 1226,407 1231,401 1274,381 1273,356 1331,404 1283,392 1215,373 1352,356 1336,337 1208,449 1247,356 1250,347 1384,372 1287,428 1253,376 1378,342 1338,289 1224,418 1340,417 1277,369 1376,303 1365,368 1167,412 1323,403 1222,449 1180,452 1256,369 1196,448 1201,448 1225,397 1267,441 1331,301 1307,365 1294,394 1221,417 1360,350 1275,370 1232,403 1315,377 1299,347 1308,376 1169,469 1215,441 1281,444 1253,380 1343,406 1299,400 1274,403 1195,447 1231,421 1317,348 1260,377 1201,395 1228,408 1274,343 1164,471 1220,455 1184,493 1217,460 1385,349 1341,346 1276,449 1267,391 1258,342 1285,374 1321,330 1238,405 1279,406 1326,395 1317,304 1301,349 1221,421 1290,396 1353,365 1204,420 1306,334 1351,355 1314,373 1270,404 1307,393 1279,424 1367,370 1274,349 1328,341 1318,415 1353,348 1319,392 1318,334 1373,389 1250,411 1329,431 1210,427 1232,387 1349,289 1241,473 1305,340 1258,363 1182,468 1244,430 1302,364 1285,416 1223,470 1316,422 1173,452 1177,484 1209,376 1207,385 1376,369 1170,478 1223,467 1257,395 1370,382 1372,356 1191,461 1282,317 1229,378 1248,323 1171,313 1251,353 1215,320 1218,347 1212,292 1213,362 1215,309 1166,298 1205,358 1180,371 1242,302 1199,286 1180,378 1240,307 1176,348 1166,326 1211,319 1242,299 1192,339 1173,324 1196,313 1188,345 1223,364 1181,326 1224,367 1199,336 1198,372 1226,313 1182,328 1240,309 1159,349 1180,297 1227,308 1159,309 1172,361 1204,322 1183,298 1230,288 1172,334 1194,341 1168,294 1170,373 1160,305 1321,335 1357,369 1352,338 1379,329 1322,294 1321,349 1341,321 1297,303 1353,337 1359,384 1357,355 1339,362 1373,342 1337,362 1354,335 1349,309 1304,305 1338,386 1302,324 1318,339 1360,306 1320,362 1349,334 1336,326 1326,337 1358,367 1353,333 1308,353 1331,371 1368,355 1321,335 1368,299 1305,327 1349,321 1332,383 1300,370 1304,326 1342,334 1357,345 1318,335 1338,365 1352,358 1330,319 1301,376 1357,318 1327,297 1310,349 1339,357 1334,328 1361,371 1361,348 1294,349 1312,365 1358,365 1314,372 1363,314 1369,366 1319,361 1342,351 1354,305 1392,339 1330,353 1366,354 1367,301 1311,378 1361,358 1331,344 1318,383 1374,329 1321,363 1364,301 1373,346 1321,354 1352,319 1369,383 1324,328 1298,373 1357,320 1296,310 1305,352 1332,391 1315,324 1348,365 1348,376 1339,316 1341,332 1332,287 1349,309 1323,340 1320,360 1415,303 1495,305 1389,363 1384,390 1473,300 1437,281 1415,296 1422,327 1398,339 1436,360 1486,329 1481,315 1448,250 1465,333 1441,261 1483,246 1468,259 1481,295 1398,316 1403,325 1405,313 1483,338 1421,294 1401,297 1470,240 1444,326 1445,332 1477,369 1431,361 1397,329 1387,312 1398,371 1383,289 1446,297 1488,280 1448,348 1380,311 1449,262 1459,260 1425,335 1395,335 1477,260 1453,297 1435,325 1456,289 1383,281 1456,351 1383,374 1443,326 1497,254 1441,321 1485,335 1397,398 1398,321 1395,385 1483,282 1455,296 1478,248 1397,343 1450,265 1464,268 1481,247 1457,242 1441,374 1411,344 1487,233 1411,313 1406,358 1384,399 1428,262 1452,267 1441,286 1379,352 1390,251 1472,312 1399,352 1458,336 1475,306 1443,268 1431,329 1478,315 1472,220 1457,371 1399,382 1493,252 1378,369 1498,227 1495,319 1396,344 1398,286 1399,293 1427,355 1427,335 1426,381 1390,349 1399,293 1448,246 1384,351 1394,216 1423,364 1432,318 1487,216 1448,305 1481,293 1444,266 1466,283 1402,305 1455,358 1485,251 1394,351 1461,297 1427,350 1480,277 1491,264 1379,335 1432,302 1461,292 1438,285 1403,368 1410,342 1504,167 1473,220 1489,204 1460,183 1507,193 1468,210 1495,216 1514,121 1470,249 1497,204 1462,241 1510,187 1495,234 1498,210 1460,215 1479,212 1491,173 1472,232 1500,194 1490,167 1470,228 1507,180 1494,175 1472,227 1477,238 1495,191 1494,189 1482,232 1495,211 1461,206 1471,166 1463,237 1496,139 1498,174 1498,206 1493,207 1477,233 1486,171 1482,169 1466,243 1503,204 1465,202 1474,213 1500,226 1506,194 1463,230 1501,184 1471,208 1509,176 1463,189 1513,132 1520,128 1536,91 1535,123 1518,126 1531,163 1524,129 1504,71 1507,120 1547,127 1539,71 1526,139 1538,114 1518,115 1517,105 1533,71 1507,171 1521,133 1537,111 1502,141 1539,169 1528,150 1522,112 1549,115 1519,135 1529,118 1518,119 1530,128 1513,122 1523,136 1519,133 1519,113 1534,146 1542,116 1530,130 1537,149 1527,161 1540,114 1537,152 1528,154 1509,94 1543,83 1534,144 1510,146 1534,118 1530,139 1508,102 1525,129 1520,112 1515,116 1512,93 1509,120 1530,101 1510,118 1507,107 1521,109 1522,97 1539,151 1533,60 1541,141 1501,131 1519,152 1542,111 1534,141 1538,128 1506,105 1519,117 1523,129 1541,98 1521,125 1525,120 1542,155 1537,108 1527,87 1511,127 1538,143 1508,142 1529,82 1543,133 1536,131 1520,94 1541,108 1541,100 1529,123 1526,118 1520,105 1534,120 1516,142 1522,143 1523,156 1528,141 1522,122 1521,97 1541,167 1526,141 1509,102 1551,151 1519,107 1526,150 1534,142 1534,101 1507,136 1502,81 1535,101 1529,107 1545,159 1543,127 1530,119 1529,62 1512,74 1524,117 1531,158 1513,139 1524,136 1520,103 1540,95 1520,127 1530,128 1521,111 1528,137 1549,100 1513,94 1521,170 1514,89 1503,132 1526,110 1508,166 1521,94 1522,127 1510,153 1526,118 1520,102 1520,132 1553,101 1514,132 1528,131 1517,165 1517,109 1534,127 1517,144 1509,125 1510,142 1527,81 1518,117 1538,85 1550,140 1535,180 1543,124 1526,131 1533,118 1505,167 1499,118 1533,85 1522,132 1519,87 1507,132 1503,127 1513,141 1540,160 1510,162 1504,134 1518,104 1515,171 1542,158 1510,167 1534,121 1524,101 1503,118 1540,141 1539,110 1504,92 1535,48 1525,90 1485,102 1514,82 1535,70 1536,71 1520,88 1524,68 1520,71 1497,62 1523,75 1500,47 1492,60 1532,53 1476,66 1502,63 1512,60 1509,74 1508,55 1522,76 1536,44 1512,81 1528,63 1518,64 1508,57 1510,102 1515,59 1518,61 1512,85 1524,57 1501,59 1516,93 1524,82 1515,106 1534,74 1521,74 1497,68 1495,64 1529,73 1277,73 1362,60 1286,211 1381,224 1538,386 1538,250 1321,494 1338,494 1338,478 1305,473 1371,447 1434,157 1447,157 1439,141 1493,295 1482,359 1554,173 1195,507 1236,497 1222,494 1209,494 1402,402 1418,399 1431,402 1456,399 1553,75 1557,77" fill="none" stroke="none" marker-start="url(#ast)" marker-mid="url(#ast)" marker-end="url(#ast)"/>
<path d="M1153.0,522.6 L1634.4,41.2" stroke="#000" stroke-width="1.4"/>
<rect x="1153.0" y="41.2" width="481.4" height="481.4" fill="none" stroke="#000" stroke-width="1.6"/>
<g stroke="#000" stroke-width="1.3">
<path d="M1153.0,522.6 v-6 M1153.0,41.2 v6"/>
<path d="M1313.5,522.6 v-6 M1313.5,41.2 v6"/>
<path d="M1473.9,522.6 v-6 M1473.9,41.2 v6"/>
<path d="M1634.4,522.6 v-6 M1634.4,41.2 v6"/>
<path d="M1153.0,522.6 h6 M1634.4,522.6 h-6"/>
<path d="M1153.0,442.4 h6 M1634.4,442.4 h-6"/>
<path d="M1153.0,362.1 h6 M1634.4,362.1 h-6"/>
<path d="M1153.0,281.9 h6 M1634.4,281.9 h-6"/>
<path d="M1153.0,201.7 h6 M1634.4,201.7 h-6"/>
<path d="M1153.0,121.4 h6 M1634.4,121.4 h-6"/>
<path d="M1153.0,41.2 h6 M1634.4,41.2 h-6"/>
</g>
<g font-family="'Liberation Sans', Arial, Helvetica, sans-serif" font-size="28" fill="#000">
<text transform="translate(1153.0,554.6)" font-size="31" text-anchor="middle">0</text>
<text transform="translate(1313.5,554.6)" font-size="31" text-anchor="middle">10</text>
<text transform="translate(1473.9,554.6)" font-size="31" text-anchor="middle">20</text>
<text transform="translate(1634.4,554.6)" font-size="31" text-anchor="middle">30</text>
<text transform="translate(1149.0,534.9)" font-size="31" text-anchor="end">0</text>
<text transform="translate(1149.0,454.7)" font-size="31" text-anchor="end">5</text>
<text transform="translate(1149.0,374.4)" font-size="31" text-anchor="end">10</text>
<text transform="translate(1149.0,294.2)" font-size="31" text-anchor="end">15</text>
<text transform="translate(1149.0,214.0)" font-size="31" text-anchor="end">20</text>
<text transform="translate(1149.0,133.7)" font-size="31" text-anchor="end">25</text>
<text transform="translate(1149.0,53.5)" font-size="31" text-anchor="end">30</text>
</g>
<text transform="translate(1393.7,582.1) scale(0.91,1)" font-size="25.8" text-anchor="middle">Observations</text>
<text transform="translate(1393.7,20.2) scale(0.93,1)" font-size="25.6" text-anchor="middle">2016</text>
<text transform="translate(1102.0,281.9) rotate(-90)" font-size="23.5" text-anchor="middle">Simulation</text>
<text transform="translate(1072.5,27.9)" font-size="33.5" font-weight="bold">E</text>
<path d="M1196,1069 1161,1084 1241,1023 1180,1085 1242,1051 1188,1076 1186,1099 1206,1089 1159,1069 1162,1074 1220,1051 1172,1066 1163,1092 1179,1091 1255,1066 1229,1083 1186,1074 1154,1082 1232,1041 1211,1063 1164,1085 1175,1047 1257,1084 1211,1040 1172,1092 1177,1108 1186,1010 1176,1054 1178,1113 1214,1054 1193,1076 1177,1074 1183,1097 1169,1098 1200,1074 1254,1055 1211,1062 1195,1068 1203,1084 1202,1012 1199,1073 1181,1110 1234,1090 1195,1028 1238,1082 1208,1073 1200,1038 1175,1088 1247,1023 1172,1073 1203,1067 1194,1104 1199,1021 1245,985 1159,1088 1242,1019 1214,1043 1197,1021 1175,1095 1233,1044 1156,1040 1239,1098 1198,1107 1208,1071 1163,1036 1234,1087 1160,1067 1223,1067 1196,1063 1257,1015 1182,1045 1222,1066 1221,1079 1249,1111 1183,1050 1234,1068 1206,1070 1221,1065 1230,1086 1199,1100 1182,1089 1238,1009 1217,1053 1190,1108 1232,1017 1168,1085 1196,1024 1231,1057 1205,1020 1180,1015 1282,1076 1169,1082 1191,1077 1195,1095 1203,1072 1233,1068 1176,1037 1271,1044 1155,1069 1232,1027 1201,1054 1183,1071 1165,1049 1210,1088 1181,1097 1180,1050 1182,1068 1203,1064 1176,1014 1244,1042 1198,1066 1230,1018 1237,1047 1170,1084 1220,1004 1201,1038 1195,1110 1177,1062 1234,1047 1227,1039 1241,1001 1159,1060 1195,1112 1261,1043 1243,1038 1229,1093 1178,1070 1177,1017 1175,1064 1234,1080 1168,1060 1191,1047 1232,1048 1185,1110 1221,1065 1219,1057 1209,1048 1232,1058 1219,1066 1242,1027 1223,1097 1174,1043 1224,1073 1241,1074 1197,1049 1170,1088 1182,1070 1182,1091 1224,1076 1177,1083 1180,1072 1238,1081 1156,1016 1209,1016 1187,1051 1206,1024 1196,1097 1238,1071 1261,1076 1261,1033 1220,1013 1219,1054 1179,1059 1239,1037 1218,1042 1190,1109 1202,1098 1176,1045 1243,1086 1159,1078 1167,1066 1190,1071 1220,1068 1195,1004 1233,1036 1199,1048 1204,1046 1247,1067 1184,1045 1195,1039 1208,1090 1202,1103 1236,1051 1196,1041 1220,1009 1263,1029 1189,1072 1199,1049 1171,1079 1186,1094 1175,1103 1266,1033 1170,1106 1213,1032 1190,1075 1189,1029 1223,1099 1195,1082 1200,1001 1171,1090 1166,1055 1185,1063 1159,1084 1262,1023 1202,1055 1266,1050 1207,1000 1212,1078 1198,1082 1209,1091 1198,995 1178,1084 1191,1016 1158,1100 1159,1099 1156,1093 1198,1039 1170,1084 1186,1076 1203,1042 1204,1063 1155,1057 1216,1043 1270,1018 1248,1077 1261,1059 1218,1036 1158,1058 1203,1112 1210,1067 1218,1040 1227,1006 1208,1082 1233,1041 1215,1022 1236,1065 1275,984 1218,1039 1158,1102 1227,1054 1179,1099 1254,1030 1217,1049 1254,954 1158,1098 1189,1113 1219,1070 1186,1035 1193,1023 1188,1064 1176,1075 1192,1090 1172,1073 1196,1069 1221,1103 1163,1102 1154,1098 1164,1050 1206,1056 1167,1002 1212,1060 1236,1051 1218,1056 1267,998 1188,1050 1215,1101 1182,1051 1214,1073 1233,1046 1229,1038 1183,1105 1196,1105 1211,1051 1236,1020 1222,1056 1269,1046 1179,1075 1177,1060 1194,1031 1210,1074 1182,1086 1223,1028 1206,1088 1164,1094 1175,1026 1205,1058 1155,1066 1156,1083 1232,1066 1160,1108 1185,1078 1255,1085 1168,1112 1195,1090 1253,1042 1165,1059 1210,1046 1159,1093 1242,1063 1184,1046 1263,1037 1258,1045 1215,1055 1195,1043 1223,1036 1208,1059 1222,1044 1244,1031 1248,1039 1265,978 1210,1043 1269,1065 1199,1072 1203,1064 1215,1039 1224,1068 1161,1042 1172,1057 1172,1084 1217,1049 1174,1095 1209,1048 1206,1015 1171,1047 1237,979 1222,1006 1206,1079 1246,1003 1256,1067 1208,1047 1237,1090 1176,1035 1241,1057 1155,1085 1204,1047 1158,1090 1211,1042 1203,1092 1232,1052 1244,972 1271,1068 1184,1080 1187,1103 1244,1074 1255,1042 1235,1031 1194,1039 1212,1086 1239,1078 1239,1078 1159,1107 1200,1069 1216,1047 1272,1092 1210,1040 1169,1074 1201,1047 1203,1082 1203,1033 1214,1060 1220,992 1193,1019 1195,1111 1175,1052 1194,1060 1187,1075 1189,1075 1219,1084 1201,1055 1213,1045 1216,1085 1255,1101 1229,1058 1234,1010 1183,1084 1168,1066 1169,1076 1198,1064 1178,1097 1177,1033 1189,1103 1217,1064 1203,1011 1177,1066 1199,1079 1219,1080 1198,1099 1165,1086 1216,1086 1263,996 1204,1092 1160,1068 1225,1007 1211,1036 1188,1084 1197,1096 1230,1056 1226,1073 1188,1057 1183,1063 1250,1045 1207,1095 1237,1067 1230,1080 1169,1063 1236,1047 1226,1041 1168,1040 1197,1058 1247,1043 1196,1089 1252,1026 1200,1010 1212,1036 1210,1073 1156,1084 1218,1068 1183,1088 1162,1072 1221,1012 1209,1075 1283,1072 1186,1069 1195,1054 1210,1041 1180,1079 1235,1067 1195,1062 1228,1091 1188,1073 1227,1004 1158,1078 1194,1069 1169,1069 1235,1035 1175,1015 1223,1026 1190,1064 1236,1030 1202,1072 1220,1005 1168,1084 1184,1072 1198,1070 1241,1042 1225,1044 1198,1100 1183,1095 1210,1066 1177,1090 1169,1064 1295,1030 1253,1047 1183,1090 1247,1028 1165,1064 1261,1075 1215,1012 1227,1054 1252,1047 1212,1028 1187,1050 1196,1091 1161,1111 1216,1071 1242,1017 1191,1057 1250,1077 1314,1039 1201,1056 1198,1043 1208,1111 1205,1018 1206,1077 1174,1082 1263,1104 1212,1035 1231,1056 1212,1096 1256,1106 1243,1109 1182,1060 1163,1065 1245,1010 1212,1110 1210,1103 1219,1097 1259,1099 1245,1037 1231,1060 1233,1050 1171,1090 1199,1069 1176,1021 1196,1048 1187,1052 1206,1003 1219,1085 1186,1025 1242,1065 1196,1029 1157,1098 1198,1061 1197,1070 1183,1097 1192,1060 1173,1085 1224,1027 1171,1058 1196,1035 1162,1083 1220,1012 1203,1048 1158,1101 1197,1068 1225,1057 1229,1106 1171,1006 1195,1084 1225,1001 1192,1018 1164,1072 1247,1065 1223,1046 1205,990 1179,1091 1179,1066 1242,1050 1166,1063 1228,1104 1230,1093 1260,1072 1200,1055 1236,1053 1192,1040 1193,1077 1180,1102 1238,1044 1196,1087 1210,993 1196,1038 1186,1089 1190,1058 1202,1037 1207,1027 1230,1092 1204,1110 1172,1062 1244,1024 1190,1063 1170,1103 1255,1029 1175,1083 1222,988 1196,1024 1173,1079 1207,1055 1270,1093 1235,1046 1156,1106 1197,1063 1275,1087 1182,1021 1190,1079 1170,1071 1192,1094 1242,1021 1177,1073 1228,1069 1173,1094 1248,1009 1245,1021 1223,1063 1228,1046 1296,968 1214,1050 1183,1081 1235,1052 1187,1012 1202,1089 1225,1057 1211,1044 1205,1019 1213,1095 1235,1060 1175,1068 1250,1082 1196,1067 1154,1101 1186,1075 1225,1055 1158,1086 1187,1088 1162,1105 1207,1108 1183,1097 1226,1072 1170,1097 1232,1096 1226,1073 1193,1042 1197,1042 1246,1017 1228,1055 1270,1057 1296,1035 1237,1082 1216,1065 1206,1106 1220,999 1305,1022 1305,1013 1166,1104 1169,1106 1260,1067 1236,1051 1167,1029 1181,1047 1241,1066 1182,1053 1221,1058 1215,1012 1232,1063 1203,1063 1274,1046 1239,1088 1162,1082 1170,1048 1208,1032 1239,1065 1253,1071 1189,1007 1214,1094 1175,1038 1228,1083 1218,1050 1226,1041 1253,1028 1199,1063 1206,1062 1200,1074 1210,1086 1269,1036 1182,1084 1196,1018 1216,1068 1208,1039 1247,985 1183,1072 1160,1084 1227,1052 1162,1089 1180,1071 1183,1076 1160,1038 1195,1046 1199,1061 1174,1085 1194,1081 1234,1024 1173,1094 1238,1003 1164,1104 1218,1039 1180,1086 1157,1061 1179,1066 1181,1078 1264,1088 1263,1075 1197,1025 1195,1102 1206,1060 1262,1084 1187,1109 1223,1051 1175,1046 1178,1020 1233,1056 1207,1090 1202,1090 1181,1057 1164,1085 1211,1074 1217,1074 1207,1017 1187,1088 1166,1097 1165,1100 1178,1074 1258,1013 1241,1005 1175,1031 1158,1063 1195,1043 1233,1009 1272,1034 1202,1089 1217,1005 1172,1068 1227,1086 1190,1063 1177,1077 1189,1044 1185,1075 1196,1063 1194,1075 1241,1015 1180,1034 1168,1089 1174,999 1261,1073 1188,1111 1188,1058 1256,1068 1192,1005 1181,1080 1184,1052 1167,1103 1219,1085 1229,1020 1262,1081 1214,1092 1185,1080 1221,1048 1235,1080 1190,1028 1197,1030 1206,1070 1217,1099 1162,1101 1246,1085 1217,1038 1195,1046 1211,1018 1176,1058 1161,1027 1242,1001 1161,1102 1263,951 1221,1098 1189,1066 1209,1037 1247,1018 1233,1082 1181,1092 1245,1019 1214,1077 1218,1087 1252,1081 1223,1101 1230,1106 1191,1029 1220,1053 1218,1068 1175,1064 1200,1035 1247,1021 1200,1049 1154,1074 1265,1064 1178,1082 1185,1094 1175,1081 1185,1092 1256,1066 1179,1080 1206,1032 1186,1107 1233,1080 1194,1048 1259,1022 1250,1088 1252,1086 1158,1081 1226,984 1191,1087 1217,1057 1219,1077 1215,1108 1207,1037 1196,1053 1166,1037 1176,1082 1223,1042 1184,1051 1169,1086 1185,1042 1216,1065 1154,1084 1250,1015 1229,1045 1177,1064 1250,1086 1206,1063 1221,1051 1215,1030 1203,1059 1275,1040 1226,1044 1202,1049 1158,1094 1178,1041 1185,1071 1230,1040 1190,1067 1202,1072 1190,1029 1166,1077 1178,1087 1196,1076 1228,1051 1229,1072 1228,1072 1171,1079 1176,1094 1220,1079 1237,1074 1156,1051 1200,1030 1169,1070 1216,1058 1198,1073 1183,1055 1233,1034 1225,1081 1224,1066 1198,1073 1224,1012 1237,1044 1216,1053 1155,1101 1274,1079 1225,1107 1190,1029 1188,1038 1201,1014 1265,1034 1205,1078 1208,1080 1188,1080 1186,1032 1247,1063 1200,1058 1206,1087 1187,1091 1171,1041 1188,1068 1229,1068 1239,1056 1165,1086 1257,1027 1191,1012 1177,1051 1174,1109 1232,1067 1206,1087 1183,1032 1169,1087 1208,1060 1173,1054 1157,1068 1183,1055 1201,1030 1282,1061 1222,1073 1184,1052 1235,1092 1215,1067 1233,1050 1233,1038 1210,1081 1254,1036 1233,1012 1177,1098 1202,1058 1231,1039 1192,1108 1243,1036 1216,1053 1220,1077 1179,1098 1207,1032 1177,1083 1241,1051 1224,1043 1207,1059 1204,1104 1200,1072 1251,1072 1158,1111 1223,1095 1216,1084 1217,1021 1227,1091 1221,1105 1218,1039 1172,1088 1193,1060 1311,1023 1214,1056 1170,1112 1229,1028 1185,1082 1197,1088 1251,1012 1177,1069 1185,1092 1178,1078 1188,1060 1181,1097 1253,1106 1208,1059 1201,1065 1295,1026 1178,1024 1181,1049 1198,1060 1175,1081 1178,1090 1205,1040 1227,1036 1202,1079 1191,1078 1197,1042 1156,1040 1236,1048 1173,1060 1211,1044 1226,1074 1225,1049 1188,1100 1174,1065 1233,1089 1155,1072 1235,1042 1233,1084 1180,1100 1166,1077 1215,1039 1160,1050 1233,1004 1208,1022 1216,1106 1220,1037 1277,999 1180,1035 1232,1089 1233,1070 1224,1094 1176,1048 1190,1085 1170,1109 1181,1067 1189,1079 1248,965 1279,1018 1161,1080 1243,997 1216,1017 1174,1074 1211,1048 1300,993 1201,990 1193,1032 1220,1019 1193,1062 1220,1033 1210,1057 1161,1048 1200,1023 1292,1040 1172,1042 1257,1069 1160,1081 1180,1068 1210,1075 1259,1066 1214,1040 1215,1051 1183,1068 1185,1105 1163,1062 1172,1021 1224,1014 1239,1017 1182,1059 1199,1079 1203,1094 1200,1055 1206,1073 1211,1081 1158,1105 1178,1103 1159,1072 1163,1022 1244,1056 1239,1046 1237,1081 1194,1085 1212,1053 1197,1022 1190,1086 1252,1071 1232,1080 1175,1084 1258,1052 1224,1006 1216,1070 1268,1070 1197,1074 1253,1098 1261,1002 1207,1083 1204,1034 1156,1082 1191,1058 1175,1068 1221,1040 1246,1029 1170,1069 1202,1095 1218,1010 1208,1071 1193,1110 1211,1084 1209,1011 1182,1018 1207,1021 1173,1086 1238,1052 1244,1072 1249,1074 1175,1109 1179,1089 1156,1093 1223,1074 1174,1061 1227,1076 1208,1069 1226,1097 1229,1059 1172,1042 1182,1030 1213,1102 1225,1015 1255,1080 1179,1105 1243,1028 1190,1061 1235,1041 1226,1030 1213,1014 1183,1071 1222,1049 1235,1020 1157,1053 1216,1045 1191,1075 1172,1059 1222,1077 1290,1097 1196,1050 1210,1027 1211,1049 1184,1064 1206,1057 1166,1047 1220,1047 1195,1087 1183,1107 1156,1088 1226,1035 1190,1028 1177,1062 1241,1042 1196,1066 1190,1079 1202,1078 1195,1033 1249,1048 1228,1015 1193,1085 1195,1081 1197,1042 1243,1045 1234,1058 1233,1055 1196,1067 1188,1113 1205,1085 1176,1032 1230,1047 1168,1077 1249,1070 1278,1041 1209,1003 1193,1082 1209,1055 1187,1086 1186,1053 1222,1047 1242,991 1214,1068 1223,989 1180,1053 1211,1092 1240,1036 1164,1037 1155,1084 1240,1103 1205,1038 1236,1074 1290,1004 1162,1062 1155,1096 1198,1053 1206,1060 1233,1041 1161,1106 1180,1085 1258,1078 1234,1083 1204,1074 1213,1057 1245,1025 1262,1044 1157,1109 1172,1064 1259,1028 1240,1050 1213,1054 1214,1092 1169,1030 1221,1044 1161,1087 1229,1017 1190,1035 1206,1090 1235,1061 1203,1071 1229,973 1182,1044 1167,1091 1193,1107 1185,1043 1166,1060 1262,979 1253,1030 1237,1067 1157,1084 1234,1056 1218,1063 1199,1079 1221,1073 1245,1037 1219,1097 1165,1075 1193,1036 1203,1093 1156,1097 1203,1048 1186,1074 1208,1045 1159,1032 1202,1072 1171,1111 1176,1079 1180,1044 1235,1035 1247,1044 1210,1091 1183,1062 1187,1029 1209,1081 1203,1067 1231,1085 1259,1047 1261,1091 1205,1086 1248,991 1189,1054 1194,1053 1244,979 1191,1056 1234,1015 1254,1009 1170,1066 1242,1028 1175,1094 1202,1056 1213,1030 1211,1061 1193,1102 1224,1062 1181,1088 1172,1089 1256,1044 1171,1029 1178,1086 1198,993 1216,1064 1169,1102 1185,1015 1234,1018 1216,1054 1214,1059 1259,1048 1265,1067 1265,1023 1185,1056 1199,1081 1159,1042 1222,1100 1242,1051 1163,1047 1169,1101 1209,1078 1217,1020 1217,1066 1154,1030 1162,1107 1223,1029 1204,1045 1204,1089 1200,1057 1225,987 1218,1041 1212,1036 1263,1084 1218,1041 1249,1042 1174,1072 1176,1002 1165,1034 1160,1087 1210,1087 1237,1079 1191,1054 1164,1076 1198,1056 1267,1003 1255,1055 1192,1062 1214,1091 1226,1083 1173,1079 1184,1105 1236,1053 1222,1060 1190,1087 1224,1064 1219,1092 1187,1086 1170,1062 1201,1058 1164,1036 1247,1045 1191,1083 1220,1102 1178,1087 1161,1095 1161,1036 1258,1044 1231,1054 1233,1043 1201,1020 1203,1052 1206,1024 1249,1002 1238,1104 1249,1035 1280,1014 1219,1033 1186,1060 1207,1053 1228,1049 1213,1074 1175,1053 1211,1064 1194,1113 1162,1106 1171,1065 1165,1097 1159,1107 1232,1040 1167,1067 1169,1055 1269,1026 1196,1090 1258,1077 1202,1054 1261,1020 1259,1028 1158,1067 1180,1029 1246,1054 1155,1070 1171,1031 1163,1077 1177,1106 1212,1062 1161,1077 1279,1054 1217,1088 1200,1022 1238,1013 1188,1099 1154,1110 1153,1094 1230,981 1220,1093 1202,1053 1252,1109 1190,1076 1169,1046 1197,1057 1216,1033 1213,1069 1195,1059 1228,1063 1227,1038 1210,1036 1215,1018 1225,1028 1207,1096 1250,1039 1181,1014 1182,1058 1248,1102 1187,1084 1225,1017 1237,1069 1181,1067 1203,1091 1220,1040 1188,1061 1280,1079 1171,1055 1250,1002 1224,1056 1163,1106 1214,1109 1165,1106 1184,1099 1227,1011 1183,1010 1225,1048 1198,1085 1198,1014 1223,1088 1236,1019 1174,1027 1235,1032 1195,1065 1222,1030 1292,1000 1215,1069 1205,1061 1211,1077 1168,1090 1156,1112 1253,1016 1222,1095 1179,1038 1197,1018 1155,1103 1177,1076 1211,1069 1172,1056 1195,1040 1155,1081 1170,1078 1243,1038 1206,1101 1168,1056 1207,1050 1202,1075 1196,1040 1234,1092 1219,1096 1218,1088 1168,1056 1240,1024 1225,1077 1203,1094 1254,1034 1264,1029 1235,1050 1159,1070 1187,1040 1252,1081 1180,1089 1260,999 1209,1092 1177,1095 1201,1100 1267,1086 1184,1107 1171,1053 1218,1007 1208,1011 1246,1065 1225,1026 1222,1035 1219,1033 1188,1094 1179,1062 1232,962 1245,1083 1225,1023 1214,1067 1183,1039 1222,1016 1195,1065 1204,1027 1235,1079 1210,1090 1209,1046 1183,1042 1178,1105 1203,1042 1202,1094 1223,1028 1207,1070 1237,1079 1234,1051 1271,1077 1222,1075 1217,1078 1278,998 1177,1078 1204,1074 1198,1099 1192,1089 1194,1052 1153,1089 1180,1095 1214,1061 1229,1066 1168,1061 1250,1085 1184,1025 1226,1033 1194,1107 1155,1090 1189,1079 1244,1038 1154,1075 1217,1091 1170,1034 1153,995 1212,1095 1183,1095 1227,1041 1180,1051 1292,1042 1184,1089 1201,1108 1209,1050 1220,1081 1185,1105 1190,1049 1158,1044 1230,1065 1205,1071 1173,1062 1167,1089 1192,1112 1241,1029 1227,1008 1187,1079 1238,1091 1218,1087 1162,1107 1248,1061 1183,1069 1210,1041 1191,1084 1223,1059 1210,1035 1154,1037 1195,1098 1214,1030 1196,1058 1223,1081 1242,1085 1225,1109 1211,1094 1163,1112 1239,1012 1206,1030 1222,1015 1181,1092 1185,1040 1208,1063 1221,1033 1209,1073 1230,1042 1185,1074 1154,1094 1205,1045 1190,1080 1199,1075 1218,1028 1256,1029 1220,1103 1181,1050 1241,1060 1222,1059 1244,1035 1185,1094 1255,1082 1238,1033 1236,1112 1196,1050 1255,1008 1209,1064 1281,1053 1252,1076 1262,1031 1160,1075 1220,1017 1206,1073 1263,1021 1175,1066 1182,1074 1157,1048 1171,1057 1212,1088 1189,1074 1181,1041 1229,1047 1263,1034 1221,1050 1216,1041 1252,1066 1211,1045 1174,1100 1230,1025 1190,1076 1246,1063 1227,1034 1213,1081 1191,1079 1228,1043 1224,1009 1172,1073 1248,1074 1210,1043 1218,1066 1231,1046 1242,1089 1219,1060 1180,1093 1179,1091 1204,1047 1252,1061 1161,1036 1157,1098 1248,1039 1184,1039 1177,1060 1194,1110 1196,1086 1201,1061 1256,1108 1180,1064 1163,1047 1251,1043 1292,1024 1202,1091 1252,993 1214,1038 1220,996 1246,1066 1178,1105 1171,1083 1252,1091 1195,1059 1239,988 1189,1078 1216,1050 1158,1107 1162,1074 1165,1062 1223,1070 1175,1042 1189,1061 1221,994 1199,1070 1171,1065 1170,1063 1213,1064 1173,1070 1209,1052 1219,1056 1188,1098 1171,1086 1233,1053 1177,1030 1171,1111 1262,1038 1182,1097 1260,1041 1167,1004 1178,1068 1183,1076 1225,1091 1276,1033 1173,1049 1184,1047 1237,1075 1220,1044 1227,1011 1230,1003 1165,1093 1233,1104 1204,1028 1200,1068 1243,1046 1206,1102 1196,1103 1225,1050 1186,1055 1251,1037 1212,1036 1202,1080 1259,1092 1227,1033 1193,1061 1172,1077 1217,1083 1173,1019 1165,1055 1188,1083 1155,1057 1223,1075 1243,1051 1185,1060 1171,1095 1251,987 1229,1057 1156,1113 1192,1044 1240,1034 1225,1027 1175,1067 1220,1074 1219,1078 1226,1028 1174,1100 1226,1073 1241,1082 1187,1061 1167,1092 1297,1073 1183,1054 1240,1087 1179,1095 1211,1009 1204,1088 1183,1034 1174,1042 1208,1089 1253,1063 1201,1088 1160,1060 1228,1029 1184,1063 1231,1082 1176,1089 1166,1071 1198,1080 1187,1089 1171,1062 1159,1091 1236,1048 1202,1050 1194,1055 1153,1054 1174,1036 1166,1085 1240,1057 1180,1041 1220,1101 1180,1072 1211,1101 1187,1034 1175,1083 1261,1046 1187,1048 1234,1061 1165,1027 1207,1049 1185,1072 1167,1092 1227,1038 1166,1054 1175,1036 1159,1036 1153,1042 1154,1105 1163,1073 1164,1094 1159,979 1164,1027 1171,1073 1156,1068 1158,1061 1153,1062 1154,987 1157,996 1159,1035 1160,964 1155,1067 1164,956 1161,1022 1156,1112 1167,1105 1159,961 1156,1070 1165,990 1159,940 1172,1097 1153,1066 1157,983 1164,1081 1160,1103 1154,977 1154,1015 1157,1029 1161,975 1162,947 1162,1022 1161,1073 1154,1074 1168,1014 1157,1043 1174,943 1162,1109 1161,1112 1162,974 1156,997 1156,958 1155,1091 1158,1074 1157,937 1163,1010 1163,980 1161,1072 1174,942 1154,1005 1153,1016 1161,1046 1154,1086 1162,1097 1165,988 1164,1053 1162,936 1158,1102 1160,1055 1166,957 1161,942 1156,1028 1154,1101 1153,1088 1154,1029 1155,968 1154,978 1162,986 1155,991 1155,1001 1169,1022 1153,1072 1155,1051 1173,1033 1157,1088 1157,1066 1159,1095 1158,990 1158,1088 1165,1042 1158,1030 1168,972 1168,1020 1156,1055 1165,1037 1160,1073 1161,1048 1157,1081 1155,1108 1154,1099 1157,936 1166,1012 1158,942 1164,1084 1154,971 1158,949 1158,1056 1153,1074 1162,1027 1156,1015 1154,1066 1161,936 1154,1074 1161,985 1156,982 1168,961 1155,1081 1172,1012 1164,1030 1160,1033 1159,1077 1155,1054 1158,1073 1153,994 1160,946 1164,949 1161,1007 1273,1082 1241,1080 1305,1033 1300,1081 1293,1021 1261,1021 1424,1070 1343,1068 1238,1077 1307,1040 1344,1054 1273,1086 1264,1067 1338,1028 1343,1010 1317,1010 1309,1066 1370,1046 1275,1034 1261,1030 1282,1067 1330,1095 1260,1061 1252,1025 1308,1063 1284,1098 1323,1103 1300,1020 1286,1068 1265,1112 1362,1078 1261,1030 1293,990 1243,1092 1236,1033 1267,1077 1270,1060 1236,1112 1245,1032 1338,1108 1256,1080 1282,1088 1268,1059 1262,1059 1370,1035 1285,1049 1381,1066 1316,1035 1239,1106 1266,1033 1262,1085 1315,1085 1247,1096 1299,1040 1314,1058 1256,1066 1239,1074 1288,1085 1253,1084 1331,1050 1255,1106 1370,1097 1265,1075 1271,1030 1252,1014 1272,1052 1249,1042 1273,1046 1341,1074 1322,999 1238,1105 1244,1094 1362,1029 1280,1049 1250,1066 1294,1070 1263,1053 1308,1039 1328,1025 1248,1088 1354,1080 1375,1038 1247,983 1289,1057 1278,1050 1277,1056 1273,1105 1296,1061 1236,1047 1325,1037 1276,1036 1262,1042 1281,1079 1393,1056 1449,1103 1361,1079 1237,1055 1249,1097 1323,1076 1304,1053 1239,1102 1329,1037 1369,1081 1324,1112 1290,1094 1283,1062 1267,1039 1409,1087 1258,1087 1297,1052 1263,1059 1256,1043 1281,1061 1293,1070 1244,1048 1346,1030 1258,1058 1271,1023 1245,1024 1277,1096 1245,1078 1315,1037 1287,1025 1264,1059 1286,1103 1268,1089 1245,1049 1290,1062 1323,984 1288,1028 1275,1071 1307,1033 1370,1052 1282,1053 1247,1021 1256,1046 1302,1073 1298,1014 1297,1051 1335,1070 1245,1084 1275,1044 1348,1034 1334,1054 1263,1058 1273,1064 1253,1064 1319,1094 1310,1107 1318,1048 1332,1047 1300,1031 1307,1071 1249,1106 1278,1006 1265,1042 1300,1055 1241,1072 1287,1074 1260,1112 1360,1109 1242,1056 1392,986 1276,1003 1333,1044 1254,1037 1254,1056 1254,1024 1242,1039 1309,1095 1239,1107 1268,1064 1249,1110 1277,1111 1236,1085 1378,1044 1330,1012 1313,1030 1241,1055 1236,1074 1284,1044 1314,1085 1240,1043 1240,1041 1416,1100 1250,1052 1300,1016 1289,1090 1350,1098 1419,1046 1297,1060 1240,1061 1264,1037 1309,1076 1309,1048 1282,1033 1273,1080 1284,1082 1256,1044 1258,1092 1347,1062 1377,1070 1260,1036 1286,1101 1258,1074 1244,1103 1332,1100 1269,1049 1319,1056 1330,1038 1296,1024 1319,1083 1288,1101 1292,1099 1337,985 1366,1103 1328,1113 1318,1091 1284,1071 1298,1014 1336,1081 1256,1100 1263,1078 1332,1100 1281,971 1245,1081 1315,1096 1301,1081 1249,1098 1260,1010 1319,1041 1262,1029 1256,1099 1298,1034 1284,1048 1261,1011 1410,1071 1272,1102 1245,1053 1240,1005 1293,1042 1359,1104 1328,1049 1258,1069 1273,1033 1238,1044 1337,1053 1297,1090 1244,1098 1247,1092 1297,1077 1328,1024 1279,1110 1253,1065 1293,1029 1273,1083 1275,1060 1269,1024 1245,1051 1365,1023 1189,955 1246,958 1241,906 1219,950 1280,936 1216,917 1219,915 1278,949 1210,928 1262,864 1220,914 1194,910 1182,885 1228,867 1241,960 1275,910 1268,943 1300,909 1250,898 1265,897 1156,895 1293,858 1257,913 1274,877 1153,907 1208,839 1189,860 1233,850 1159,872 1226,872 1230,826 1228,809 1213,837 1193,850 1183,805 1334,922 1366,1077 1403,958 1441,1065 1392,914 1410,913 1321,1042 1398,1058 1307,917 1408,956 1359,996 1341,1003 1326,910 1406,1013 1394,1049 1309,973 1343,1030 1359,908 1437,945 1380,934 1346,921 1409,1030 1410,1004 1338,1015 1358,1058 1430,976 1395,1075 1320,974 1390,932 1347,1042 1353,911 1431,1071 1400,983 1441,978 1377,959 1573,904 1576,928 1586,1100 1593,1079 1597,1066 1600,1093 1603,1097 1614,1100 1614,1076 1614,1055 1524,1004 1528,1011 1524,1031 1531,1038 1521,1028 1559,1079 1542,1069 1545,1055 1517,1083 1507,1083 1493,1110 1487,1090 1517,928 1517,884 1514,829 1476,815 1466,966 1483,956 1480,911 1493,904 1493,866 1462,897 1449,911 1435,935 1432,860 1404,722 1407,805 1411,781 1387,767 1370,746 1349,736 1311,794 1270,702 1215,733 1191,750 1174,763 1172,674 1182,685 1191,812 1225,805 1249,808 1315,1107 1291,829 1297,822 1318,836 1339,836 1377,856 1387,847 1394,877 1428,860" fill="none" stroke="none" marker-start="url(#ast)" marker-mid="url(#ast)" marker-end="url(#ast)"/>
<path d="M1153.0,1113.7 L1634.4,633.0" stroke="#000" stroke-width="1.4"/>
<rect x="1153.0" y="633.0" width="481.4" height="480.7" fill="none" stroke="#000" stroke-width="1.6"/>
<g stroke="#000" stroke-width="1.3">
<path d="M1153.0,1113.7 v-6 M1153.0,633.0 v6"/>
<path d="M1290.5,1113.7 v-6 M1290.5,633.0 v6"/>
<path d="M1428.1,1113.7 v-6 M1428.1,633.0 v6"/>
<path d="M1565.6,1113.7 v-6 M1565.6,633.0 v6"/>
<path d="M1153.0,1113.7 h6 M1634.4,1113.7 h-6"/>
<path d="M1153.0,1045.0 h6 M1634.4,1045.0 h-6"/>
<path d="M1153.0,976.4 h6 M1634.4,976.4 h-6"/>
<path d="M1153.0,907.7 h6 M1634.4,907.7 h-6"/>
<path d="M1153.0,839.0 h6 M1634.4,839.0 h-6"/>
<path d="M1153.0,770.3 h6 M1634.4,770.3 h-6"/>
<path d="M1153.0,701.7 h6 M1634.4,701.7 h-6"/>
<path d="M1153.0,633.0 h6 M1634.4,633.0 h-6"/>
</g>
<g font-family="'Liberation Sans', Arial, Helvetica, sans-serif" font-size="28" fill="#000">
<text transform="translate(1153.0,1145.7)" font-size="31" text-anchor="middle">0</text>
<text transform="translate(1290.5,1145.7)" font-size="31" text-anchor="middle">2</text>
<text transform="translate(1428.1,1145.7)" font-size="31" text-anchor="middle">4</text>
<text transform="translate(1565.6,1145.7)" font-size="31" text-anchor="middle">6</text>
<text transform="translate(1149.0,1126.0)" font-size="31" text-anchor="end">0</text>
<text transform="translate(1149.0,1057.3)" font-size="31" text-anchor="end">1</text>
<text transform="translate(1149.0,988.7)" font-size="31" text-anchor="end">2</text>
<text transform="translate(1149.0,920.0)" font-size="31" text-anchor="end">3</text>
<text transform="translate(1149.0,851.3)" font-size="31" text-anchor="end">4</text>
<text transform="translate(1149.0,782.6)" font-size="31" text-anchor="end">5</text>
<text transform="translate(1149.0,714.0)" font-size="31" text-anchor="end">6</text>
<text transform="translate(1149.0,645.3)" font-size="31" text-anchor="end">7</text>
</g>
<text transform="translate(1393.7,1173.2) scale(0.91,1)" font-size="25.8" text-anchor="middle">Observations</text>
<text transform="translate(1393.7,612.0) scale(0.93,1)" font-size="25.6" text-anchor="middle">2016</text>
<text transform="translate(1119.0,873.4) rotate(-90)" font-size="23.5" text-anchor="middle">Simulation</text>
<text transform="translate(1072.5,635.3)" font-size="33.5" font-weight="bold">F</text>
<path d="M1467,1381 1527,1379 1489,1368 1448,1372 1533,1349 1487,1387 1471,1366 1426,1373 1557,1375 1507,1363 1533,1327 1552,1351 1542,1376 1541,1331 1524,1385 1456,1412 1525,1359 1472,1373 1477,1364 1480,1391 1500,1366 1486,1412 1560,1326 1454,1402 1470,1363 1505,1387 1558,1384 1523,1395 1498,1371 1560,1331 1438,1423 1510,1373 1506,1373 1537,1358 1528,1398 1463,1413 1553,1383 1543,1341 1494,1364 1492,1372 1504,1385 1527,1362 1464,1400 1457,1386 1479,1345 1444,1422 1448,1418 1461,1442 1502,1373 1541,1349 1560,1340 1576,1362 1526,1364 1484,1383 1531,1345 1521,1368 1478,1395 1572,1351 1458,1393 1523,1343 1488,1350 1436,1362 1509,1375 1553,1377 1545,1365 1529,1353 1489,1374 1550,1391 1556,1338 1532,1358 1465,1408 1468,1359 1542,1352 1455,1399 1506,1393 1507,1372 1489,1375 1502,1355 1493,1348 1554,1375 1508,1357 1544,1383 1474,1419 1532,1351 1453,1385 1497,1383 1450,1432 1462,1392 1498,1414 1537,1396 1465,1383 1503,1361 1590,1385 1534,1391 1471,1379 1465,1401 1484,1394 1478,1414 1561,1385 1510,1366 1473,1351 1552,1335 1477,1403 1476,1411 1456,1382 1541,1371 1539,1351 1522,1379 1561,1376 1495,1369 1515,1368 1529,1361 1516,1402 1465,1392 1481,1423 1501,1374 1551,1344 1470,1398 1507,1362 1509,1333 1498,1352 1545,1373 1475,1422 1581,1351 1488,1333 1536,1369 1498,1379 1460,1418 1532,1366 1482,1364 1491,1410 1473,1377 1496,1391 1479,1395 1502,1393 1516,1383 1551,1342 1510,1353 1507,1330 1453,1406 1503,1352 1446,1392 1535,1362 1541,1370 1465,1343 1576,1375 1512,1338 1520,1376 1577,1318 1547,1362 1526,1377 1489,1375 1526,1345 1500,1385 1497,1380 1536,1344 1517,1372 1487,1400 1468,1388 1479,1418 1518,1385 1507,1364 1527,1336 1438,1405 1442,1403 1501,1352 1538,1336 1439,1408 1519,1363 1494,1414 1575,1312 1492,1370 1498,1316 1509,1355 1495,1365 1528,1385 1556,1344 1509,1360 1518,1370 1460,1401 1426,1419 1545,1368 1511,1369 1519,1392 1489,1365 1494,1396 1508,1395 1533,1354 1512,1413 1492,1396 1538,1351 1531,1357 1532,1388 1491,1400 1473,1425 1514,1380 1485,1374 1490,1385 1467,1413 1551,1323 1496,1389 1490,1320 1535,1333 1480,1401 1494,1364 1529,1370 1515,1363 1487,1392 1540,1393 1505,1372 1489,1386 1504,1358 1518,1371 1541,1365 1482,1370 1564,1359 1502,1380 1550,1379 1535,1346 1486,1383 1542,1374 1487,1367 1466,1370 1485,1389 1552,1361 1558,1339 1474,1368 1525,1379 1515,1376 1469,1385 1511,1386 1510,1347 1512,1419 1548,1337 1462,1383 1450,1376 1472,1389 1509,1368 1521,1349 1548,1338 1449,1395 1487,1359 1565,1381 1466,1420 1429,1421 1522,1354 1532,1378 1490,1369 1493,1382 1516,1340 1500,1372 1494,1363 1481,1373 1491,1365 1453,1413 1444,1427 1515,1377 1531,1361 1567,1325 1524,1355 1484,1401 1522,1359 1479,1374 1573,1346 1509,1397 1547,1373 1472,1374 1497,1355 1483,1372 1494,1397 1550,1404 1520,1382 1454,1407 1546,1344 1499,1367 1437,1410 1478,1373 1537,1330 1471,1362 1527,1375 1468,1387 1510,1367 1506,1396 1487,1388 1472,1384 1529,1365 1574,1336 1494,1385 1514,1393 1517,1370 1498,1398 1517,1374 1485,1407 1500,1410 1525,1365 1528,1360 1426,1399 1508,1356 1541,1355 1503,1425 1517,1378 1512,1381 1499,1375 1501,1379 1537,1329 1526,1380 1518,1352 1497,1387 1482,1404 1545,1349 1460,1418 1495,1319 1507,1357 1494,1394 1487,1368 1455,1371 1464,1421 1530,1358 1472,1387 1542,1355 1501,1369 1473,1392 1530,1382 1467,1372 1477,1438 1466,1382 1471,1360 1456,1398 1550,1359 1538,1375 1479,1351 1539,1349 1488,1370 1495,1405 1434,1413 1510,1355 1504,1324 1474,1375 1493,1388 1532,1375 1479,1383 1477,1410 1443,1434 1588,1372 1518,1359 1521,1367 1447,1398 1500,1392 1517,1377 1456,1387 1458,1361 1503,1356 1587,1343 1493,1398 1543,1366 1527,1356 1538,1372 1519,1386 1467,1387 1430,1382 1518,1366 1511,1369 1513,1358 1512,1339 1478,1392 1533,1358 1543,1333 1480,1359 1523,1383 1504,1384 1483,1409 1475,1381 1440,1404 1508,1319 1471,1366 1493,1397 1489,1392 1483,1398 1521,1411 1565,1376 1532,1351 1464,1380 1442,1389 1504,1357 1531,1328 1550,1345 1523,1348 1456,1398 1546,1362 1500,1362 1498,1387 1453,1381 1526,1380 1485,1398 1474,1354 1464,1379 1537,1352 1470,1423 1480,1400 1497,1362 1546,1369 1492,1367 1463,1403 1472,1390 1533,1351 1490,1376 1448,1422 1493,1387 1530,1333 1510,1358 1493,1378 1558,1363 1527,1383 1490,1374 1495,1355 1530,1380 1559,1368 1536,1396 1569,1327 1524,1371 1496,1410 1519,1358 1449,1424 1542,1366 1481,1379 1494,1379 1523,1384 1487,1402 1502,1374 1502,1364 1528,1363 1458,1393 1475,1408 1525,1351 1492,1377 1528,1364 1523,1363 1533,1358 1514,1369 1492,1413 1508,1377 1533,1405 1437,1368 1460,1400 1476,1352 1487,1375 1470,1403 1489,1371 1512,1385 1530,1321 1528,1367 1561,1316 1517,1351 1486,1391 1542,1364 1486,1360 1518,1346 1506,1335 1520,1354 1524,1379 1579,1406 1493,1405 1501,1400 1462,1376 1533,1361 1553,1346 1537,1350 1475,1399 1447,1425 1528,1351 1464,1431 1513,1416 1504,1367 1473,1350 1484,1357 1542,1354 1491,1396 1517,1387 1504,1387 1555,1336 1500,1369 1497,1401 1521,1337 1516,1360 1518,1347 1522,1324 1519,1345 1546,1349 1547,1342 1507,1323 1502,1395 1526,1360 1539,1391 1468,1399 1555,1364 1442,1382 1523,1388 1450,1371 1450,1394 1504,1393 1568,1353 1466,1371 1496,1377 1512,1381 1555,1332 1461,1413 1575,1354 1539,1403 1464,1387 1541,1339 1480,1373 1435,1421 1494,1362 1462,1423 1474,1409 1501,1395 1457,1406 1563,1382 1544,1387 1513,1385 1490,1396 1498,1376 1560,1328 1490,1359 1505,1375 1480,1398 1498,1400 1562,1352 1556,1350 1525,1336 1483,1378 1469,1385 1547,1362 1454,1397 1491,1391 1519,1361 1458,1406 1484,1380 1491,1380 1533,1338 1475,1330 1497,1401 1515,1375 1566,1372 1574,1324 1505,1385 1471,1373 1535,1368 1536,1382 1489,1393 1567,1370 1477,1439 1551,1349 1529,1390 1561,1347 1533,1371 1488,1389 1543,1357 1428,1434 1493,1361 1545,1370 1461,1394 1478,1382 1501,1406 1468,1390 1505,1343 1531,1341 1511,1384 1426,1425 1471,1416 1481,1392 1492,1395 1526,1390 1459,1366 1572,1375 1483,1381 1488,1380 1483,1420 1486,1406 1509,1411 1538,1372 1511,1354 1556,1322 1506,1378 1544,1342 1458,1420 1485,1412 1519,1347 1529,1368 1556,1354 1475,1437 1534,1367 1481,1355 1508,1372 1495,1402 1499,1376 1510,1376 1510,1395 1506,1344 1510,1342 1536,1338 1486,1382 1468,1408 1510,1365 1527,1357 1526,1363 1557,1349 1532,1313 1522,1377 1520,1374 1527,1362 1483,1386 1472,1382 1551,1379 1512,1374 1478,1366 1479,1369 1499,1365 1533,1353 1507,1396 1529,1379 1512,1381 1498,1390 1570,1363 1526,1363 1546,1372 1442,1389 1511,1346 1487,1386 1484,1364 1481,1403 1530,1351 1495,1399 1513,1367 1521,1382 1476,1356 1563,1376 1510,1378 1544,1336 1443,1412 1440,1372 1490,1352 1505,1382 1489,1393 1551,1364 1534,1364 1453,1386 1541,1387 1466,1376 1516,1391 1535,1355 1471,1380 1477,1366 1505,1388 1499,1398 1501,1364 1516,1379 1545,1323 1495,1370 1506,1349 1446,1395 1515,1371 1517,1366 1516,1377 1503,1375 1539,1368 1482,1405 1584,1322 1460,1372 1541,1377 1517,1348 1443,1381 1466,1388 1445,1421 1491,1375 1536,1341 1560,1359 1449,1367 1463,1376 1529,1350 1479,1380 1504,1422 1494,1364 1509,1366 1550,1369 1517,1327 1437,1406 1457,1393 1519,1320 1503,1393 1515,1388 1526,1346 1460,1415 1537,1391 1490,1407 1523,1328 1556,1343 1433,1430 1518,1413 1566,1350 1481,1388 1515,1362 1536,1330 1502,1396 1498,1378 1483,1374 1470,1371 1449,1440 1466,1425 1565,1406 1522,1366 1509,1379 1522,1401 1523,1370 1470,1337 1514,1329 1510,1378 1540,1375 1533,1405 1478,1395 1498,1395 1512,1391 1464,1386 1433,1439 1469,1399 1442,1347 1483,1386 1502,1373 1518,1394 1437,1390 1526,1357 1527,1370 1574,1356 1533,1338 1455,1391 1449,1387 1483,1409 1488,1421 1493,1380 1487,1374 1506,1367 1472,1403 1502,1379 1484,1405 1459,1366 1558,1371 1562,1369 1511,1360 1527,1391 1478,1379 1479,1388 1427,1413 1496,1379 1450,1406 1448,1427 1560,1353 1496,1440 1488,1366 1590,1337 1504,1364 1444,1413 1484,1368 1507,1386 1521,1351 1495,1361 1518,1379 1447,1437 1585,1325 1541,1352 1519,1387 1478,1385 1500,1346 1458,1404 1494,1386 1501,1353 1514,1365 1501,1367 1493,1370 1518,1369 1512,1405 1381,1390 1386,1413 1434,1424 1387,1436 1401,1418 1342,1381 1434,1404 1364,1392 1422,1396 1374,1405 1389,1409 1379,1402 1421,1409 1402,1411 1382,1393 1350,1430 1426,1416 1398,1421 1406,1408 1421,1420 1396,1403 1356,1390 1377,1406 1436,1394 1407,1419 1417,1394 1374,1379 1362,1391 1374,1403 1384,1400 1396,1362 1394,1403 1406,1416 1367,1416 1411,1378 1369,1403 1373,1421 1426,1376 1429,1391 1390,1378 1397,1414 1383,1398 1418,1415 1363,1389 1414,1401 1381,1371 1375,1393 1390,1394 1381,1413 1342,1404 1406,1411 1385,1399 1413,1385 1386,1379 1410,1399 1343,1433 1412,1402 1364,1396 1382,1405 1378,1399 1400,1422 1390,1431 1409,1398 1438,1384 1411,1407 1363,1380 1402,1407 1419,1411 1377,1429 1378,1419 1396,1414 1401,1387 1392,1372 1404,1409 1406,1381 1367,1424 1431,1409 1413,1395 1416,1404 1361,1403 1405,1381 1409,1374 1400,1409 1418,1399 1400,1404 1381,1391 1398,1396 1408,1377 1429,1409 1377,1398 1395,1394 1419,1402 1424,1401 1398,1415 1357,1432 1389,1416 1383,1392 1401,1422 1379,1400 1416,1408 1385,1365 1351,1419 1363,1410 1385,1398 1397,1392 1389,1400 1365,1423 1419,1400 1407,1406 1360,1406 1272,1583 1278,1539 1266,1555 1269,1528 1254,1492 1256,1525 1263,1548 1243,1561 1212,1541 1248,1545 1234,1573 1263,1571 1285,1530 1268,1519 1269,1604 1262,1522 1300,1501 1264,1594 1249,1601 1299,1542 1294,1504 1287,1550 1237,1564 1310,1496 1264,1607 1277,1549 1252,1524 1276,1566 1247,1512 1276,1581 1265,1575 1298,1518 1293,1528 1268,1535 1270,1544 1275,1527 1263,1548 1253,1540 1269,1570 1270,1531 1283,1507 1301,1531 1295,1492 1244,1561 1251,1546 1242,1565 1229,1537 1217,1529 1313,1524 1263,1542 1284,1491 1266,1523 1306,1505 1227,1572 1242,1507 1282,1488 1300,1519 1293,1570 1244,1587 1279,1551 1296,1583 1257,1566 1236,1534 1286,1537 1237,1563 1289,1545 1289,1589 1261,1571 1292,1534 1291,1518 1260,1603 1279,1524 1264,1517 1261,1562 1274,1548 1247,1568 1254,1557 1252,1585 1250,1540 1260,1515 1247,1547 1278,1521 1292,1509 1316,1511 1307,1562 1246,1562 1284,1575 1275,1517 1273,1519 1264,1536 1313,1515 1285,1528 1284,1520 1232,1565 1271,1577 1281,1565 1287,1518 1280,1501 1262,1562 1300,1503 1261,1547 1292,1483 1277,1553 1244,1556 1253,1602 1280,1543 1236,1567 1234,1558 1284,1540 1289,1572 1305,1530 1288,1575 1237,1606 1271,1529 1228,1573 1299,1568 1255,1570 1236,1606 1281,1541 1283,1544 1287,1559 1252,1563 1213,1574 1250,1578 1285,1517 1264,1595 1277,1558 1266,1534 1231,1551 1247,1563 1274,1533 1254,1527 1298,1550 1248,1562 1285,1574 1270,1543 1236,1519 1254,1519 1285,1522 1281,1526 1257,1520 1236,1524 1273,1546 1269,1574 1267,1585 1243,1516 1263,1568 1282,1562 1284,1523 1241,1541 1309,1533 1317,1523 1280,1530 1281,1501 1297,1555 1269,1484 1296,1481 1230,1537 1234,1594 1262,1543 1274,1546 1224,1538 1316,1514 1269,1511 1235,1593 1276,1548 1214,1603 1275,1539 1287,1569 1244,1528 1254,1575 1268,1535 1263,1586 1243,1579 1283,1521 1261,1551 1267,1531 1252,1592 1280,1535 1281,1522 1251,1586 1244,1571 1307,1541 1287,1530 1270,1537 1262,1541 1288,1573 1249,1543 1242,1590 1275,1545 1304,1490 1290,1514 1259,1582 1275,1519 1241,1572 1256,1538 1271,1535 1290,1513 1280,1574 1269,1559 1244,1581 1269,1518 1263,1545 1294,1571 1284,1525 1242,1594 1247,1587 1272,1570 1228,1578 1227,1611 1254,1540 1257,1555 1266,1543 1272,1534 1276,1554 1222,1592 1269,1501 1281,1500 1288,1524 1283,1556 1354,1442 1314,1482 1348,1436 1379,1466 1303,1518 1339,1453 1327,1474 1328,1480 1321,1491 1313,1485 1345,1505 1351,1480 1321,1471 1335,1475 1339,1459 1342,1428 1332,1464 1364,1450 1345,1447 1322,1489 1357,1441 1346,1458 1338,1443 1320,1462 1342,1435 1341,1448 1315,1498 1328,1477 1309,1473 1329,1482 1308,1470 1373,1443 1336,1447 1319,1444 1316,1471 1332,1479 1350,1430 1319,1478 1339,1438 1371,1404 1330,1484 1354,1433 1313,1481 1309,1508 1339,1459 1328,1429 1334,1506 1354,1446 1309,1426 1316,1452 1381,1408 1324,1487 1337,1422 1299,1500 1321,1468 1323,1458 1348,1449 1324,1455 1365,1440 1346,1435 1319,1443 1347,1454 1317,1497 1363,1427 1349,1435 1343,1478 1381,1420 1330,1447 1315,1511 1316,1474 1577,1321 1551,1314 1504,1325 1533,1296 1520,1302 1515,1326 1529,1310 1588,1302 1574,1310 1561,1305 1565,1305 1540,1306 1533,1326 1572,1318 1525,1302 1516,1318 1515,1303 1600,1322 1566,1290 1518,1317 1533,1310 1561,1319 1520,1323 1540,1316 1597,1301 1539,1308 1535,1303 1546,1316 1521,1304 1532,1314 1526,1321 1527,1309 1543,1322 1536,1313 1540,1292 1511,1310 1569,1310 1573,1302 1576,1307 1540,1314 1597,1306 1551,1319 1568,1305 1589,1300 1545,1311 1528,1302 1574,1307 1550,1304 1555,1304 1554,1296 1615,1291 1599,1335 1596,1320 1585,1373 1583,1373 1438,1486 1393,1504 1389,1494 1361,1515 1267,1453 1289,1424 1314,1404 1321,1394 1351,1388 1382,1368 1481,1443 1501,1435 1538,1409 1414,1451 1425,1454 1303,1449 1308,1447" fill="none" stroke="none" marker-start="url(#ast)" marker-mid="url(#ast)" marker-end="url(#ast)"/>
<path d="M1160.4,1702.2 L1635.9,1227.4" stroke="#000" stroke-width="1.4"/>
<rect x="1160.4" y="1227.4" width="475.5" height="474.8" fill="none" stroke="#000" stroke-width="1.6"/>
<g stroke="#000" stroke-width="1.3">
<path d="M1160.4,1702.2 v-6 M1160.4,1227.4 v6"/>
<path d="M1266.1,1702.2 v-6 M1266.1,1227.4 v6"/>
<path d="M1371.7,1702.2 v-6 M1371.7,1227.4 v6"/>
<path d="M1477.4,1702.2 v-6 M1477.4,1227.4 v6"/>
<path d="M1583.1,1702.2 v-6 M1583.1,1227.4 v6"/>
<path d="M1160.4,1702.2 h6 M1635.9,1702.2 h-6"/>
<path d="M1160.4,1649.4 h6 M1635.9,1649.4 h-6"/>
<path d="M1160.4,1596.7 h6 M1635.9,1596.7 h-6"/>
<path d="M1160.4,1543.9 h6 M1635.9,1543.9 h-6"/>
<path d="M1160.4,1491.2 h6 M1635.9,1491.2 h-6"/>
<path d="M1160.4,1438.4 h6 M1635.9,1438.4 h-6"/>
<path d="M1160.4,1385.7 h6 M1635.9,1385.7 h-6"/>
<path d="M1160.4,1332.9 h6 M1635.9,1332.9 h-6"/>
<path d="M1160.4,1280.2 h6 M1635.9,1280.2 h-6"/>
<path d="M1160.4,1227.4 h6 M1635.9,1227.4 h-6"/>
</g>
<g font-family="'Liberation Sans', Arial, Helvetica, sans-serif" font-size="28" fill="#000">
<text transform="translate(1160.4,1734.2)" font-size="31" text-anchor="middle">0</text>
<text transform="translate(1266.1,1734.2)" font-size="31" text-anchor="middle">100</text>
<text transform="translate(1371.7,1734.2)" font-size="31" text-anchor="middle">200</text>
<text transform="translate(1477.4,1734.2)" font-size="31" text-anchor="middle">300</text>
<text transform="translate(1583.1,1734.2)" font-size="31" text-anchor="middle">400</text>
<text transform="translate(1156.4,1714.5)" font-size="31" text-anchor="end">0</text>
<text transform="translate(1156.4,1661.7)" font-size="31" text-anchor="end">50</text>
<text transform="translate(1156.4,1609.0)" font-size="31" text-anchor="end">100</text>
<text transform="translate(1156.4,1556.2)" font-size="31" text-anchor="end">150</text>
<text transform="translate(1156.4,1503.5)" font-size="31" text-anchor="end">200</text>
<text transform="translate(1156.4,1450.7)" font-size="31" text-anchor="end">250</text>
<text transform="translate(1156.4,1398.0)" font-size="31" text-anchor="end">300</text>
<text transform="translate(1156.4,1345.2)" font-size="31" text-anchor="end">350</text>
<text transform="translate(1156.4,1292.5)" font-size="31" text-anchor="end">400</text>
<text transform="translate(1156.4,1239.7)" font-size="31" text-anchor="end">450</text>
</g>
<text transform="translate(1398.2,1761.7) scale(0.91,1)" font-size="25.8" text-anchor="middle">Observations</text>
<text transform="translate(1398.2,1206.4) scale(0.93,1)" font-size="25.6" text-anchor="middle">2016</text>
<text transform="translate(1093.0,1464.8) rotate(-90)" font-size="23.5" text-anchor="middle">Simulation</text>
<text transform="translate(1072.5,1229.5)" font-size="33.5" font-weight="bold">G</text>
<path d="M1354,2013 1434,2028 1313,2095 1385,2025 1493,1988 1502,2010 1327,2046 1396,1983 1397,2050 1391,2049 1477,1977 1343,2053 1431,1992 1395,2062 1494,2046 1316,2102 1316,2038 1372,2037 1425,2045 1364,2029 1458,1999 1450,2070 1500,2025 1303,2102 1321,2050 1408,2031 1398,2032 1469,1994 1336,2101 1497,1974 1363,2072 1372,2043 1430,1992 1321,2032 1317,2039 1440,2044 1472,1978 1313,2050 1333,2074 1383,2066 1452,1998 1457,2010 1471,2041 1466,2028 1356,2062 1312,2045 1372,2054 1469,2025 1331,2050 1499,2060 1329,2058 1368,2068 1413,2039 1422,2000 1362,1988 1414,2034 1432,2045 1420,2026 1495,1978 1362,2050 1326,2082 1453,2016 1317,2052 1384,1993 1403,2052 1316,2015 1287,2049 1469,2021 1340,2057 1370,2066 1498,2022 1305,2068 1484,2018 1415,2000 1442,2022 1474,1993 1418,2051 1348,2036 1388,2066 1392,2036 1346,2013 1462,1994 1503,2004 1367,2076 1307,2053 1363,2040 1354,2028 1284,2066 1412,2018 1504,2030 1383,2104 1488,2004 1492,2027 1418,2052 1476,1975 1369,2107 1377,2025 1473,2024 1492,1990 1318,2045 1463,2030 1415,2059 1501,2012 1488,2029 1378,2025 1423,1978 1466,2017 1452,2040 1456,2006 1433,2026 1439,2018 1325,2040 1438,1983 1294,2058 1351,2052 1447,2034 1478,2036 1303,2044 1389,2016 1319,2050 1364,2081 1423,2022 1321,2099 1487,1997 1455,2001 1376,2057 1466,2043 1491,2023 1476,1972 1402,2057 1333,2046 1476,1999 1461,1990 1324,2043 1339,2035 1369,2010 1348,2059 1313,2047 1425,2020 1395,2081 1476,1982 1338,2019 1313,2078 1479,1981 1294,2078 1302,2073 1373,2053 1489,2037 1445,2008 1482,2039 1417,1987 1416,2026 1433,2028 1370,2057 1298,2066 1484,2025 1406,2053 1395,1999 1395,2095 1450,2028 1342,2049 1317,2074 1414,2034 1416,2030 1326,2054 1357,2041 1294,1991 1372,2049 1374,2032 1465,2013 1321,2092 1470,2020 1409,2048 1408,2037 1402,2017 1317,2099 1486,2018 1378,2030 1330,2053 1500,1995 1372,2037 1291,2067 1433,2086 1435,1998 1503,1984 1334,2085 1466,2005 1452,2039 1339,2070 1351,2029 1441,2031 1399,2069 1373,2035 1373,2073 1489,2014 1447,2014 1316,2036 1326,2065 1438,2039 1411,2044 1459,2012 1500,2042 1495,2021 1343,2021 1415,1974 1328,2075 1379,2019 1332,2061 1397,2040 1330,2058 1399,2026 1330,2079 1411,2008 1337,2068 1355,2029 1450,2016 1453,2017 1421,2021 1484,2037 1431,2047 1398,2049 1449,2029 1331,2043 1387,2016 1325,2018 1486,2013 1303,2057 1480,2023 1381,2081 1359,2077 1296,2073 1304,2048 1397,2078 1329,2104 1486,2045 1460,2060 1285,2098 1398,2063 1331,2065 1344,2061 1400,2009 1386,2060 1355,2013 1405,2068 1303,2051 1330,2023 1349,2054 1314,2063 1501,1996 1305,2103 1365,1988 1446,2048 1417,2040 1493,2027 1474,2001 1468,2003 1474,2065 1320,2063 1313,2097 1501,2031 1461,2026 1440,2021 1420,2061 1498,1984 1451,2031 1459,2051 1501,2006 1448,2059 1429,2038 1386,2035 1478,2041 1440,1988 1329,2053 1365,2061 1312,2042 1326,2018 1337,2059 1413,2095 1413,2033 1308,2055 1311,2068 1430,2008 1463,2072 1286,2034 1476,1995 1350,2032 1414,2024 1457,2000 1410,2015 1368,2052 1352,1993 1387,2035 1344,2103 1446,1983 1494,1995 1462,1987 1400,2049 1406,2016 1403,2045 1386,2040 1403,2042 1484,1979 1357,2046 1359,2086 1418,2056 1323,2097 1318,2088 1376,2031 1435,2024 1443,2033 1347,2089 1381,2084 1335,2042 1402,2031 1403,2035 1317,2076 1433,2031 1504,1979 1445,2023 1312,2020 1331,2046 1393,2014 1330,2091 1458,2017 1392,2031 1354,2063 1406,2018 1390,2037 1396,2046 1462,2016 1337,2062 1406,2020 1329,2062 1359,2045 1459,2056 1438,1985 1496,1976 1394,2048 1504,1985 1425,2004 1436,2026 1309,2059 1345,2063 1371,2088 1333,2090 1452,2017 1338,2021 1424,2032 1485,2042 1297,2083 1406,2018 1364,2052 1315,2070 1361,2075 1417,2045 1394,2022 1318,2062 1408,2020 1361,2082 1500,1988 1500,2011 1381,2048 1367,2072 1385,2023 1467,2023 1395,2051 1307,2068 1385,1997 1373,2041 1456,2009 1344,2028 1362,2086 1314,2067 1395,2024 1470,1983 1473,2014 1468,1995 1382,2073 1381,2055 1383,2046 1444,2031 1498,2017 1393,2049 1413,1989 1403,2021 1363,2061 1358,2064 1444,2044 1416,2074 1452,2014 1358,2058 1416,2039 1373,2047 1491,2005 1421,2033 1314,2071 1375,2104 1299,2042 1458,2008 1425,2039 1308,2055 1479,2037 1480,2020 1384,2028 1377,2048 1391,2032 1365,2078 1373,2052 1327,2071 1379,1989 1331,2064 1378,2051 1308,2000 1323,2033 1390,2028 1407,2032 1401,2046 1370,1991 1337,2012 1366,2050 1336,2068 1459,2031 1286,2096 1443,2036 1423,2035 1466,1979 1366,2071 1424,2005 1328,2082 1365,2065 1428,2054 1482,2006 1388,2033 1425,2006 1495,2038 1420,2001 1324,2096 1354,2049 1455,2017 1462,2044 1380,2041 1355,2073 1492,1999 1442,2005 1372,2011 1425,2041 1428,2020 1468,2041 1463,2029 1410,2080 1336,2035 1382,2049 1399,2019 1391,2056 1461,2023 1451,1997 1474,2036 1359,2045 1421,2043 1451,2003 1352,2015 1334,2073 1470,2022 1311,2032 1503,2043 1494,1997 1483,2026 1351,2078 1344,2058 1502,1988 1488,1992 1370,2071 1391,2041 1309,2050 1329,2069 1462,2017 1496,1987 1384,2018 1405,2039 1349,2060 1465,2046 1388,2039 1453,2030 1499,1991 1439,2001 1337,2066 1386,2057 1390,2074 1415,2012 1380,2017 1333,2067 1342,2083 1291,2096 1392,2060 1408,2045 1349,2054 1389,2043 1325,2069 1466,2024 1323,2045 1384,2046 1470,1974 1381,2017 1381,2050 1365,2038 1385,2050 1440,2000 1429,2012 1348,2090 1499,2032 1433,2038 1367,2023 1345,2064 1367,2041 1366,2060 1376,2043 1482,2024 1332,2040 1347,2103 1499,1996 1499,1999 1483,1990 1319,2078 1377,2083 1352,2071 1370,2054 1449,2012 1505,2052 1367,2107 1375,2090 1493,1975 1472,2072 1396,2023 1359,2048 1476,1990 1310,2042 1337,2088 1449,2005 1434,2051 1394,2005 1380,2032 1357,2057 1347,2091 1318,2061 1453,2032 1482,1993 1420,2029 1341,2043 1505,2015 1337,2073 1307,2067 1396,2023 1345,2026 1458,2028 1437,2030 1501,1992 1500,1977 1320,2074 1358,2023 1340,2036 1313,2096 1370,2044 1355,2043 1474,2032 1425,2034 1302,2096 1398,2051 1355,2053 1429,2022 1499,2035 1432,2016 1416,2083 1474,1992 1320,2055 1360,2049 1363,2064 1396,2010 1484,2004 1443,1997 1488,1998 1355,2019 1300,2068 1466,2012 1359,2099 1404,2050 1348,2043 1483,1988 1398,2067 1407,2041 1380,2080 1397,1989 1505,2002 1352,2083 1498,2007 1329,2038 1400,2039 1479,2010 1330,2022 1483,2015 1373,2013 1403,2064 1302,2051 1321,2066 1360,2047 1401,2088 1415,2065 1463,2014 1423,2046 1384,2012 1355,2054 1427,2009 1289,2053 1362,2007 1287,2071 1493,1982 1381,2068 1395,2058 1309,2103 1459,2026 1401,2030 1473,1975 1470,2027 1367,2059 1420,2019 1355,2048 1329,2099 1379,2039 1327,2081 1368,2077 1442,2078 1414,2042 1317,2058 1409,2020 1321,2085 1450,2011 1414,2030 1420,2064 1444,2025 1496,1999 1327,2052 1504,2039 1337,2072 1427,2045 1472,2001 1400,2047 1435,2056 1421,1997 1380,2046 1403,2068 1296,2099 1332,2043 1468,2045 1320,2071 1352,2047 1389,1996 1430,2042 1457,2030 1422,2030 1465,2017 1404,2064 1405,1976 1379,2040 1482,2008 1493,2017 1448,2020 1330,2077 1363,2000 1325,2048 1478,1997 1417,1995 1483,2045 1478,2044 1481,1990 1380,2060 1492,1979 1339,2036 1341,2085 1318,2049 1488,1991 1367,2080 1303,2071 1403,2037 1361,2061 1360,2081 1455,2001 1426,2065 1366,2031 1327,2073 1480,2014 1499,2000 1439,2019 1454,2005 1434,2047 1448,2025 1481,2007 1397,2032 1411,2061 1387,2004 1373,2058 1465,2017 1356,2070 1351,2073 1315,2076 1403,2047 1419,2056 1340,2079 1404,2023 1407,2014 1345,2029 1479,1989 1488,2032 1314,2095 1401,1982 1449,2064 1373,2041 1351,2080 1449,2056 1444,2055 1325,2059 1342,2068 1320,2074 1370,2022 1455,2055 1421,2019 1408,2006 1388,2026 1356,2072 1469,2050 1327,2089 1413,2055 1409,2038 1357,2042 1494,2027 1357,2072 1501,2001 1407,2008 1310,2051 1430,2026 1413,2028 1345,2063 1462,2001 1419,2060 1328,2092 1468,1974 1416,1992 1482,2020 1340,1994 1317,2071 1417,2012 1458,1997 1475,2050 1395,2024 1401,2034 1453,2038 1333,2025 1428,2019 1285,2073 1455,2043 1399,2023 1476,2060 1381,2029 1471,2023 1352,2059 1473,2009 1438,1999 1307,2067 1440,2028 1460,2001 1365,2052 1461,1999 1480,2013 1321,2082 1493,2018 1490,1988 1430,2027 1343,2012 1448,2018 1400,2026 1343,2006 1486,2004 1333,2030 1376,2068 1410,2033 1368,2095 1462,2039 1377,2001 1324,2077 1376,2024 1411,2057 1360,2090 1327,2022 1443,2083 1466,2013 1349,2046 1414,2071 1430,2038 1374,2062 1356,2036 1375,2045 1341,2059 1452,2067 1305,2070 1499,1982 1431,2069 1459,2021 1423,2039 1497,1992 1495,2019 1312,2045 1317,2027 1332,2064 1466,2038 1327,2093 1484,2013 1386,2012 1329,2075 1438,1986 1456,1977 1332,2098 1432,2023 1388,2005 1488,1978 1373,2081 1383,2064 1347,1996 1380,2048 1460,1974 1362,2076 1406,2054 1371,2032 1423,2003 1399,2058 1316,2071 1490,1988 1499,1986 1418,2068 1377,2035 1461,2024 1362,2035 1456,2069 1353,2013 1430,2011 1449,2031 1415,2019 1446,2028 1491,2008 1326,2041 1377,2080 1340,2097 1476,2022 1494,1990 1501,1985 1453,1999 1492,2002 1489,2003 1463,2018 1463,2011 1492,2014 1494,2012 1475,2034 1471,2013 1489,2006 1506,2025 1493,2010 1468,2051 1499,2007 1492,2015 1484,1983 1481,2013 1454,2035 1488,2040 1488,2009 1494,2001 1461,2004 1480,2022 1470,2030 1477,2011 1477,1995 1490,2030 1457,2041 1486,2004 1475,2017 1461,2035 1456,2010 1468,2024 1461,2005 1483,2017 1470,2013 1472,1991 1483,2011 1492,2014 1469,2007 1494,2012 1499,1997 1472,2000 1473,1992 1458,2001 1493,1985 1491,2021 1491,1989 1464,1991 1474,1989 1463,2017 1473,1981 1454,2020 1475,1996 1489,2030 1467,2027 1482,1989 1486,2020 1479,2005 1467,1981 1463,2000 1464,2027 1466,2012 1452,1996 1493,2000 1478,1999 1470,2016 1479,1991 1467,1979 1474,1997 1481,1998 1478,1994 1452,2021 1470,2007 1453,2009 1508,2014 1478,1997 1464,1992 1483,2008 1476,2010 1452,2020 1482,1993 1493,2011 1478,1987 1476,2027 1497,1984 1499,2021 1470,2027 1477,2009 1492,2006 1466,2021 1479,2022 1489,1990 1457,1992 1468,2034 1456,2007 1506,2011 1487,2012 1481,1996 1485,2036 1471,2026 1468,2016 1472,1978 1473,2023 1476,2002 1445,2018 1475,1983 1476,2027 1488,2015 1468,2030 1473,2019 1462,2026 1496,1999 1475,2008 1467,1980 1489,2002 1474,2036 1477,2005 1481,2014 1479,2015 1455,2042 1484,2006 1486,1989 1478,2014 1479,2020 1458,2030 1470,2016 1468,2050 1496,1993 1460,2009 1475,2004 1465,2020 1479,2005 1474,1999 1471,1988 1487,2016 1480,2005 1467,2034 1479,2002 1478,2005 1461,2050 1482,2001 1470,2027 1480,1998 1482,2030 1496,1993 1488,1991 1484,1999 1263,2199 1236,2202 1233,2178 1233,2198 1241,2203 1214,2222 1251,2218 1248,2213 1234,2184 1256,2172 1285,2170 1303,2200 1223,2208 1238,2198 1276,2141 1280,2123 1232,2236 1208,2231 1253,2159 1216,2231 1267,2156 1213,2204 1242,2214 1245,2208 1259,2196 1261,2153 1212,2242 1301,2136 1264,2181 1261,2183 1271,2172 1225,2186 1239,2218 1249,2173 1282,2160 1259,2166 1257,2197 1230,2167 1225,2215 1254,2202 1239,2212 1249,2173 1246,2218 1251,2144 1225,2181 1303,2164 1263,2174 1265,2177 1274,2168 1244,2183 1258,2225 1252,2205 1267,2134 1235,2175 1238,2203 1252,2185 1258,2152 1222,2238 1262,2171 1226,2228 1229,2176 1274,2147 1261,2195 1285,2188 1225,2232 1284,2134 1234,2189 1240,2161 1232,2157 1234,2197 1245,2182 1265,2129 1224,2206 1267,2150 1249,2192 1247,2193 1252,2180 1219,2218 1261,2179 1279,2130 1269,2151 1249,2231 1267,2191 1257,2167 1249,2188 1274,2194 1229,2225 1253,2202 1237,2225 1233,2206 1264,2193 1239,2200 1249,2193 1285,2125 1249,2191 1259,2178 1247,2167 1237,2190 1229,2211 1249,2160 1229,2219 1303,2135 1303,2183 1222,2197 1259,2135 1241,2209 1239,2175 1215,2241 1255,2160 1254,2156 1240,2175 1256,2124 1250,2166 1269,2192 1264,2156 1255,2181 1257,2200 1263,2163 1263,2133 1258,2121 1259,2180 1252,2220 1236,2216 1258,2171 1287,2144 1278,2162 1256,2160 1275,2150 1238,2199 1223,2205 1247,2189 1246,2204 1277,2147 1217,2209 1265,2167 1223,2235 1209,2216 1246,2206 1256,2166 1249,2217 1264,2212 1228,2231 1232,2191 1251,2144 1219,2219 1281,2163 1232,2156 1239,2167 1270,2174 1268,2166 1247,2219 1258,2132 1230,2242 1264,2149 1270,2132 1284,2150 1245,2176 1228,2183 1241,2134 1274,2165 1272,2173 1251,2201 1251,2178 1197,2240 1292,2143 1238,2171 1270,2136 1235,2206 1216,2184 1271,2112 1213,2101 1226,2109 1235,2079 1247,2086 1237,2088 1281,2059 1230,2067 1242,2093 1234,2065 1265,2123 1260,2080 1230,2057 1295,2106 1212,2063 1272,2059 1234,2074 1278,2114 1231,2087 1277,2069 1230,2096 1296,2076 1263,2092 1287,2089 1250,2101 1240,2113 1215,2064 1245,2116 1282,2064 1287,2118 1282,2091 1270,2111 1291,2086 1224,2091 1219,2113 1235,2098 1254,2098 1267,2069 1263,2105 1230,2096 1253,2061 1524,2008 1524,2018 1534,2056 1538,2008 1538,1989 1534,1984 1548,1989 1553,1970 1558,1984 1538,1960 1548,1936 1572,1922 1577,1936 1572,1941 1572,2023 1524,2095 1534,2076 1538,2056 1466,1960 1437,1965 1154,2105 1207,2153 1351,2234 1375,2215 1288,1994 1389,2133 1394,2148 1360,2124 1375,2124 1317,2148 1187,2215 1192,2215 1197,2225 1216,2210 1216,2105 1226,2071 1221,2090" fill="none" stroke="none" marker-start="url(#ast)" marker-mid="url(#ast)" marker-end="url(#ast)"/>
<path d="M1153.6,2297.0 L1634.7,1815.8" stroke="#000" stroke-width="1.4"/>
<rect x="1153.6" y="1815.8" width="481.1" height="481.2" fill="none" stroke="#000" stroke-width="1.6"/>
<g stroke="#000" stroke-width="1.3">
<path d="M1153.6,2297.0 v-6 M1153.6,1815.8 v6"/>
<path d="M1249.8,2297.0 v-6 M1249.8,1815.8 v6"/>
<path d="M1346.0,2297.0 v-6 M1346.0,1815.8 v6"/>
<path d="M1442.3,2297.0 v-6 M1442.3,1815.8 v6"/>
<path d="M1538.5,2297.0 v-6 M1538.5,1815.8 v6"/>
<path d="M1153.6,2297.0 h6 M1634.7,2297.0 h-6"/>
<path d="M1153.6,2200.8 h6 M1634.7,2200.8 h-6"/>
<path d="M1153.6,2104.5 h6 M1634.7,2104.5 h-6"/>
<path d="M1153.6,2008.3 h6 M1634.7,2008.3 h-6"/>
<path d="M1153.6,1912.0 h6 M1634.7,1912.0 h-6"/>
<path d="M1153.6,1815.8 h6 M1634.7,1815.8 h-6"/>
</g>
<g font-family="'Liberation Sans', Arial, Helvetica, sans-serif" font-size="28" fill="#000">
<text transform="translate(1153.6,2329.0)" font-size="31" text-anchor="middle">7.4</text>
<text transform="translate(1249.8,2329.0)" font-size="31" text-anchor="middle">7.6</text>
<text transform="translate(1346.0,2329.0)" font-size="31" text-anchor="middle">7.8</text>
<text transform="translate(1442.3,2329.0)" font-size="31" text-anchor="middle">8</text>
<text transform="translate(1538.5,2329.0)" font-size="31" text-anchor="middle">8.2</text>
<text transform="translate(1149.6,2309.3)" font-size="31" text-anchor="end">7.4</text>
<text transform="translate(1149.6,2213.1)" font-size="31" text-anchor="end">7.6</text>
<text transform="translate(1149.6,2116.8)" font-size="31" text-anchor="end">7.8</text>
<text transform="translate(1149.6,2020.6)" font-size="31" text-anchor="end">8</text>
<text transform="translate(1149.6,1924.3)" font-size="31" text-anchor="end">8.2</text>
<text transform="translate(1149.6,1828.1)" font-size="31" text-anchor="end">8.4</text>
</g>
<text transform="translate(1394.2,2356.5) scale(0.91,1)" font-size="25.8" text-anchor="middle">Observations</text>
<text transform="translate(1394.2,1794.8) scale(0.93,1)" font-size="25.6" text-anchor="middle">2016</text>
<text transform="translate(1095.0,2056.4) rotate(-90)" font-size="23.5" text-anchor="middle">Simulation</text>
<text transform="translate(1072.5,1810.0)" font-size="33.5" font-weight="bold">H</text>
<text transform="translate(429.7,2352.0) scale(0.93,1)" font-size="30" text-anchor="middle">(km)</text>
</svg></body></html>
